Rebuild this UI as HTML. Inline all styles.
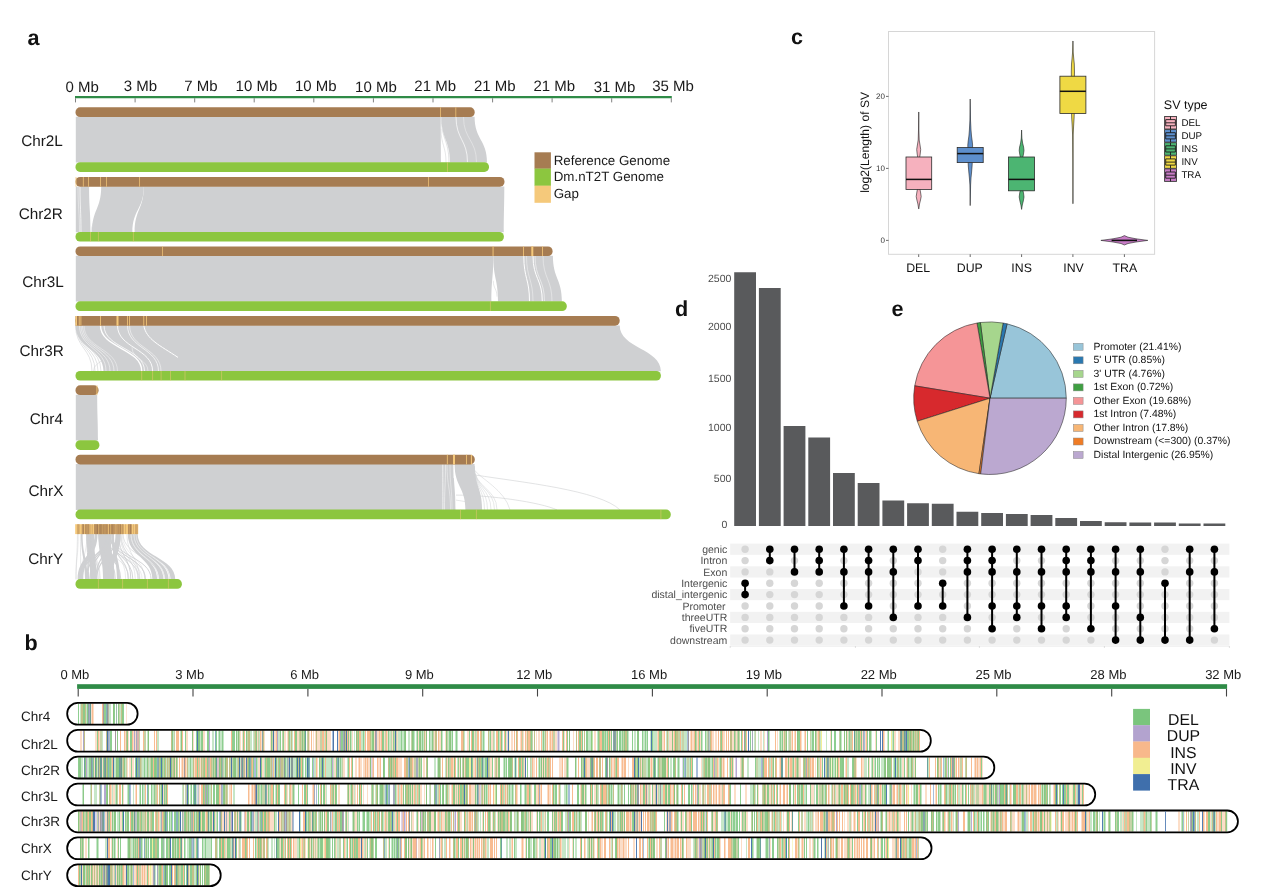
<!DOCTYPE html>
<html lang="en">
<head>
<meta charset="utf-8">
<title>Figure</title>
<style>
html,body{margin:0;padding:0;background:#fff;}
body{width:1267px;height:896px;overflow:hidden;}
svg{display:block;will-change:transform;}
text{font-family:"Liberation Sans",sans-serif;text-rendering:geometricPrecision;}
</style>
</head>
<body>
<svg width="1267" height="896" viewBox="0 0 1267 896">
<g id="panel-a">
<line x1="75" y1="97.2" x2="671.8" y2="97.2" stroke="#2f8b47" stroke-width="2.2"/>
<path d="M75.5 98.2v4.2M135.1 98.2v4.2M194.7 98.2v4.2M254.2 98.2v4.2M313.8 98.2v4.2M373.4 98.2v4.2M433 98.2v4.2M492.6 98.2v4.2M552.1 98.2v4.2M611.7 98.2v4.2M671.3 98.2v4.2" stroke="#808080" stroke-width="1" fill="none"/>
<text x="65.4" y="92.0" font-size="15" fill="#1a1a1a">0 Mb</text>
<text x="123.7" y="91.2" font-size="15" fill="#1a1a1a">3 Mb</text>
<text x="184.2" y="91.2" font-size="15" fill="#1a1a1a">7 Mb</text>
<text x="235.6" y="91.2" font-size="15" fill="#1a1a1a">10 Mb</text>
<text x="295" y="91.2" font-size="15" fill="#1a1a1a">10 Mb</text>
<text x="355.1" y="92.3" font-size="15" fill="#1a1a1a">10 Mb</text>
<text x="414.3" y="91.2" font-size="15" fill="#1a1a1a">21 Mb</text>
<text x="473.9" y="91.2" font-size="15" fill="#1a1a1a">21 Mb</text>
<text x="533.4" y="91.2" font-size="15" fill="#1a1a1a">21 Mb</text>
<text x="593.7" y="92.3" font-size="15" fill="#1a1a1a">31 Mb</text>
<text x="652.2" y="91.2" font-size="15" fill="#1a1a1a">35 Mb</text>
<path d="M75.8 116.7C75.8 139.6 75.8 139.6 75.8 162.5L441 162.5C441 139.6 440.7 139.6 440.7 116.7Z" fill="#cfd0d2"/>
<path d="M441.4 116.7C441.4 139.6 450 139.6 450 162.5L487 162.5C487 139.6 474.6 139.6 474.6 116.7Z" fill="#cfd0d2"/>
<path d="M456 116.7C456 139.6 467.5 139.6 467.5 162.5" fill="none" stroke="#fff" stroke-width="0.7"/>
<path d="M463.5 116.7C463.5 139.6 476.5 139.6 476.5 162.5" fill="none" stroke="#fff" stroke-width="0.5" stroke-opacity="0.7"/>
<path d="M441.2 116.7C441.2 139.6 449 139.6 449 162.5" fill="none" stroke="#cfd0d2" stroke-width="0.6"/>
<path d="M441 128.7C441 145.6 446 145.6 446 162.5" fill="none" stroke="#cfd0d2" stroke-width="0.5"/>
<rect x="75.5" y="107.3" width="399.2" height="9.7" rx="4.6" fill="#a67c52"/>
<rect x="440" y="107.3" width="0.7" height="9.7" fill="#f5c97b"/>
<rect x="455.5" y="107.3" width="0.7" height="9.7" fill="#f5c97b"/>
<rect x="75.5" y="162.2" width="413.5" height="9.7" rx="4.6" fill="#8cc63f"/>
<path d="M447.5 162.2v9.7" stroke="#f5c97b" stroke-width="0.6" stroke-opacity="0.8" fill="none"/>
<text x="62.9" y="146.0" font-size="15.3" text-anchor="end" fill="#1a1a1a">Chr2L</text>
<path d="M75.8 186.4C75.8 209.3 75.8 209.3 75.8 232.2L90.5 232.2C90.5 209.3 89.1 209.3 89.1 186.4Z" fill="#cfd0d2"/>
<path d="M101.2 186.4C101.2 209.3 92 209.3 92 232.2L132.4 232.2C132.4 209.3 143.8 209.3 143.8 186.4Z" fill="#cfd0d2"/>
<path d="M143.8 186.4C143.8 209.3 134.6 209.3 134.6 232.2L503.8 232.2C503.8 209.3 504.3 209.3 504.3 186.4Z" fill="#cfd0d2"/>
<path d="M80 186.4C80 209.3 81 209.3 81 232.2" fill="none" stroke="#fff" stroke-width="0.7"/>
<path d="M78 186.4C78 209.3 79.5 209.3 79.5 232.2" fill="none" stroke="#fff" stroke-width="0.4"/>
<path d="M99 206.4C99 219.3 91.5 219.3 91.5 232.2" fill="none" stroke="#cfd0d2" stroke-width="0.5"/>
<rect x="75.5" y="177.0" width="429" height="9.7" rx="4.6" fill="#a67c52"/>
<rect x="75.6" y="177.0" width="0.8" height="9.7" fill="#f5c97b"/>
<rect x="82.9" y="177.0" width="0.7" height="9.7" fill="#f5c97b"/>
<rect x="88.1" y="177.0" width="0.7" height="9.7" fill="#f5c97b"/>
<rect x="100.2" y="177.0" width="0.7" height="9.7" fill="#f5c97b"/>
<rect x="106.2" y="177.0" width="0.7" height="9.7" fill="#f5c97b"/>
<rect x="139.2" y="177.0" width="0.7" height="9.7" fill="#f5c97b"/>
<rect x="428" y="177.0" width="0.7" height="9.7" fill="#f5c97b"/>
<rect x="75.5" y="231.9" width="428.4" height="9.7" rx="4.6" fill="#8cc63f"/>
<path d="M90.5 231.9v9.7M98.4 231.9v9.7M133.4 231.9v9.7" stroke="#f5c97b" stroke-width="0.6" stroke-opacity="0.8" fill="none"/>
<text x="62.9" y="218.7" font-size="15.3" text-anchor="end" fill="#1a1a1a">Chr2R</text>
<path d="M75.8 255.8C75.8 278.7 75.8 278.7 75.8 301.6L491.4 301.6C491.4 278.7 493.3 278.7 493.3 255.8Z" fill="#cfd0d2"/>
<path d="M493.3 255.8C493.3 278.7 498 278.7 498 301.6L561.9 301.6C561.9 278.7 552.9 278.7 552.9 255.8Z" fill="#cfd0d2"/>
<path d="M523.8 255.8C523.8 278.7 529.5 278.7 529.5 301.6" fill="none" stroke="#fff" stroke-width="1.0"/>
<path d="M526.5 255.8C526.5 278.7 533 278.7 533 301.6" fill="none" stroke="#fff" stroke-width="0.4"/>
<path d="M533 255.8C533 278.7 542.3 278.7 542.3 301.6" fill="none" stroke="#fff" stroke-width="1.0"/>
<path d="M535 255.8C535 278.7 544.5 278.7 544.5 301.6" fill="none" stroke="#fff" stroke-width="0.5"/>
<path d="M543 255.8C543 278.7 552 278.7 552 301.6" fill="none" stroke="#fff" stroke-width="0.4"/>
<path d="M493.3 280.8C493.3 288.7 497 288.7 497 296.6" fill="none" stroke="#cfd0d2" stroke-width="0.5"/>
<rect x="75.5" y="246.4" width="477.1" height="9.7" rx="4.6" fill="#a67c52"/>
<rect x="162.2" y="246.4" width="0.7" height="9.7" fill="#f5c97b"/>
<rect x="492.6" y="246.4" width="0.9" height="9.7" fill="#f5c97b"/>
<rect x="523.1" y="246.4" width="0.8" height="9.7" fill="#f5c97b"/>
<rect x="531.3" y="246.4" width="2.0" height="9.7" fill="#f5c97b"/>
<rect x="542.2" y="246.4" width="0.8" height="9.7" fill="#f5c97b"/>
<rect x="75.5" y="301.3" width="491.3" height="9.7" rx="4.6" fill="#8cc63f"/>
<path d="M490.4 301.3v9.7" stroke="#f5c97b" stroke-width="0.6" stroke-opacity="0.8" fill="none"/>
<text x="63.9" y="287.0" font-size="15.3" text-anchor="end" fill="#1a1a1a">Chr3L</text>
<path d="M75.5 325.4C75.5 348.3 103.5 348.3 103.5 371.2L660.9 371.2C660.9 348.3 619.7 348.3 619.7 325.4Z" fill="#cfd0d2"/>
<path d="M75.6 325.4C75.6 348.3 92 348.3 92 371.2" fill="none" stroke="#cfd0d2" stroke-width="0.6"/>
<path d="M76.5 325.4C76.5 348.3 95 348.3 95 371.2" fill="none" stroke="#cfd0d2" stroke-width="0.6"/>
<path d="M77.2 325.4C77.2 348.3 98 348.3 98 371.2" fill="none" stroke="#cfd0d2" stroke-width="0.6"/>
<path d="M78 325.4C78 348.3 101 348.3 101 371.2" fill="none" stroke="#cfd0d2" stroke-width="0.6"/>
<path d="M112 349.4C112 360.3 93.5 360.3 93.5 371.2" fill="none" stroke="#cfd0d2" stroke-width="0.5"/>
<path d="M79.5 325.4C79.5 348.3 106 348.3 106 371.2" fill="none" stroke="#fff" stroke-width="0.5"/>
<path d="M81 325.4C81 348.3 110 348.3 110 371.2" fill="none" stroke="#fff" stroke-width="0.5"/>
<path d="M82.5 325.4C82.5 348.3 114 348.3 114 371.2" fill="none" stroke="#fff" stroke-width="0.5"/>
<path d="M84 325.4C84 348.3 117.5 348.3 117.5 371.2" fill="none" stroke="#fff" stroke-width="0.4"/>
<path d="M100.5 325.4C100.5 348.3 141.7 348.3 141.7 371.2" fill="none" stroke="#fff" stroke-width="1.4"/>
<path d="M104 325.4C104 348.3 144.5 348.3 144.5 371.2" fill="none" stroke="#fff" stroke-width="0.8"/>
<path d="M117.5 325.4C117.5 348.3 152.6 348.3 152.6 371.2" fill="none" stroke="#fff" stroke-width="0.9"/>
<path d="M127.5 325.4C127.5 348.3 158.5 348.3 158.5 371.2" fill="none" stroke="#fff" stroke-width="0.7"/>
<path d="M129.6 325.4C129.6 348.3 161 348.3 161 371.2" fill="none" stroke="#fff" stroke-width="0.5"/>
<path d="M132 347.4C132 359.3 148 359.3 148 371.2" fill="none" stroke="#fff" stroke-width="0.4"/>
<path d="M143.8 325.4C146 339.4 160 345.4 178 357.4" fill="none" stroke="#fff" stroke-width="1"/>
<rect x="75.5" y="316.0" width="544.2" height="9.7" rx="4.6" fill="#a67c52"/>
<rect x="75.5" y="316.0" width="6" height="9.7" fill="#a67c52"/>
<rect x="75.5" y="316.0" width="1.5" height="9.7" fill="#f5c97b"/>
<rect x="78.8" y="316.0" width="0.8" height="9.7" fill="#f5c97b"/>
<rect x="80.5" y="316.0" width="0.8" height="9.7" fill="#f5c97b"/>
<rect x="100.1" y="316.0" width="0.8" height="9.7" fill="#f5c97b"/>
<rect x="116.5" y="316.0" width="2.0" height="9.7" fill="#f5c97b"/>
<rect x="127.1" y="316.0" width="0.8" height="9.7" fill="#f5c97b"/>
<rect x="129.2" y="316.0" width="0.8" height="9.7" fill="#f5c97b"/>
<rect x="143.4" y="316.0" width="0.8" height="9.7" fill="#f5c97b"/>
<rect x="146" y="316.0" width="0.8" height="9.7" fill="#f5c97b"/>
<rect x="75.5" y="370.9" width="585.4" height="9.7" rx="4.6" fill="#8cc63f"/>
<path d="M141.7 370.9v9.7M152.6 370.9v9.7M161.1 370.9v9.7M170.5 370.9v9.7M185 370.9v9.7M221.6 370.9v9.7" stroke="#f5c97b" stroke-width="0.6" stroke-opacity="0.8" fill="none"/>
<text x="63.7" y="355.9" font-size="15.3" text-anchor="end" fill="#1a1a1a">Chr3R</text>
<path d="M75.8 394.7C75.8 417.6 75.8 417.6 75.8 440.5L98 440.5C98 417.6 97.2 417.6 97.2 394.7Z" fill="#cfd0d2"/>
<rect x="75.5" y="385.3" width="23.1" height="9.7" rx="4.6" fill="#a67c52"/>
<rect x="96.5" y="385.3" width="0.9" height="9.7" fill="#f5c97b"/>
<rect x="75.5" y="440.2" width="23.9" height="9.7" rx="4.6" fill="#8cc63f"/>
<text x="62.9" y="423.8" font-size="15.3" text-anchor="end" fill="#1a1a1a">Chr4</text>
<path d="M75.8 464.1C75.8 487 75.8 487 75.8 509.9L455.5 509.9C455.5 487 453.6 487 453.6 464.1Z" fill="#cfd0d2"/>
<path d="M454.6 464.1C454.6 487 465.4 487 465.4 509.9L482.1 509.9C482.1 487 474.6 487 474.6 464.1Z" fill="#cfd0d2"/>
<path d="M442.8 464.1C442.8 487 442.9 487 442.9 509.9" fill="none" stroke="#fff" stroke-width="0.7"/>
<path d="M445.5 464.1C445.5 487 444.5 487 444.5 509.9" fill="none" stroke="#fff" stroke-width="0.5"/>
<path d="M447 464.1C447 487 450.5 487 450.5 509.9" fill="none" stroke="#fff" stroke-width="0.4"/>
<path d="M450 464.1C450 487 452 487 452 509.9" fill="none" stroke="#fff" stroke-width="0.4"/>
<path d="M453.8 464.1C453.8 471.1 454 471.1 454 478.1" fill="none" stroke="#fff" stroke-width="0.8"/>
<path d="M474 466.1C474 488 484.5 488 484.5 509.9" fill="none" stroke="#cfd0d2" stroke-width="0.5"/>
<path d="M474 466.1C474 488 487.5 488 487.5 509.9" fill="none" stroke="#cfd0d2" stroke-width="0.5"/>
<path d="M474 466.1C474 488 491 488 491 509.9" fill="none" stroke="#cfd0d2" stroke-width="0.5"/>
<path d="M474 466.1C474 488 494.5 488 494.5 509.9" fill="none" stroke="#cfd0d2" stroke-width="0.5"/>
<path d="M474 466.1C474 488 497 488 497 509.9" fill="none" stroke="#cfd0d2" stroke-width="0.5"/>
<path d="M474.5 470.1C480 478.1 505 490.1 510 509.9" fill="none" stroke="#cfd0d2" stroke-width="0.5"/>
<path d="M476 475.1C520 482.1 600 490.1 620 509.9" fill="none" stroke="#cfd0d2" stroke-width="0.6"/>
<path d="M456 495.1C490 495.1 540 502.1 557 509.9" fill="none" stroke="#cfd0d2" stroke-width="0.6"/>
<path d="M456 500.1C470 502.1 480 505.1 482 505.1" fill="none" stroke="#cfd0d2" stroke-width="0.5"/>
<rect x="75.5" y="454.7" width="399.3" height="9.7" rx="4.6" fill="#a67c52"/>
<rect x="446.9" y="454.7" width="0.8" height="9.7" fill="#f5c97b"/>
<rect x="453" y="454.7" width="2.0" height="9.7" fill="#f5c97b"/>
<rect x="466.1" y="454.7" width="0.8" height="9.7" fill="#f5c97b"/>
<rect x="470.9" y="454.7" width="1.0" height="9.7" fill="#f5c97b"/>
<rect x="75.5" y="509.6" width="595.3" height="9.7" rx="4.6" fill="#8cc63f"/>
<path d="M460.5 509.6v9.7M476.4 509.6v9.7M660.9 509.6v9.7" stroke="#f5c97b" stroke-width="0.6" stroke-opacity="0.8" fill="none"/>
<text x="63.4" y="496.1" font-size="15.3" text-anchor="end" fill="#1a1a1a">ChrX</text>
<path d="M86.6 533.9C86.6 556.7 90.4 556.7 90.4 579.4L96.5 579.4C96.5 556.7 94.1 556.7 94.1 533.9Z" fill="#cfd0d2"/>
<path d="M98.4 533.9C98.4 556.7 103.1 556.7 103.1 579.4L114.5 579.4C114.5 556.7 110.7 556.7 110.7 533.9Z" fill="#cfd0d2"/>
<path d="M94.6 533.9C94.6 556.7 77.6 556.7 77.6 579.4L83.3 579.4C83.3 556.7 97.5 556.7 97.5 533.9Z" fill="#cfd0d2"/>
<path d="M115.5 533.9C115.5 556.7 108 556.7 108 579.4L112.5 579.4C112.5 556.7 120.5 556.7 120.5 533.9Z" fill="#cfd0d2"/>
<path d="M127.8 533.9C127.8 556.7 152.4 556.7 152.4 579.4L157.2 579.4C157.2 556.7 130.6 556.7 130.6 533.9Z" fill="#cfd0d2"/>
<path d="M131.4 533.9C131.4 556.7 159 556.7 159 579.4L163.5 579.4C163.5 556.7 133.6 556.7 133.6 533.9Z" fill="#cfd0d2"/>
<path d="M134.2 533.9C134.2 556.7 165 556.7 165 579.4L168.6 579.4C168.6 556.7 135.7 556.7 135.7 533.9Z" fill="#cfd0d2"/>
<path d="M136.2 533.9C136.2 556.7 170.6 556.7 170.6 579.4L175.3 579.4C175.3 556.7 137.7 556.7 137.7 533.9Z" fill="#cfd0d2"/>
<path d="M81 533.9C81 556.7 85 556.7 85 579.4L87.5 579.4C87.5 556.7 82.6 556.7 82.6 533.9Z" fill="#cfd0d2"/>
<path d="M111.5 533.9C111.5 556.7 117 556.7 117 579.4L120 579.4C120 556.7 114 556.7 114 533.9Z" fill="#cfd0d2"/>
<path d="M86.9 533.9C86.9 556.7 88.5 556.7 88.5 579.4" fill="none" stroke="#cfd0d2" stroke-width="1.0"/>
<path d="M86.8 533.9C86.8 556.7 96.8 556.7 96.8 579.4" fill="none" stroke="#cfd0d2" stroke-width="0.5"/>
<path d="M80.4 533.9C80.4 556.7 80.8 556.7 80.8 579.4" fill="none" stroke="#cfd0d2" stroke-width="0.5"/>
<path d="M78.3 533.9C78.3 556.7 76 556.7 76 579.4" fill="none" stroke="#cfd0d2" stroke-width="0.4"/>
<path d="M88.9 533.9C88.9 556.7 99.9 556.7 99.9 579.4" fill="none" stroke="#cfd0d2" stroke-width="0.4"/>
<path d="M90.3 533.9C90.3 556.7 87.4 556.7 87.4 579.4" fill="none" stroke="#cfd0d2" stroke-width="1.0"/>
<path d="M91.7 533.9C91.7 556.7 94.9 556.7 94.9 579.4" fill="none" stroke="#cfd0d2" stroke-width="0.5"/>
<path d="M91 533.9C91 556.7 100.2 556.7 100.2 579.4" fill="none" stroke="#cfd0d2" stroke-width="0.4"/>
<path d="M77.4 533.9C77.4 556.7 76 556.7 76 579.4" fill="none" stroke="#cfd0d2" stroke-width="0.5"/>
<path d="M90.4 533.9C90.4 556.7 98.2 556.7 98.2 579.4" fill="none" stroke="#cfd0d2" stroke-width="0.7"/>
<path d="M86.6 533.9C86.6 556.7 96.2 556.7 96.2 579.4" fill="none" stroke="#cfd0d2" stroke-width="0.5"/>
<path d="M91.4 533.9C91.4 556.7 91.4 556.7 91.4 579.4" fill="none" stroke="#cfd0d2" stroke-width="0.4"/>
<path d="M87 533.9C87 556.7 80.8 556.7 80.8 579.4" fill="none" stroke="#cfd0d2" stroke-width="0.4"/>
<path d="M93 533.9C93 556.7 87.8 556.7 87.8 579.4" fill="none" stroke="#cfd0d2" stroke-width="0.5"/>
<path d="M112.9 533.9C112.9 556.7 125.7 556.7 125.7 579.4" fill="none" stroke="#cfd0d2" stroke-width="0.4"/>
<path d="M109.6 533.9C109.6 556.7 145.3 556.7 145.3 579.4" fill="none" stroke="#cfd0d2" stroke-width="0.9"/>
<path d="M99.9 533.9C99.9 556.7 112.4 556.7 112.4 579.4" fill="none" stroke="#cfd0d2" stroke-width="0.4"/>
<path d="M104.2 533.9C104.2 556.7 142.1 556.7 142.1 579.4" fill="none" stroke="#cfd0d2" stroke-width="0.4"/>
<path d="M111.6 533.9C111.6 556.7 151.1 556.7 151.1 579.4" fill="none" stroke="#cfd0d2" stroke-width="0.9"/>
<path d="M110.2 533.9C110.2 556.7 138 556.7 138 579.4" fill="none" stroke="#cfd0d2" stroke-width="0.5"/>
<path d="M120.6 533.9C120.6 556.7 140.1 556.7 140.1 579.4" fill="none" stroke="#cfd0d2" stroke-width="0.4"/>
<path d="M107 533.9C107 556.7 119.4 556.7 119.4 579.4" fill="none" stroke="#cfd0d2" stroke-width="0.9"/>
<path d="M120 533.9C120 556.7 135.3 556.7 135.3 579.4" fill="none" stroke="#cfd0d2" stroke-width="0.5"/>
<path d="M118.5 533.9C118.5 556.7 130.8 556.7 130.8 579.4" fill="none" stroke="#cfd0d2" stroke-width="0.9"/>
<path d="M121.1 533.9C121.1 556.7 138.1 556.7 138.1 579.4" fill="none" stroke="#cfd0d2" stroke-width="0.5"/>
<path d="M111 533.9C111 556.7 128.3 556.7 128.3 579.4" fill="none" stroke="#cfd0d2" stroke-width="0.5"/>
<path d="M110.2 533.9C110.2 556.7 132.9 556.7 132.9 579.4" fill="none" stroke="#cfd0d2" stroke-width="0.9"/>
<path d="M110.2 533.9C110.2 556.7 128.2 556.7 128.2 579.4" fill="none" stroke="#cfd0d2" stroke-width="0.6"/>
<path d="M123.1 533.9C123.1 556.7 160 556.7 160 579.4" fill="none" stroke="#cfd0d2" stroke-width="0.6"/>
<path d="M126.9 533.9C126.9 556.7 139.5 556.7 139.5 579.4" fill="none" stroke="#cfd0d2" stroke-width="0.5"/>
<path d="M109.4 533.9C109.4 556.7 145.4 556.7 145.4 579.4" fill="none" stroke="#cfd0d2" stroke-width="0.4"/>
<path d="M99.2 533.9C99.2 556.7 115.3 556.7 115.3 579.4" fill="none" stroke="#cfd0d2" stroke-width="0.9"/>
<path d="M105.5 533.9C105.5 556.7 139.1 556.7 139.1 579.4" fill="none" stroke="#cfd0d2" stroke-width="0.6"/>
<path d="M122.1 533.9C122.1 556.7 144.9 556.7 144.9 579.4" fill="none" stroke="#cfd0d2" stroke-width="0.4"/>
<path d="M100.6 533.9C100.6 556.7 128.9 556.7 128.9 579.4" fill="none" stroke="#cfd0d2" stroke-width="0.5"/>
<path d="M98.4 533.9C98.4 556.7 120.8 556.7 120.8 579.4" fill="none" stroke="#cfd0d2" stroke-width="0.9"/>
<path d="M106.5 533.9C106.5 556.7 86 556.7 86 579.4" fill="none" stroke="#cfd0d2" stroke-width="1.2"/>
<path d="M106.7 533.9C106.7 556.7 89.8 556.7 89.8 579.4" fill="none" stroke="#cfd0d2" stroke-width="1.2"/>
<path d="M107.1 533.9C107.1 556.7 80.7 556.7 80.7 579.4" fill="none" stroke="#cfd0d2" stroke-width="1.2"/>
<path d="M109 533.9C109 556.7 95.6 556.7 95.6 579.4" fill="none" stroke="#cfd0d2" stroke-width="1.2"/>
<path d="M116.6 533.9C116.6 556.7 96.6 556.7 96.6 579.4" fill="none" stroke="#cfd0d2" stroke-width="1.2"/>
<path d="M131 533.9C131 556.7 158 556.7 158 579.4" fill="none" stroke="#cfd0d2" stroke-width="0.5"/>
<path d="M133.9 533.9C133.9 556.7 164.2 556.7 164.2 579.4" fill="none" stroke="#cfd0d2" stroke-width="0.5"/>
<path d="M136 533.9C136 556.7 169.6 556.7 169.6 579.4" fill="none" stroke="#cfd0d2" stroke-width="0.5"/>
<rect x="75.2" y="524.2" width="63" height="9.899999999999999" fill="#f5c97b"/>
<rect x="77.1" y="524.2" width="2.4" height="9.899999999999999" fill="#a67c52" fill-opacity="0.55"/>
<rect x="81.8" y="524.2" width="2.4" height="9.899999999999999" fill="#a67c52" fill-opacity="0.9"/>
<rect x="85.2" y="524.2" width="4.2" height="9.899999999999999" fill="#a67c52" fill-opacity="0.95"/>
<rect x="94.1" y="524.2" width="4.3" height="9.899999999999999" fill="#a67c52" fill-opacity="1"/>
<rect x="98.9" y="524.2" width="3.8" height="9.899999999999999" fill="#a67c52" fill-opacity="1"/>
<rect x="103.1" y="524.2" width="4.8" height="9.899999999999999" fill="#a67c52" fill-opacity="0.95"/>
<rect x="108.8" y="524.2" width="1.4" height="9.899999999999999" fill="#a67c52" fill-opacity="0.9"/>
<rect x="110.7" y="524.2" width="4.8" height="9.899999999999999" fill="#a67c52" fill-opacity="1"/>
<rect x="116.4" y="524.2" width="4.7" height="9.899999999999999" fill="#a67c52" fill-opacity="0.95"/>
<rect x="121.6" y="524.2" width="1.9" height="9.899999999999999" fill="#a67c52" fill-opacity="0.85"/>
<rect x="128.2" y="524.2" width="3.4" height="9.899999999999999" fill="#a67c52" fill-opacity="0.95"/>
<rect x="135.3" y="524.2" width="2.3" height="9.899999999999999" fill="#a67c52" fill-opacity="0.6"/>
<rect x="90.6" y="524.2" width="0.6" height="9.899999999999999" fill="#a67c52" fill-opacity="0.7"/>
<rect x="92.3" y="524.2" width="0.5" height="9.899999999999999" fill="#a67c52" fill-opacity="0.6"/>
<rect x="125.3" y="524.2" width="0.5" height="9.899999999999999" fill="#a67c52" fill-opacity="0.6"/>
<rect x="133" y="524.2" width="0.5" height="9.899999999999999" fill="#a67c52" fill-opacity="0.6"/>
<path d="M77.9 524.2v9.899999999999999M82.7 524.2v9.899999999999999M86.3 524.2v9.899999999999999M87.3 524.2v9.899999999999999M88.2 524.2v9.899999999999999M94.9 524.2v9.899999999999999M96.1 524.2v9.899999999999999M99.9 524.2v9.899999999999999M101.9 524.2v9.899999999999999M104.2 524.2v9.899999999999999M105.3 524.2v9.899999999999999M107 524.2v9.899999999999999M111.9 524.2v9.899999999999999M113.7 524.2v9.899999999999999M114.6 524.2v9.899999999999999M117.5 524.2v9.899999999999999M118.8 524.2v9.899999999999999M119.7 524.2v9.899999999999999M122.6 524.2v9.899999999999999M129.5 524.2v9.899999999999999M136.6 524.2v9.899999999999999" stroke="#f5c97b" stroke-width="0.45" stroke-opacity="0.75" fill="none"/>
<rect x="75.5" y="579.1" width="106.4" height="9.7" rx="4.6" fill="#8cc63f"/>
<path d="M98.4 579.1v9.7M122.6 579.1v9.7M147.4 579.1v9.7M168.4 579.1v9.7" stroke="#f5c97b" stroke-width="0.6" stroke-opacity="0.8" fill="none"/>
<text x="63.1" y="564.2" font-size="15.3" text-anchor="end" fill="#1a1a1a">ChrY</text>
<rect x="534.5" y="152.3" width="16.4" height="16.5" fill="#a67c52"/>
<rect x="534.5" y="168.6" width="16.4" height="17.3" fill="#8cc63f"/>
<rect x="534.5" y="185.7" width="16.4" height="17.1" fill="#f5c97b"/>
<text x="553.7" y="164.8" font-size="13.35" fill="#1a1a1a">Reference Genome</text>
<text x="553.7" y="180.9" font-size="13.35" fill="#1a1a1a">Dm.nT2T Genome</text>
<text x="553.7" y="197.9" font-size="13.35" fill="#1a1a1a">Gap</text>
</g>
<g id="panel-c">
<rect x="888.5" y="31.5" width="266.1" height="222.8" fill="#fff" stroke="#d6d6d6" stroke-width="1"/>
<path d="M918.7 112L918.5 130L918.2 140L917.4 145L916.7 149.5L917.2 154L917.8 158L918 170L917.7 188L916.9 192L916.2 196.5L916.9 200L917.9 204L918.7 208.9L918.8 208.9L919.5 204L920.5 200L921.2 196.5L920.5 192L919.7 188L919.4 170L919.6 158L920.2 154L920.7 149.5L920 145L919.2 140L918.9 130L918.8 112Z" fill="#f6b1be" stroke="#222" stroke-width="0.6" stroke-linejoin="round"/>
<rect x="906.0" y="157.0" width="25.7" height="32.4" fill="#f6b1be" stroke="#2b2b2b" stroke-width="0.8"/>
<line x1="906.0" y1="179.4" x2="931.7" y2="179.4" stroke="#111" stroke-width="1.5"/>
<path d="M970.2 99L969.9 120L969.4 130L968.9 136L968.2 141L967.8 145L967.9 150L968 160L968.3 166L968.8 172L969.4 178L969.9 185L970.2 205.6L970.2 205.6L970.6 185L971 178L971.6 172L972.1 166L972.4 160L972.5 150L972.6 145L972.2 141L971.5 136L971 130L970.5 120L970.2 99Z" fill="#5d8fcd" stroke="#222" stroke-width="0.6" stroke-linejoin="round"/>
<rect x="957.2" y="147.5" width="26" height="15.1" fill="#5d8fcd" stroke="#2b2b2b" stroke-width="0.8"/>
<line x1="957.2" y1="153.6" x2="983.2" y2="153.6" stroke="#111" stroke-width="1.5"/>
<path d="M1021.6 130L1021.3 138L1020.6 143L1019.6 147L1019.2 150.5L1019.7 154L1020.5 158L1020.9 170L1020.6 189L1019.7 193L1019.2 197L1019.9 201L1020.9 205L1021.6 209.4L1021.6 209.4L1022.3 205L1023.3 201L1024 197L1023.5 193L1022.6 189L1022.3 170L1022.7 158L1023.5 154L1024 150.5L1023.6 147L1022.6 143L1021.9 138L1021.6 130Z" fill="#4cb572" stroke="#222" stroke-width="0.6" stroke-linejoin="round"/>
<rect x="1008.5" y="157.0" width="26" height="33.8" fill="#4cb572" stroke="#2b2b2b" stroke-width="0.8"/>
<line x1="1008.5" y1="179.4" x2="1034.5" y2="179.4" stroke="#111" stroke-width="1.5"/>
<path d="M1072.9 41L1072.6 52L1072.1 58L1071.5 64L1071.3 72L1071.4 80L1071.5 112L1071.7 118L1072.2 126L1072.6 135L1072.8 160L1072.9 203.7L1073 203.7L1073.1 160L1073.2 135L1073.6 126L1074.1 118L1074.3 112L1074.4 80L1074.5 72L1074.3 64L1073.7 58L1073.2 52L1073 41Z" fill="#efd944" stroke="#222" stroke-width="0.6" stroke-linejoin="round"/>
<rect x="1059.9" y="76.2" width="26" height="37.3" fill="#efd944" stroke="#2b2b2b" stroke-width="0.8"/>
<line x1="1059.9" y1="91.3" x2="1085.9" y2="91.3" stroke="#111" stroke-width="1.5"/>
<path d="M1100.9 240.4L1113 238.8L1121 237.2L1124.4 235.6L1128 237.2L1136 238.8L1147.8 240.4L1136 242L1128 243.5L1124.4 245L1121 243.5L1113 242Z" fill="#c77cc6" stroke="#222" stroke-width="0.6" stroke-linejoin="round"/>
<line x1="1111.6" y1="240.4" x2="1137" y2="240.4" stroke="#111" stroke-width="1.6"/>
<line x1="886" y1="240.4" x2="888.5" y2="240.4" stroke="#444" stroke-width="0.8"/>
<text x="885" y="243.3" font-size="8" text-anchor="end" fill="#333">0</text>
<line x1="886" y1="168.4" x2="888.5" y2="168.4" stroke="#444" stroke-width="0.8"/>
<text x="885" y="171.3" font-size="8" text-anchor="end" fill="#333">10</text>
<line x1="886" y1="96.4" x2="888.5" y2="96.4" stroke="#444" stroke-width="0.8"/>
<text x="885" y="99.3" font-size="8" text-anchor="end" fill="#333">20</text>
<line x1="918.7" y1="254.3" x2="918.7" y2="257" stroke="#444" stroke-width="0.8"/>
<text x="918.2" y="271.8" font-size="12.3" text-anchor="middle" fill="#111">DEL</text>
<line x1="970.2" y1="254.3" x2="970.2" y2="257" stroke="#444" stroke-width="0.8"/>
<text x="969.8" y="271.8" font-size="12.3" text-anchor="middle" fill="#111">DUP</text>
<line x1="1021.6" y1="254.3" x2="1021.6" y2="257" stroke="#444" stroke-width="0.8"/>
<text x="1021.6" y="271.8" font-size="12.3" text-anchor="middle" fill="#111">INS</text>
<line x1="1072.9" y1="254.3" x2="1072.9" y2="257" stroke="#444" stroke-width="0.8"/>
<text x="1073.5" y="271.8" font-size="12.3" text-anchor="middle" fill="#111">INV</text>
<line x1="1124.4" y1="254.3" x2="1124.4" y2="257" stroke="#444" stroke-width="0.8"/>
<text x="1124.9" y="271.8" font-size="12.3" text-anchor="middle" fill="#111">TRA</text>
<text transform="translate(868.8 142.4) rotate(-90)" font-size="12.1" text-anchor="middle" fill="#111">log2(Length) of SV</text>
<text x="1163.8" y="108.8" font-size="12.5" fill="#111">SV type</text>
<rect x="1164.6" y="116.5" width="11.9" height="12.5" fill="#f6b1be" stroke="#3a3a3a" stroke-width="0.9"/>
<path d="M1165.7 119.6h9.7v6.2h-9.7zM1165.7 122.8h9.7M1170.5 116.5v3.1M1170.5 125.9v3.1" fill="none" stroke="#1c1c1c" stroke-width="0.9"/>
<text x="1181.4" y="125.9" font-size="9.8" fill="#111">DEL</text>
<rect x="1164.6" y="129.6" width="11.9" height="12.5" fill="#5d8fcd" stroke="#3a3a3a" stroke-width="0.9"/>
<path d="M1165.7 132.7h9.7v6.2h-9.7zM1165.7 135.8h9.7M1170.5 129.6v3.1M1170.5 139v3.1" fill="none" stroke="#1c1c1c" stroke-width="0.9"/>
<text x="1181.4" y="139" font-size="9.8" fill="#111">DUP</text>
<rect x="1164.6" y="142.7" width="11.9" height="12.5" fill="#4cb572" stroke="#3a3a3a" stroke-width="0.9"/>
<path d="M1165.7 145.8h9.7v6.2h-9.7zM1165.7 148.9h9.7M1170.5 142.7v3.1M1170.5 152.1v3.1" fill="none" stroke="#1c1c1c" stroke-width="0.9"/>
<text x="1181.4" y="152.1" font-size="9.8" fill="#111">INS</text>
<rect x="1164.6" y="155.8" width="11.9" height="12.5" fill="#efd944" stroke="#3a3a3a" stroke-width="0.9"/>
<path d="M1165.7 158.9h9.7v6.2h-9.7zM1165.7 162.1h9.7M1170.5 155.8v3.1M1170.5 165.2v3.1" fill="none" stroke="#1c1c1c" stroke-width="0.9"/>
<text x="1181.4" y="165.2" font-size="9.8" fill="#111">INV</text>
<rect x="1164.6" y="168.9" width="11.9" height="12.5" fill="#c77cc6" stroke="#3a3a3a" stroke-width="0.9"/>
<path d="M1165.7 172h9.7v6.2h-9.7zM1165.7 175.2h9.7M1170.5 168.9v3.1M1170.5 178.3v3.1" fill="none" stroke="#1c1c1c" stroke-width="0.9"/>
<text x="1181.4" y="178.3" font-size="9.8" fill="#111">TRA</text>
</g>
<g id="panel-d">
<path d="M734.2 272.2h21.8V526.1h-21.8zM758.9 288.1h21.8V526.1h-21.8zM783.6 426.1h21.8V526.1h-21.8zM808.3 437.6h21.8V526.1h-21.8zM833 472.9h21.8V526.1h-21.8zM857.7 482.9h21.8V526.1h-21.8zM882.4 500.6h21.8V526.1h-21.8zM907.1 503.2h21.8V526.1h-21.8zM931.8 503.7h21.8V526.1h-21.8zM956.5 511.7h21.8V526.1h-21.8zM981.2 513h21.8V526.1h-21.8zM1005.9 513.9h21.8V526.1h-21.8zM1030.6 515.1h21.8V526.1h-21.8zM1055.3 518.1h21.8V526.1h-21.8zM1080 521h21.8V526.1h-21.8zM1104.7 522.2h21.8V526.1h-21.8zM1129.4 522.4h21.8V526.1h-21.8zM1154.1 522.6h21.8V526.1h-21.8zM1178.8 523.6h21.8V526.1h-21.8zM1203.5 523.6h21.8V526.1h-21.8z" fill="#595a5c"/>
<text x="731.4" y="281.5" font-size="10.5" text-anchor="end" fill="#4d4d4d">2500</text>
<text x="731.4" y="330.2" font-size="10.5" text-anchor="end" fill="#4d4d4d">2000</text>
<text x="731.4" y="381.6" font-size="10.5" text-anchor="end" fill="#4d4d4d">1500</text>
<text x="731.4" y="431.3" font-size="10.5" text-anchor="end" fill="#4d4d4d">1000</text>
<text x="731.4" y="482.4" font-size="10.5" text-anchor="end" fill="#4d4d4d">500</text>
<text x="727.4" y="528.1" font-size="10.5" text-anchor="end" fill="#4d4d4d">0</text>
<rect x="730.2" y="543.6" width="499.2" height="11.2" fill="#f2f2f2"/>
<rect x="730.2" y="566.3" width="499.2" height="11.2" fill="#f2f2f2"/>
<rect x="730.2" y="589" width="499.2" height="11.2" fill="#f2f2f2"/>
<rect x="730.2" y="611.8" width="499.2" height="11.2" fill="#f2f2f2"/>
<rect x="730.2" y="634.5" width="499.2" height="11.2" fill="#f2f2f2"/>
<text x="727.3" y="552.8" font-size="10.5" text-anchor="end" fill="#4d4d4d">genic</text>
<text x="727.3" y="564.2" font-size="10.5" text-anchor="end" fill="#4d4d4d">Intron</text>
<text x="727.3" y="575.5" font-size="10.5" text-anchor="end" fill="#4d4d4d">Exon</text>
<text x="727.3" y="586.9" font-size="10.5" text-anchor="end" fill="#4d4d4d">Intergenic</text>
<text x="727.3" y="598.2" font-size="10.5" text-anchor="end" fill="#4d4d4d">distal_intergenic</text>
<text x="725.6" y="609.6" font-size="10.5" text-anchor="end" fill="#4d4d4d">Promoter</text>
<text x="727.3" y="621" font-size="10.5" text-anchor="end" fill="#4d4d4d">threeUTR</text>
<text x="727.3" y="632.3" font-size="10.5" text-anchor="end" fill="#4d4d4d">fiveUTR</text>
<text x="727.3" y="643.7" font-size="10.5" text-anchor="end" fill="#4d4d4d">downstream</text>
<g fill="#d6d6d6"><circle cx="745.1" cy="549.2" r="3.7"/><circle cx="745.1" cy="560.6" r="3.7"/><circle cx="745.1" cy="571.9" r="3.7"/><circle cx="745.1" cy="606" r="3.7"/><circle cx="745.1" cy="617.4" r="3.7"/><circle cx="745.1" cy="628.7" r="3.7"/><circle cx="745.1" cy="640.1" r="3.7"/><circle cx="769.8" cy="571.9" r="3.7"/><circle cx="769.8" cy="583.3" r="3.7"/><circle cx="769.8" cy="594.6" r="3.7"/><circle cx="769.8" cy="606" r="3.7"/><circle cx="769.8" cy="617.4" r="3.7"/><circle cx="769.8" cy="628.7" r="3.7"/><circle cx="769.8" cy="640.1" r="3.7"/><circle cx="794.5" cy="560.6" r="3.7"/><circle cx="794.5" cy="583.3" r="3.7"/><circle cx="794.5" cy="594.6" r="3.7"/><circle cx="794.5" cy="606" r="3.7"/><circle cx="794.5" cy="617.4" r="3.7"/><circle cx="794.5" cy="628.7" r="3.7"/><circle cx="794.5" cy="640.1" r="3.7"/><circle cx="819.2" cy="583.3" r="3.7"/><circle cx="819.2" cy="594.6" r="3.7"/><circle cx="819.2" cy="606" r="3.7"/><circle cx="819.2" cy="617.4" r="3.7"/><circle cx="819.2" cy="628.7" r="3.7"/><circle cx="819.2" cy="640.1" r="3.7"/><circle cx="843.9" cy="560.6" r="3.7"/><circle cx="843.9" cy="583.3" r="3.7"/><circle cx="843.9" cy="594.6" r="3.7"/><circle cx="843.9" cy="617.4" r="3.7"/><circle cx="843.9" cy="628.7" r="3.7"/><circle cx="843.9" cy="640.1" r="3.7"/><circle cx="868.6" cy="583.3" r="3.7"/><circle cx="868.6" cy="594.6" r="3.7"/><circle cx="868.6" cy="617.4" r="3.7"/><circle cx="868.6" cy="628.7" r="3.7"/><circle cx="868.6" cy="640.1" r="3.7"/><circle cx="893.3" cy="560.6" r="3.7"/><circle cx="893.3" cy="583.3" r="3.7"/><circle cx="893.3" cy="594.6" r="3.7"/><circle cx="893.3" cy="606" r="3.7"/><circle cx="893.3" cy="628.7" r="3.7"/><circle cx="893.3" cy="640.1" r="3.7"/><circle cx="918" cy="571.9" r="3.7"/><circle cx="918" cy="583.3" r="3.7"/><circle cx="918" cy="594.6" r="3.7"/><circle cx="918" cy="617.4" r="3.7"/><circle cx="918" cy="628.7" r="3.7"/><circle cx="918" cy="640.1" r="3.7"/><circle cx="942.7" cy="549.2" r="3.7"/><circle cx="942.7" cy="560.6" r="3.7"/><circle cx="942.7" cy="571.9" r="3.7"/><circle cx="942.7" cy="594.6" r="3.7"/><circle cx="942.7" cy="617.4" r="3.7"/><circle cx="942.7" cy="628.7" r="3.7"/><circle cx="942.7" cy="640.1" r="3.7"/><circle cx="967.4" cy="583.3" r="3.7"/><circle cx="967.4" cy="594.6" r="3.7"/><circle cx="967.4" cy="606" r="3.7"/><circle cx="967.4" cy="628.7" r="3.7"/><circle cx="967.4" cy="640.1" r="3.7"/><circle cx="992.1" cy="583.3" r="3.7"/><circle cx="992.1" cy="594.6" r="3.7"/><circle cx="992.1" cy="617.4" r="3.7"/><circle cx="992.1" cy="640.1" r="3.7"/><circle cx="1016.8" cy="560.6" r="3.7"/><circle cx="1016.8" cy="583.3" r="3.7"/><circle cx="1016.8" cy="594.6" r="3.7"/><circle cx="1016.8" cy="628.7" r="3.7"/><circle cx="1016.8" cy="640.1" r="3.7"/><circle cx="1041.5" cy="560.6" r="3.7"/><circle cx="1041.5" cy="583.3" r="3.7"/><circle cx="1041.5" cy="594.6" r="3.7"/><circle cx="1041.5" cy="617.4" r="3.7"/><circle cx="1041.5" cy="640.1" r="3.7"/><circle cx="1066.2" cy="583.3" r="3.7"/><circle cx="1066.2" cy="594.6" r="3.7"/><circle cx="1066.2" cy="628.7" r="3.7"/><circle cx="1066.2" cy="640.1" r="3.7"/><circle cx="1090.9" cy="583.3" r="3.7"/><circle cx="1090.9" cy="594.6" r="3.7"/><circle cx="1090.9" cy="606" r="3.7"/><circle cx="1090.9" cy="617.4" r="3.7"/><circle cx="1090.9" cy="640.1" r="3.7"/><circle cx="1115.6" cy="560.6" r="3.7"/><circle cx="1115.6" cy="583.3" r="3.7"/><circle cx="1115.6" cy="594.6" r="3.7"/><circle cx="1115.6" cy="617.4" r="3.7"/><circle cx="1115.6" cy="628.7" r="3.7"/><circle cx="1140.3" cy="560.6" r="3.7"/><circle cx="1140.3" cy="583.3" r="3.7"/><circle cx="1140.3" cy="594.6" r="3.7"/><circle cx="1140.3" cy="606" r="3.7"/><circle cx="1140.3" cy="628.7" r="3.7"/><circle cx="1165" cy="549.2" r="3.7"/><circle cx="1165" cy="560.6" r="3.7"/><circle cx="1165" cy="571.9" r="3.7"/><circle cx="1165" cy="594.6" r="3.7"/><circle cx="1165" cy="606" r="3.7"/><circle cx="1165" cy="617.4" r="3.7"/><circle cx="1165" cy="628.7" r="3.7"/><circle cx="1189.7" cy="560.6" r="3.7"/><circle cx="1189.7" cy="583.3" r="3.7"/><circle cx="1189.7" cy="594.6" r="3.7"/><circle cx="1189.7" cy="606" r="3.7"/><circle cx="1189.7" cy="617.4" r="3.7"/><circle cx="1189.7" cy="628.7" r="3.7"/><circle cx="1214.4" cy="560.6" r="3.7"/><circle cx="1214.4" cy="583.3" r="3.7"/><circle cx="1214.4" cy="594.6" r="3.7"/><circle cx="1214.4" cy="606" r="3.7"/><circle cx="1214.4" cy="617.4" r="3.7"/><circle cx="1214.4" cy="640.1" r="3.7"/></g>
<path d="M745.1 583.3V594.6M769.8 549.2V560.6M794.5 549.2V571.9M819.2 549.2V571.9M843.9 549.2V606M868.6 549.2V606M893.3 549.2V617.4M918 549.2V606M942.7 583.3V606M967.4 549.2V617.4M992.1 549.2V628.7M1016.8 549.2V617.4M1041.5 549.2V628.7M1066.2 549.2V617.4M1090.9 549.2V628.7M1115.6 549.2V640.1M1140.3 549.2V640.1M1165 583.3V640.1M1189.7 549.2V640.1M1214.4 549.2V628.7" stroke="#000" stroke-width="2" fill="none"/>
<g fill="#000"><circle cx="745.1" cy="583.3" r="3.8"/><circle cx="745.1" cy="594.6" r="3.8"/><circle cx="769.8" cy="549.2" r="3.8"/><circle cx="769.8" cy="560.6" r="3.8"/><circle cx="794.5" cy="549.2" r="3.8"/><circle cx="794.5" cy="571.9" r="3.8"/><circle cx="819.2" cy="549.2" r="3.8"/><circle cx="819.2" cy="560.6" r="3.8"/><circle cx="819.2" cy="571.9" r="3.8"/><circle cx="843.9" cy="549.2" r="3.8"/><circle cx="843.9" cy="571.9" r="3.8"/><circle cx="843.9" cy="606" r="3.8"/><circle cx="868.6" cy="549.2" r="3.8"/><circle cx="868.6" cy="560.6" r="3.8"/><circle cx="868.6" cy="571.9" r="3.8"/><circle cx="868.6" cy="606" r="3.8"/><circle cx="893.3" cy="549.2" r="3.8"/><circle cx="893.3" cy="571.9" r="3.8"/><circle cx="893.3" cy="617.4" r="3.8"/><circle cx="918" cy="549.2" r="3.8"/><circle cx="918" cy="560.6" r="3.8"/><circle cx="918" cy="606" r="3.8"/><circle cx="942.7" cy="583.3" r="3.8"/><circle cx="942.7" cy="606" r="3.8"/><circle cx="967.4" cy="549.2" r="3.8"/><circle cx="967.4" cy="560.6" r="3.8"/><circle cx="967.4" cy="571.9" r="3.8"/><circle cx="967.4" cy="617.4" r="3.8"/><circle cx="992.1" cy="549.2" r="3.8"/><circle cx="992.1" cy="560.6" r="3.8"/><circle cx="992.1" cy="571.9" r="3.8"/><circle cx="992.1" cy="606" r="3.8"/><circle cx="992.1" cy="628.7" r="3.8"/><circle cx="1016.8" cy="549.2" r="3.8"/><circle cx="1016.8" cy="571.9" r="3.8"/><circle cx="1016.8" cy="606" r="3.8"/><circle cx="1016.8" cy="617.4" r="3.8"/><circle cx="1041.5" cy="549.2" r="3.8"/><circle cx="1041.5" cy="571.9" r="3.8"/><circle cx="1041.5" cy="606" r="3.8"/><circle cx="1041.5" cy="628.7" r="3.8"/><circle cx="1066.2" cy="549.2" r="3.8"/><circle cx="1066.2" cy="560.6" r="3.8"/><circle cx="1066.2" cy="571.9" r="3.8"/><circle cx="1066.2" cy="606" r="3.8"/><circle cx="1066.2" cy="617.4" r="3.8"/><circle cx="1090.9" cy="549.2" r="3.8"/><circle cx="1090.9" cy="560.6" r="3.8"/><circle cx="1090.9" cy="571.9" r="3.8"/><circle cx="1090.9" cy="628.7" r="3.8"/><circle cx="1115.6" cy="549.2" r="3.8"/><circle cx="1115.6" cy="571.9" r="3.8"/><circle cx="1115.6" cy="606" r="3.8"/><circle cx="1115.6" cy="640.1" r="3.8"/><circle cx="1140.3" cy="549.2" r="3.8"/><circle cx="1140.3" cy="571.9" r="3.8"/><circle cx="1140.3" cy="617.4" r="3.8"/><circle cx="1140.3" cy="640.1" r="3.8"/><circle cx="1165" cy="583.3" r="3.8"/><circle cx="1165" cy="640.1" r="3.8"/><circle cx="1189.7" cy="549.2" r="3.8"/><circle cx="1189.7" cy="571.9" r="3.8"/><circle cx="1189.7" cy="640.1" r="3.8"/><circle cx="1214.4" cy="549.2" r="3.8"/><circle cx="1214.4" cy="571.9" r="3.8"/><circle cx="1214.4" cy="628.7" r="3.8"/></g>
<path d="M730.2 646.4H1229.4" stroke="#e6e6e6" stroke-width="0.6" fill="none"/>
<path d="M730.2 646.2v1.6M855.4 646.2v1.6M979.4 646.2v1.6M1104.4 646.2v1.6M1229.4 646.2v1.6" stroke="#cfcfcf" stroke-width="0.8" fill="none"/>
</g>
<g id="panel-e">
<path d="M990.0 398.2L1066.30 398.20A76.3 76.3 0 0 0 1007.09 323.84Z" fill="#98c5d9" stroke="#222" stroke-width="0.55" stroke-linejoin="round"/>
<path d="M990.0 398.2L1007.09 323.84A76.3 76.3 0 0 0 1003.09 323.03Z" fill="#2a78b0" stroke="#222" stroke-width="0.55" stroke-linejoin="round"/>
<path d="M990.0 398.2L1003.09 323.03A76.3 76.3 0 0 0 980.37 322.51Z" fill="#a6d68d" stroke="#222" stroke-width="0.55" stroke-linejoin="round"/>
<path d="M990.0 398.2L980.37 322.51A76.3 76.3 0 0 0 976.96 323.02Z" fill="#3f9f42" stroke="#222" stroke-width="0.55" stroke-linejoin="round"/>
<path d="M990.0 398.2L976.96 323.02A76.3 76.3 0 0 0 914.71 385.84Z" fill="#f59597" stroke="#222" stroke-width="0.55" stroke-linejoin="round"/>
<path d="M990.0 398.2L914.71 385.84A76.3 76.3 0 0 0 917.27 421.27Z" fill="#d7292d" stroke="#222" stroke-width="0.55" stroke-linejoin="round"/>
<path d="M990.0 398.2L917.27 421.27A76.3 76.3 0 0 0 978.94 473.69Z" fill="#f7b675" stroke="#222" stroke-width="0.55" stroke-linejoin="round"/>
<path d="M990.0 398.2L978.94 473.69A76.3 76.3 0 0 0 980.70 473.93Z" fill="#f07c25" stroke="#222" stroke-width="0.55" stroke-linejoin="round"/>
<path d="M990.0 398.2L980.70 473.93A76.3 76.3 0 0 0 1066.30 398.20Z" fill="#bba8d0" stroke="#222" stroke-width="0.55" stroke-linejoin="round"/>
<rect x="1073.3" y="343.3" width="9.8" height="7" fill="#98c5d9" stroke="#8a8a8a" stroke-width="0.5"/>
<text x="1093.6" y="349.7" font-size="10.4" fill="#111">Promoter (21.41%)</text>
<rect x="1073.3" y="356.8" width="9.8" height="7" fill="#2a78b0" stroke="#8a8a8a" stroke-width="0.5"/>
<text x="1093.6" y="363.2" font-size="10.4" fill="#111">5' UTR (0.85%)</text>
<rect x="1073.3" y="370.4" width="9.8" height="7" fill="#a6d68d" stroke="#8a8a8a" stroke-width="0.5"/>
<text x="1093.6" y="376.8" font-size="10.4" fill="#111">3' UTR (4.76%)</text>
<rect x="1073.3" y="383.9" width="9.8" height="7" fill="#3f9f42" stroke="#8a8a8a" stroke-width="0.5"/>
<text x="1093.6" y="390.3" font-size="10.4" fill="#111">1st Exon (0.72%)</text>
<rect x="1073.3" y="397.4" width="9.8" height="7" fill="#f59597" stroke="#8a8a8a" stroke-width="0.5"/>
<text x="1093.6" y="403.8" font-size="10.4" fill="#111">Other Exon (19.68%)</text>
<rect x="1073.3" y="410.9" width="9.8" height="7" fill="#d7292d" stroke="#8a8a8a" stroke-width="0.5"/>
<text x="1093.6" y="417.3" font-size="10.4" fill="#111">1st Intron (7.48%)</text>
<rect x="1073.3" y="424.5" width="9.8" height="7" fill="#f7b675" stroke="#8a8a8a" stroke-width="0.5"/>
<text x="1093.6" y="430.9" font-size="10.4" fill="#111">Other Intron (17.8%)</text>
<rect x="1073.3" y="438" width="9.8" height="7" fill="#f07c25" stroke="#8a8a8a" stroke-width="0.5"/>
<text x="1093.6" y="444.4" font-size="10.4" fill="#111">Downstream (&lt;=300) (0.37%)</text>
<rect x="1073.3" y="451.5" width="9.8" height="7" fill="#bba8d0" stroke="#8a8a8a" stroke-width="0.5"/>
<text x="1093.6" y="457.9" font-size="10.4" fill="#111">Distal Intergenic (26.95%)</text>
</g>
<g id="panel-b">
<rect x="77.1" y="684.2" width="1150" height="4.7" fill="#2f8b47"/>
<path d="M78.2 688.9v7.7M193 688.9v7.7M307.9 688.9v7.7M422.7 688.9v7.7M537.5 688.9v7.7M652.4 688.9v7.7M767.2 688.9v7.7M882 688.9v7.7M996.8 688.9v7.7M1111.7 688.9v7.7M1226.5 688.9v7.7" stroke="#444" stroke-width="1.1" fill="none"/>
<text x="74.9" y="679.4" font-size="13" text-anchor="middle" fill="#1a1a1a">0 Mb</text>
<text x="189.7" y="679.4" font-size="13" text-anchor="middle" fill="#1a1a1a">3 Mb</text>
<text x="304.6" y="679.4" font-size="13" text-anchor="middle" fill="#1a1a1a">6 Mb</text>
<text x="419.4" y="679.4" font-size="13" text-anchor="middle" fill="#1a1a1a">9 Mb</text>
<text x="534.2" y="679.4" font-size="13" text-anchor="middle" fill="#1a1a1a">12 Mb</text>
<text x="649.1" y="679.4" font-size="13" text-anchor="middle" fill="#1a1a1a">16 Mb</text>
<text x="763.9" y="679.4" font-size="13" text-anchor="middle" fill="#1a1a1a">19 Mb</text>
<text x="878.7" y="679.4" font-size="13" text-anchor="middle" fill="#1a1a1a">22 Mb</text>
<text x="993.5" y="679.4" font-size="13" text-anchor="middle" fill="#1a1a1a">25 Mb</text>
<text x="1108.4" y="679.4" font-size="13" text-anchor="middle" fill="#1a1a1a">28 Mb</text>
<text x="1223.2" y="679.4" font-size="13" text-anchor="middle" fill="#1a1a1a">32 Mb</text>
<path d="M81 703.6h2v20.4h-2zM83.5 703.6h1v20.4h-1zM85 703.6h1v20.4h-1zM87.5 703.6h1v20.4h-1zM89.5 703.6h2v20.4h-2zM92 703.6h1v20.4h-1zM93.5 703.6h0.5v20.4h-0.5zM102 703.6h2v20.4h-2zM107 703.6h2v20.4h-2zM113 703.6h1v20.4h-1zM118.5 703.6h1v20.4h-1zM121 703.6h1.5v20.4h-1.5zM126.5 703.6h0.4v20.4h-0.4z" fill="#f8b88b" fill-opacity="0.95"/>
<path d="M78 703.6h1v20.4h-1zM80.5 703.6h1v20.4h-1zM82.5 703.6h2v20.4h-2zM84.5 703.6h1v20.4h-1zM86.5 703.6h2v20.4h-2zM90 703.6h1v20.4h-1zM104 703.6h1v20.4h-1zM105 703.6h1v20.4h-1zM106.5 703.6h0.5v20.4h-0.5zM107.5 703.6h1v20.4h-1zM109.5 703.6h1v20.4h-1zM113 703.6h1v20.4h-1zM114 703.6h1v20.4h-1zM116 703.6h1v20.4h-1zM118 703.6h1.5v20.4h-1.5zM120.5 703.6h1v20.4h-1zM122 703.6h2v20.4h-2z" fill="#7ac57d" fill-opacity="0.85"/>
<path d="M108 703.6h0.5v20.4h-0.5zM116 703.6h0.5v20.4h-0.5z" fill="#b3a3cf" fill-opacity="0.9"/>
<path d="M88.5 703.6h1v20.4h-1zM90 703.6h0.5v20.4h-0.5zM103.5 703.6h0.5v20.4h-0.5zM106.5 703.6h1v20.4h-1z" fill="#3f6fac" fill-opacity="0.9"/>
<rect x="67.2" y="702.9" width="70.4" height="21.8" rx="10.6" fill="none" stroke="#000" stroke-width="1.8"/>
<text x="21.0" y="720.6" font-size="13.5" fill="#1a1a1a">Chr4</text>
<path d="M371.5 730.5h1v20.4h-1zM508.5 730.5h1v20.4h-1zM591 730.5h1.5v20.4h-1.5zM821 730.5h1v20.4h-1zM891 730.5h1v20.4h-1z" fill="#f1ee92" fill-opacity="0.95"/>
<path d="M557.5 730.5h2v20.4h-2zM767 730.5h2v20.4h-2z" fill="#b3a3cf" fill-opacity="0.95"/>
<path d="M80.5 730.5h1v20.4h-1zM84 730.5h1v20.4h-1zM95.5 730.5h1v20.4h-1zM98 730.5h1.5v20.4h-1.5zM100.5 730.5h1v20.4h-1zM106 730.5h1v20.4h-1zM107.5 730.5h1v20.4h-1zM115 730.5h1v20.4h-1zM117.5 730.5h0.5v20.4h-0.5zM120 730.5h1v20.4h-1zM124 730.5h1v20.4h-1zM125.5 730.5h2v20.4h-2zM128.5 730.5h0.5v20.4h-0.5zM132 730.5h1v20.4h-1zM133.5 730.5h2v20.4h-2zM136.5 730.5h0.5v20.4h-0.5zM137 730.5h2v20.4h-2zM139.5 730.5h0.5v20.4h-0.5zM143 730.5h1v20.4h-1zM144.5 730.5h1v20.4h-1zM148 730.5h1v20.4h-1zM154 730.5h1v20.4h-1zM156 730.5h1v20.4h-1zM171 730.5h1.5v20.4h-1.5zM174 730.5h0.5v20.4h-0.5zM176 730.5h2v20.4h-2zM178 730.5h1v20.4h-1zM181 730.5h2v20.4h-2zM186.5 730.5h1v20.4h-1zM192 730.5h1.5v20.4h-1.5zM197.5 730.5h2v20.4h-2zM202 730.5h0.5v20.4h-0.5zM203.5 730.5h1v20.4h-1zM231 730.5h1v20.4h-1zM236.5 730.5h0.5v20.4h-0.5zM238 730.5h1v20.4h-1zM239.5 730.5h1v20.4h-1zM242 730.5h0.5v20.4h-0.5zM244 730.5h1v20.4h-1zM246.5 730.5h1v20.4h-1zM248 730.5h2v20.4h-2zM254.5 730.5h1.5v20.4h-1.5zM256.5 730.5h1v20.4h-1zM258 730.5h0.5v20.4h-0.5zM260 730.5h1.5v20.4h-1.5zM262.5 730.5h2v20.4h-2zM270.5 730.5h2v20.4h-2zM274.5 730.5h1v20.4h-1zM276 730.5h1v20.4h-1zM282.5 730.5h0.5v20.4h-0.5zM284.5 730.5h1v20.4h-1zM287.5 730.5h1.5v20.4h-1.5zM291 730.5h1v20.4h-1zM294 730.5h1.5v20.4h-1.5zM296 730.5h0.5v20.4h-0.5zM297.5 730.5h1v20.4h-1zM299.5 730.5h1.5v20.4h-1.5zM301.5 730.5h1v20.4h-1zM302.5 730.5h1v20.4h-1zM304.5 730.5h1v20.4h-1zM307.5 730.5h1v20.4h-1zM308.5 730.5h1v20.4h-1zM311 730.5h1v20.4h-1zM313 730.5h0.5v20.4h-0.5zM315.5 730.5h2v20.4h-2zM318.5 730.5h1v20.4h-1zM320.5 730.5h1v20.4h-1zM322 730.5h2v20.4h-2zM325 730.5h2v20.4h-2zM327.5 730.5h1v20.4h-1zM329.5 730.5h1v20.4h-1zM333 730.5h1v20.4h-1zM338.5 730.5h2v20.4h-2zM343.5 730.5h1v20.4h-1zM344.5 730.5h2v20.4h-2zM347 730.5h1.5v20.4h-1.5zM349.5 730.5h1v20.4h-1zM352.5 730.5h0.5v20.4h-0.5zM356 730.5h2v20.4h-2zM359 730.5h2v20.4h-2zM365 730.5h1v20.4h-1zM367 730.5h2v20.4h-2zM369 730.5h1v20.4h-1zM370 730.5h1v20.4h-1zM373 730.5h1v20.4h-1zM374.5 730.5h2v20.4h-2zM377 730.5h0.5v20.4h-0.5zM378.5 730.5h2v20.4h-2zM381 730.5h1.5v20.4h-1.5zM384.5 730.5h1v20.4h-1zM386 730.5h1.5v20.4h-1.5zM391.5 730.5h1v20.4h-1zM394.5 730.5h1v20.4h-1zM396.5 730.5h1v20.4h-1zM405 730.5h1v20.4h-1zM411.5 730.5h1.5v20.4h-1.5zM417.5 730.5h1v20.4h-1zM420 730.5h1v20.4h-1zM424 730.5h1.5v20.4h-1.5zM426 730.5h1v20.4h-1zM432.5 730.5h0.5v20.4h-0.5zM433.5 730.5h1v20.4h-1zM435 730.5h2v20.4h-2zM438 730.5h1.5v20.4h-1.5zM440.5 730.5h1v20.4h-1zM445.5 730.5h2v20.4h-2zM450 730.5h1v20.4h-1zM461 730.5h2v20.4h-2zM463 730.5h1v20.4h-1zM467.5 730.5h1v20.4h-1zM471 730.5h2v20.4h-2zM474 730.5h0.5v20.4h-0.5zM475.5 730.5h0.5v20.4h-0.5zM477 730.5h2v20.4h-2zM480 730.5h2v20.4h-2zM488 730.5h1v20.4h-1zM491.5 730.5h1v20.4h-1zM493.5 730.5h0.5v20.4h-0.5zM496 730.5h2v20.4h-2zM500 730.5h2v20.4h-2zM504 730.5h1.5v20.4h-1.5zM506.5 730.5h0.5v20.4h-0.5zM511.5 730.5h0.5v20.4h-0.5zM512.5 730.5h0.5v20.4h-0.5zM514 730.5h1v20.4h-1zM516 730.5h1v20.4h-1zM517 730.5h1v20.4h-1zM520.5 730.5h2v20.4h-2zM523.5 730.5h0.5v20.4h-0.5zM525 730.5h1v20.4h-1zM526.5 730.5h1v20.4h-1zM527.5 730.5h1.5v20.4h-1.5zM529 730.5h2v20.4h-2zM532.5 730.5h0.5v20.4h-0.5zM534 730.5h1v20.4h-1zM536.5 730.5h0.5v20.4h-0.5zM538.5 730.5h0.5v20.4h-0.5zM539.5 730.5h0.5v20.4h-0.5zM541 730.5h1v20.4h-1zM543 730.5h0.5v20.4h-0.5zM545 730.5h1v20.4h-1zM546.5 730.5h1.5v20.4h-1.5zM549.5 730.5h1.5v20.4h-1.5zM551.5 730.5h2v20.4h-2zM554.5 730.5h0.5v20.4h-0.5zM555.5 730.5h1v20.4h-1zM562 730.5h1v20.4h-1zM563.5 730.5h1v20.4h-1zM566 730.5h1v20.4h-1zM569 730.5h1v20.4h-1zM573.5 730.5h0.5v20.4h-0.5zM576 730.5h1v20.4h-1zM578 730.5h1v20.4h-1zM580.5 730.5h1.5v20.4h-1.5zM584 730.5h1v20.4h-1zM594.5 730.5h1v20.4h-1zM599 730.5h1v20.4h-1zM600 730.5h2v20.4h-2zM604.5 730.5h0.5v20.4h-0.5zM608 730.5h2v20.4h-2zM610.5 730.5h1v20.4h-1zM613.5 730.5h1.5v20.4h-1.5zM615.5 730.5h1v20.4h-1zM617.5 730.5h0.5v20.4h-0.5zM623.5 730.5h1v20.4h-1zM625 730.5h2v20.4h-2zM637.5 730.5h1v20.4h-1zM657.5 730.5h1v20.4h-1zM658.5 730.5h1v20.4h-1zM661 730.5h1.5v20.4h-1.5zM663.5 730.5h1.5v20.4h-1.5zM667 730.5h1v20.4h-1zM669.5 730.5h1v20.4h-1zM671.5 730.5h1v20.4h-1zM672.5 730.5h1v20.4h-1zM674 730.5h1v20.4h-1zM675 730.5h2v20.4h-2zM677 730.5h1.5v20.4h-1.5zM679 730.5h0.5v20.4h-0.5zM680 730.5h1v20.4h-1zM682.5 730.5h1v20.4h-1zM688 730.5h1v20.4h-1zM690.5 730.5h2v20.4h-2zM693.5 730.5h1.5v20.4h-1.5zM695 730.5h1v20.4h-1zM696.5 730.5h1v20.4h-1zM698 730.5h1v20.4h-1zM700.5 730.5h0.5v20.4h-0.5zM707.5 730.5h1.5v20.4h-1.5zM710 730.5h2v20.4h-2zM712.5 730.5h1v20.4h-1zM715.5 730.5h1v20.4h-1zM718 730.5h1v20.4h-1zM720 730.5h1v20.4h-1zM722 730.5h1v20.4h-1zM723.5 730.5h1v20.4h-1zM726 730.5h1v20.4h-1zM728 730.5h1v20.4h-1zM730 730.5h2v20.4h-2zM732.5 730.5h1v20.4h-1zM734.5 730.5h1v20.4h-1zM736.5 730.5h1v20.4h-1zM738.5 730.5h1v20.4h-1zM742 730.5h1v20.4h-1zM744 730.5h1v20.4h-1zM746 730.5h1v20.4h-1zM752 730.5h0.5v20.4h-0.5zM755.5 730.5h0.5v20.4h-0.5zM760.5 730.5h1v20.4h-1zM764.5 730.5h0.5v20.4h-0.5zM775 730.5h1v20.4h-1zM777.5 730.5h0.5v20.4h-0.5zM783.5 730.5h1.5v20.4h-1.5zM785.5 730.5h1.5v20.4h-1.5zM789.5 730.5h1v20.4h-1zM791.5 730.5h1.5v20.4h-1.5zM794.5 730.5h0.5v20.4h-0.5zM795 730.5h1v20.4h-1zM797 730.5h1v20.4h-1zM800 730.5h1.5v20.4h-1.5zM804.5 730.5h1v20.4h-1zM805.5 730.5h0.5v20.4h-0.5zM810.5 730.5h0.5v20.4h-0.5zM815 730.5h1v20.4h-1zM816.5 730.5h1v20.4h-1zM818 730.5h2v20.4h-2zM830.5 730.5h1v20.4h-1zM839.5 730.5h1v20.4h-1zM844 730.5h1v20.4h-1zM846 730.5h1.5v20.4h-1.5zM850.5 730.5h1v20.4h-1zM852 730.5h1v20.4h-1zM854 730.5h1.5v20.4h-1.5zM857.5 730.5h1v20.4h-1zM860 730.5h2v20.4h-2zM862.5 730.5h1v20.4h-1zM865.5 730.5h1.5v20.4h-1.5zM869.5 730.5h1v20.4h-1zM875.5 730.5h0.5v20.4h-0.5zM882.5 730.5h2v20.4h-2zM894.5 730.5h1v20.4h-1zM898.5 730.5h1v20.4h-1zM900 730.5h1.5v20.4h-1.5zM902 730.5h2v20.4h-2zM904.5 730.5h1v20.4h-1zM906.5 730.5h0.5v20.4h-0.5zM907.5 730.5h1v20.4h-1zM909 730.5h0.5v20.4h-0.5zM909.5 730.5h1v20.4h-1zM910.5 730.5h1.5v20.4h-1.5zM912.5 730.5h2v20.4h-2zM915 730.5h1v20.4h-1zM916.5 730.5h1.5v20.4h-1.5zM918.5 730.5h1.5v20.4h-1.5z" fill="#f8b88b" fill-opacity="0.95"/>
<path d="M83 730.5h1v20.4h-1zM84.5 730.5h0.5v20.4h-0.5zM97 730.5h1v20.4h-1zM100.5 730.5h1v20.4h-1zM102 730.5h0.5v20.4h-0.5zM106.5 730.5h1.5v20.4h-1.5zM110 730.5h2v20.4h-2zM117 730.5h1v20.4h-1zM126.5 730.5h1.5v20.4h-1.5zM130 730.5h2v20.4h-2zM134 730.5h0.5v20.4h-0.5zM139 730.5h0.5v20.4h-0.5zM144.5 730.5h1v20.4h-1zM147.5 730.5h1.5v20.4h-1.5zM157.5 730.5h1v20.4h-1zM171.5 730.5h2v20.4h-2zM174.5 730.5h0.5v20.4h-0.5zM180 730.5h0.5v20.4h-0.5zM181 730.5h1v20.4h-1zM185 730.5h1v20.4h-1zM192 730.5h1v20.4h-1zM196 730.5h1.5v20.4h-1.5zM198 730.5h2v20.4h-2zM200.5 730.5h1.5v20.4h-1.5zM202 730.5h1v20.4h-1zM207 730.5h2v20.4h-2zM212.5 730.5h1v20.4h-1zM215 730.5h0.5v20.4h-0.5zM216 730.5h1v20.4h-1zM218.5 730.5h2v20.4h-2zM221.5 730.5h2v20.4h-2zM232 730.5h1v20.4h-1zM233 730.5h2v20.4h-2zM236 730.5h1v20.4h-1zM237.5 730.5h2v20.4h-2zM243 730.5h1v20.4h-1zM246 730.5h1v20.4h-1zM247.5 730.5h1v20.4h-1zM249.5 730.5h1v20.4h-1zM251.5 730.5h0.5v20.4h-0.5zM253.5 730.5h1v20.4h-1zM255.5 730.5h1.5v20.4h-1.5zM258.5 730.5h1v20.4h-1zM262.5 730.5h1v20.4h-1zM271 730.5h1v20.4h-1zM272.5 730.5h1.5v20.4h-1.5zM277 730.5h1.5v20.4h-1.5zM279.5 730.5h0.5v20.4h-0.5zM280 730.5h1v20.4h-1zM282.5 730.5h1.5v20.4h-1.5zM288.5 730.5h2v20.4h-2zM291.5 730.5h1v20.4h-1zM295 730.5h2v20.4h-2zM299.5 730.5h0.5v20.4h-0.5zM300.5 730.5h0.5v20.4h-0.5zM301.5 730.5h2v20.4h-2zM304 730.5h2v20.4h-2zM307.5 730.5h1v20.4h-1zM316.5 730.5h0.5v20.4h-0.5zM320.5 730.5h1v20.4h-1zM324.5 730.5h0.5v20.4h-0.5zM326 730.5h1v20.4h-1zM341 730.5h2v20.4h-2zM344.5 730.5h1v20.4h-1zM346 730.5h0.5v20.4h-0.5zM348 730.5h1v20.4h-1zM350 730.5h1.5v20.4h-1.5zM354.5 730.5h0.5v20.4h-0.5zM356 730.5h1.5v20.4h-1.5zM358 730.5h1v20.4h-1zM361 730.5h0.5v20.4h-0.5zM362.5 730.5h2v20.4h-2zM370.5 730.5h1v20.4h-1zM372 730.5h2v20.4h-2zM382 730.5h2v20.4h-2zM385 730.5h0.5v20.4h-0.5zM388 730.5h1.5v20.4h-1.5zM390.5 730.5h1v20.4h-1zM393 730.5h1.5v20.4h-1.5zM395.5 730.5h1v20.4h-1zM398.5 730.5h1v20.4h-1zM400 730.5h0.5v20.4h-0.5zM401 730.5h1v20.4h-1zM402.5 730.5h1v20.4h-1zM404 730.5h2v20.4h-2zM408.5 730.5h1v20.4h-1zM411.5 730.5h2v20.4h-2zM413.5 730.5h1v20.4h-1zM416.5 730.5h1.5v20.4h-1.5zM419 730.5h1.5v20.4h-1.5zM420.5 730.5h1v20.4h-1zM422 730.5h1v20.4h-1zM423.5 730.5h1v20.4h-1zM426 730.5h1v20.4h-1zM429 730.5h1.5v20.4h-1.5zM431.5 730.5h1v20.4h-1zM432.5 730.5h1v20.4h-1zM435.5 730.5h1v20.4h-1zM441 730.5h1v20.4h-1zM442 730.5h0.5v20.4h-0.5zM446 730.5h1v20.4h-1zM447.5 730.5h1v20.4h-1zM449 730.5h2v20.4h-2zM451.5 730.5h1.5v20.4h-1.5zM455.5 730.5h2v20.4h-2zM463.5 730.5h1v20.4h-1zM469 730.5h1v20.4h-1zM472 730.5h2v20.4h-2zM475.5 730.5h1v20.4h-1zM481.5 730.5h1v20.4h-1zM483 730.5h1.5v20.4h-1.5zM488 730.5h0.5v20.4h-0.5zM489.5 730.5h1.5v20.4h-1.5zM493.5 730.5h1v20.4h-1zM498 730.5h1.5v20.4h-1.5zM501 730.5h1.5v20.4h-1.5zM505 730.5h1v20.4h-1zM516.5 730.5h0.5v20.4h-0.5zM522.5 730.5h0.5v20.4h-0.5zM527 730.5h0.5v20.4h-0.5zM530.5 730.5h2v20.4h-2zM534 730.5h0.5v20.4h-0.5zM542.5 730.5h1v20.4h-1zM543.5 730.5h1v20.4h-1zM545.5 730.5h0.5v20.4h-0.5zM553.5 730.5h1v20.4h-1zM563 730.5h1v20.4h-1zM567 730.5h1v20.4h-1zM569 730.5h1v20.4h-1zM576.5 730.5h0.5v20.4h-0.5zM579 730.5h2v20.4h-2zM582 730.5h1v20.4h-1zM584 730.5h0.5v20.4h-0.5zM586 730.5h2v20.4h-2zM588.5 730.5h1v20.4h-1zM590.5 730.5h2v20.4h-2zM597.5 730.5h2v20.4h-2zM602 730.5h2v20.4h-2zM604.5 730.5h2v20.4h-2zM607 730.5h1v20.4h-1zM609 730.5h1v20.4h-1zM611 730.5h1v20.4h-1zM613.5 730.5h1v20.4h-1zM615 730.5h0.5v20.4h-0.5zM616.5 730.5h1.5v20.4h-1.5zM619 730.5h2v20.4h-2zM621.5 730.5h2v20.4h-2zM624 730.5h1.5v20.4h-1.5zM626.5 730.5h1v20.4h-1zM627.5 730.5h1v20.4h-1zM632 730.5h1v20.4h-1zM634.5 730.5h1v20.4h-1zM637 730.5h2v20.4h-2zM642 730.5h1.5v20.4h-1.5zM644.5 730.5h2v20.4h-2zM647 730.5h1v20.4h-1zM650.5 730.5h1v20.4h-1zM652 730.5h1v20.4h-1zM653.5 730.5h1v20.4h-1zM655.5 730.5h1v20.4h-1zM659 730.5h2v20.4h-2zM661 730.5h1v20.4h-1zM666.5 730.5h0.5v20.4h-0.5zM667.5 730.5h1v20.4h-1zM672 730.5h1v20.4h-1zM675 730.5h1.5v20.4h-1.5zM677.5 730.5h0.5v20.4h-0.5zM678.5 730.5h1v20.4h-1zM681.5 730.5h1v20.4h-1zM683.5 730.5h1v20.4h-1zM685.5 730.5h1v20.4h-1zM695 730.5h1.5v20.4h-1.5zM699 730.5h1v20.4h-1zM701 730.5h1.5v20.4h-1.5zM705 730.5h1.5v20.4h-1.5zM707.5 730.5h1.5v20.4h-1.5zM709.5 730.5h1v20.4h-1zM720 730.5h0.5v20.4h-0.5zM721 730.5h1v20.4h-1zM730.5 730.5h1v20.4h-1zM734 730.5h1.5v20.4h-1.5zM737.5 730.5h2v20.4h-2zM741 730.5h1v20.4h-1zM745 730.5h1v20.4h-1zM750 730.5h1v20.4h-1zM754.5 730.5h1v20.4h-1zM758 730.5h0.5v20.4h-0.5zM763 730.5h0.5v20.4h-0.5zM768 730.5h1.5v20.4h-1.5zM779.5 730.5h0.5v20.4h-0.5zM780 730.5h1v20.4h-1zM781.5 730.5h1.5v20.4h-1.5zM784.5 730.5h1v20.4h-1zM786 730.5h1v20.4h-1zM788.5 730.5h0.5v20.4h-0.5zM789.5 730.5h1v20.4h-1zM797 730.5h1v20.4h-1zM798 730.5h2v20.4h-2zM807 730.5h1v20.4h-1zM810.5 730.5h1v20.4h-1zM812 730.5h2v20.4h-2zM815 730.5h1v20.4h-1zM816.5 730.5h0.5v20.4h-0.5zM819.5 730.5h1v20.4h-1zM826.5 730.5h0.5v20.4h-0.5zM831 730.5h1v20.4h-1zM834 730.5h2v20.4h-2zM839.5 730.5h2v20.4h-2zM844 730.5h1v20.4h-1zM846 730.5h1v20.4h-1zM848.5 730.5h1.5v20.4h-1.5zM850.5 730.5h1v20.4h-1zM854 730.5h1v20.4h-1zM855.5 730.5h1.5v20.4h-1.5zM857.5 730.5h1v20.4h-1zM858.5 730.5h1.5v20.4h-1.5zM861 730.5h1v20.4h-1zM867 730.5h1v20.4h-1zM869 730.5h2v20.4h-2zM871 730.5h0.5v20.4h-0.5zM876 730.5h1v20.4h-1zM887.5 730.5h1.5v20.4h-1.5zM892.5 730.5h1.5v20.4h-1.5zM900.5 730.5h1.5v20.4h-1.5zM902.5 730.5h1v20.4h-1zM904 730.5h1.5v20.4h-1.5zM907 730.5h2v20.4h-2zM909.5 730.5h2v20.4h-2zM912 730.5h0.5v20.4h-0.5zM913 730.5h1v20.4h-1zM914.5 730.5h1v20.4h-1zM916.5 730.5h1v20.4h-1zM918 730.5h1v20.4h-1z" fill="#7ac57d" fill-opacity="0.85"/>
<path d="M83 730.5h1v20.4h-1zM134 730.5h1v20.4h-1zM137.5 730.5h1v20.4h-1zM209 730.5h1v20.4h-1zM277 730.5h1v20.4h-1zM507 730.5h0.5v20.4h-0.5zM708.5 730.5h1v20.4h-1z" fill="#b3a3cf" fill-opacity="0.9"/>
<path d="M107 730.5h1v20.4h-1zM108.5 730.5h1v20.4h-1zM115.5 730.5h0.5v20.4h-0.5zM136 730.5h0.5v20.4h-0.5zM197 730.5h1v20.4h-1zM215.5 730.5h0.5v20.4h-0.5zM262.5 730.5h0.5v20.4h-0.5zM273 730.5h1v20.4h-1zM305.5 730.5h0.5v20.4h-0.5zM332 730.5h0.5v20.4h-0.5zM333 730.5h1v20.4h-1zM337 730.5h1v20.4h-1zM340 730.5h0.5v20.4h-0.5zM343.5 730.5h1v20.4h-1zM346 730.5h1v20.4h-1zM375.5 730.5h1v20.4h-1zM395 730.5h1v20.4h-1zM508 730.5h1v20.4h-1zM613.5 730.5h1v20.4h-1zM615 730.5h0.5v20.4h-0.5zM651 730.5h1v20.4h-1zM687.5 730.5h1v20.4h-1zM744.5 730.5h0.5v20.4h-0.5zM748 730.5h1v20.4h-1zM752 730.5h0.5v20.4h-0.5zM854 730.5h0.5v20.4h-0.5zM863.5 730.5h1v20.4h-1zM880 730.5h1v20.4h-1zM882 730.5h1v20.4h-1zM900.5 730.5h1v20.4h-1zM904.5 730.5h1v20.4h-1zM906 730.5h1v20.4h-1z" fill="#3f6fac" fill-opacity="0.9"/>
<rect x="67.2" y="729.8" width="863.6" height="21.8" rx="10.6" fill="none" stroke="#000" stroke-width="1.8"/>
<text x="21.0" y="749.3" font-size="13.5" fill="#1a1a1a">Chr2L</text>
<path d="M469 757.4h2v20.4h-2zM637 757.4h2v20.4h-2zM649 757.4h1v20.4h-1zM831.5 757.4h1v20.4h-1zM835.5 757.4h1v20.4h-1zM840 757.4h0.5v20.4h-0.5z" fill="#f1ee92" fill-opacity="0.95"/>
<path d="M221 757.4h2v20.4h-2zM371.5 757.4h1v20.4h-1zM482.5 757.4h1v20.4h-1zM487.5 757.4h0.5v20.4h-0.5zM735.5 757.4h1.5v20.4h-1.5zM947.5 757.4h0.5v20.4h-0.5z" fill="#b3a3cf" fill-opacity="0.95"/>
<path d="M79.5 757.4h1v20.4h-1zM85 757.4h1.5v20.4h-1.5zM91 757.4h1v20.4h-1zM93.5 757.4h1v20.4h-1zM95 757.4h2v20.4h-2zM98 757.4h1v20.4h-1zM99 757.4h2v20.4h-2zM101.5 757.4h1v20.4h-1zM104 757.4h1.5v20.4h-1.5zM106 757.4h2v20.4h-2zM110.5 757.4h1v20.4h-1zM112 757.4h1.5v20.4h-1.5zM116 757.4h1v20.4h-1zM117.5 757.4h1v20.4h-1zM120 757.4h1v20.4h-1zM121 757.4h1v20.4h-1zM122.5 757.4h2v20.4h-2zM126.5 757.4h1v20.4h-1zM129.5 757.4h1v20.4h-1zM132.5 757.4h1v20.4h-1zM137 757.4h1v20.4h-1zM139.5 757.4h2v20.4h-2zM147.5 757.4h1v20.4h-1zM150.5 757.4h1.5v20.4h-1.5zM153 757.4h1.5v20.4h-1.5zM155 757.4h1v20.4h-1zM158.5 757.4h2v20.4h-2zM162.5 757.4h1v20.4h-1zM165 757.4h1v20.4h-1zM167 757.4h1v20.4h-1zM168.5 757.4h1.5v20.4h-1.5zM170 757.4h2v20.4h-2zM172.5 757.4h1v20.4h-1zM173.5 757.4h1v20.4h-1zM174.5 757.4h1v20.4h-1zM176.5 757.4h1v20.4h-1zM179 757.4h1v20.4h-1zM181 757.4h0.5v20.4h-0.5zM182 757.4h1.5v20.4h-1.5zM184 757.4h2v20.4h-2zM186.5 757.4h1.5v20.4h-1.5zM193 757.4h1v20.4h-1zM194.5 757.4h0.5v20.4h-0.5zM195 757.4h2v20.4h-2zM198 757.4h0.5v20.4h-0.5zM198.5 757.4h1v20.4h-1zM200.5 757.4h2v20.4h-2zM203 757.4h1v20.4h-1zM205 757.4h1v20.4h-1zM206 757.4h1v20.4h-1zM208 757.4h0.5v20.4h-0.5zM208.5 757.4h1v20.4h-1zM210 757.4h2v20.4h-2zM212.5 757.4h1v20.4h-1zM214 757.4h0.5v20.4h-0.5zM215 757.4h1v20.4h-1zM216.5 757.4h1v20.4h-1zM218.5 757.4h1v20.4h-1zM219.5 757.4h1.5v20.4h-1.5zM223.5 757.4h0.5v20.4h-0.5zM225 757.4h1.5v20.4h-1.5zM226.5 757.4h1.5v20.4h-1.5zM229 757.4h1v20.4h-1zM230.5 757.4h2v20.4h-2zM234 757.4h2v20.4h-2zM237 757.4h0.5v20.4h-0.5zM238 757.4h1v20.4h-1zM239 757.4h1v20.4h-1zM241 757.4h1.5v20.4h-1.5zM243 757.4h2v20.4h-2zM245.5 757.4h1v20.4h-1zM247 757.4h1v20.4h-1zM248 757.4h1v20.4h-1zM251 757.4h2v20.4h-2zM258.5 757.4h1v20.4h-1zM261.5 757.4h1v20.4h-1zM263 757.4h0.5v20.4h-0.5zM266 757.4h1v20.4h-1zM267.5 757.4h1v20.4h-1zM269.5 757.4h1v20.4h-1zM271 757.4h1v20.4h-1zM273 757.4h1v20.4h-1zM275 757.4h2v20.4h-2zM278 757.4h1v20.4h-1zM280 757.4h2v20.4h-2zM282 757.4h1.5v20.4h-1.5zM284 757.4h1v20.4h-1zM288.5 757.4h1v20.4h-1zM291 757.4h2v20.4h-2zM296 757.4h1v20.4h-1zM297.5 757.4h2v20.4h-2zM301 757.4h2v20.4h-2zM316 757.4h1.5v20.4h-1.5zM319.5 757.4h1v20.4h-1zM322.5 757.4h1.5v20.4h-1.5zM325 757.4h1v20.4h-1zM334 757.4h0.5v20.4h-0.5zM335.5 757.4h1.5v20.4h-1.5zM338 757.4h0.5v20.4h-0.5zM342 757.4h0.5v20.4h-0.5zM343.5 757.4h1v20.4h-1zM349 757.4h1v20.4h-1zM351 757.4h1.5v20.4h-1.5zM355.5 757.4h1v20.4h-1zM358.5 757.4h2v20.4h-2zM361 757.4h0.5v20.4h-0.5zM363.5 757.4h1v20.4h-1zM365 757.4h1.5v20.4h-1.5zM367 757.4h1v20.4h-1zM368 757.4h0.5v20.4h-0.5zM369.5 757.4h0.5v20.4h-0.5zM370 757.4h1v20.4h-1zM372.5 757.4h1.5v20.4h-1.5zM377 757.4h1.5v20.4h-1.5zM379.5 757.4h1.5v20.4h-1.5zM383 757.4h1v20.4h-1zM388 757.4h1v20.4h-1zM390 757.4h1v20.4h-1zM391 757.4h1.5v20.4h-1.5zM393 757.4h2v20.4h-2zM396 757.4h1v20.4h-1zM397 757.4h1v20.4h-1zM398.5 757.4h1v20.4h-1zM400 757.4h0.5v20.4h-0.5zM401 757.4h0.5v20.4h-0.5zM404 757.4h2v20.4h-2zM406 757.4h1v20.4h-1zM407 757.4h0.5v20.4h-0.5zM407.5 757.4h0.5v20.4h-0.5zM409 757.4h0.5v20.4h-0.5zM410 757.4h1.5v20.4h-1.5zM411.5 757.4h2v20.4h-2zM414.5 757.4h1v20.4h-1zM416.5 757.4h1v20.4h-1zM418.5 757.4h1v20.4h-1zM419.5 757.4h1v20.4h-1zM423.5 757.4h1v20.4h-1zM426 757.4h2v20.4h-2zM438 757.4h2v20.4h-2zM440.5 757.4h0.5v20.4h-0.5zM442 757.4h1v20.4h-1zM446 757.4h1.5v20.4h-1.5zM448.5 757.4h1v20.4h-1zM450.5 757.4h1v20.4h-1zM451.5 757.4h2v20.4h-2zM454 757.4h2v20.4h-2zM459 757.4h0.5v20.4h-0.5zM460 757.4h1v20.4h-1zM462.5 757.4h1.5v20.4h-1.5zM464.5 757.4h2v20.4h-2zM473.5 757.4h1v20.4h-1zM475 757.4h1v20.4h-1zM477 757.4h2v20.4h-2zM479.5 757.4h1.5v20.4h-1.5zM488 757.4h1.5v20.4h-1.5zM490.5 757.4h1v20.4h-1zM494 757.4h0.5v20.4h-0.5zM495.5 757.4h2v20.4h-2zM498.5 757.4h1.5v20.4h-1.5zM509.5 757.4h2v20.4h-2zM512 757.4h1v20.4h-1zM518 757.4h2v20.4h-2zM521 757.4h1v20.4h-1zM523.5 757.4h1v20.4h-1zM525 757.4h0.5v20.4h-0.5zM530.5 757.4h0.5v20.4h-0.5zM532 757.4h1.5v20.4h-1.5zM534.5 757.4h0.5v20.4h-0.5zM536 757.4h1v20.4h-1zM539 757.4h0.5v20.4h-0.5zM541 757.4h1v20.4h-1zM542.5 757.4h2v20.4h-2zM546.5 757.4h1v20.4h-1zM547.5 757.4h2v20.4h-2zM550 757.4h1v20.4h-1zM552 757.4h1v20.4h-1zM559 757.4h0.5v20.4h-0.5zM560.5 757.4h0.5v20.4h-0.5zM561.5 757.4h0.5v20.4h-0.5zM562 757.4h1v20.4h-1zM564.5 757.4h1v20.4h-1zM566.5 757.4h1v20.4h-1zM575 757.4h1v20.4h-1zM578 757.4h1v20.4h-1zM581 757.4h1v20.4h-1zM582.5 757.4h0.5v20.4h-0.5zM585 757.4h2v20.4h-2zM587 757.4h0.5v20.4h-0.5zM588.5 757.4h1v20.4h-1zM590.5 757.4h2v20.4h-2zM593 757.4h2v20.4h-2zM596 757.4h2v20.4h-2zM599 757.4h2v20.4h-2zM602 757.4h1v20.4h-1zM607 757.4h1v20.4h-1zM609 757.4h1v20.4h-1zM611 757.4h1.5v20.4h-1.5zM613 757.4h0.5v20.4h-0.5zM614 757.4h1v20.4h-1zM615.5 757.4h1v20.4h-1zM617 757.4h1v20.4h-1zM618 757.4h1v20.4h-1zM621.5 757.4h2v20.4h-2zM624 757.4h2v20.4h-2zM628.5 757.4h0.5v20.4h-0.5zM632 757.4h1v20.4h-1zM633 757.4h1v20.4h-1zM635 757.4h1.5v20.4h-1.5zM640 757.4h1v20.4h-1zM641.5 757.4h1v20.4h-1zM643.5 757.4h1v20.4h-1zM645 757.4h0.5v20.4h-0.5zM648 757.4h1v20.4h-1zM650.5 757.4h2v20.4h-2zM654.5 757.4h0.5v20.4h-0.5zM658.5 757.4h2v20.4h-2zM661.5 757.4h2v20.4h-2zM664 757.4h1v20.4h-1zM665 757.4h1v20.4h-1zM666.5 757.4h1.5v20.4h-1.5zM674.5 757.4h1.5v20.4h-1.5zM687.5 757.4h1v20.4h-1zM691 757.4h1v20.4h-1zM701.5 757.4h0.5v20.4h-0.5zM703.5 757.4h1.5v20.4h-1.5zM706.5 757.4h1v20.4h-1zM708 757.4h2v20.4h-2zM713 757.4h2v20.4h-2zM715.5 757.4h1v20.4h-1zM717 757.4h1v20.4h-1zM718.5 757.4h0.5v20.4h-0.5zM721 757.4h1v20.4h-1zM722.5 757.4h2v20.4h-2zM727 757.4h1v20.4h-1zM730 757.4h2v20.4h-2zM732.5 757.4h1v20.4h-1zM740.5 757.4h1v20.4h-1zM742 757.4h2v20.4h-2zM756.5 757.4h1v20.4h-1zM762.5 757.4h1v20.4h-1zM764 757.4h2v20.4h-2zM766 757.4h1v20.4h-1zM768 757.4h0.5v20.4h-0.5zM768.5 757.4h1v20.4h-1zM771 757.4h1v20.4h-1zM772.5 757.4h1v20.4h-1zM775 757.4h2v20.4h-2zM779.5 757.4h2v20.4h-2zM785 757.4h1v20.4h-1zM786 757.4h1.5v20.4h-1.5zM788 757.4h1v20.4h-1zM789.5 757.4h1.5v20.4h-1.5zM791 757.4h1.5v20.4h-1.5zM794.5 757.4h2v20.4h-2zM797 757.4h1.5v20.4h-1.5zM799.5 757.4h1v20.4h-1zM803 757.4h1v20.4h-1zM805 757.4h1.5v20.4h-1.5zM807 757.4h1v20.4h-1zM808 757.4h1.5v20.4h-1.5zM810 757.4h1.5v20.4h-1.5zM812 757.4h1v20.4h-1zM813 757.4h1v20.4h-1zM815 757.4h0.5v20.4h-0.5zM817 757.4h1v20.4h-1zM818 757.4h0.5v20.4h-0.5zM820 757.4h1.5v20.4h-1.5zM826 757.4h1v20.4h-1zM828.5 757.4h0.5v20.4h-0.5zM829.5 757.4h1v20.4h-1zM832.5 757.4h0.5v20.4h-0.5zM837 757.4h1v20.4h-1zM838 757.4h1.5v20.4h-1.5zM842.5 757.4h1v20.4h-1zM845.5 757.4h1.5v20.4h-1.5zM853.5 757.4h1v20.4h-1zM854.5 757.4h2v20.4h-2zM861 757.4h1v20.4h-1zM862.5 757.4h1v20.4h-1zM868.5 757.4h1v20.4h-1zM872.5 757.4h1v20.4h-1zM884.5 757.4h1.5v20.4h-1.5zM887 757.4h1v20.4h-1zM888.5 757.4h1v20.4h-1zM891 757.4h1v20.4h-1zM897.5 757.4h1.5v20.4h-1.5zM902.5 757.4h1v20.4h-1zM906 757.4h0.5v20.4h-0.5zM907 757.4h1.5v20.4h-1.5zM911 757.4h2v20.4h-2zM914.5 757.4h1.5v20.4h-1.5zM929 757.4h1v20.4h-1zM935 757.4h1v20.4h-1zM937 757.4h1v20.4h-1zM938 757.4h1v20.4h-1zM939.5 757.4h1v20.4h-1zM941 757.4h1v20.4h-1zM946 757.4h1v20.4h-1zM950.5 757.4h2v20.4h-2zM953 757.4h1.5v20.4h-1.5zM955.5 757.4h1.5v20.4h-1.5zM958 757.4h1v20.4h-1zM959.5 757.4h1v20.4h-1zM961.5 757.4h1.5v20.4h-1.5zM965.5 757.4h1.5v20.4h-1.5zM971 757.4h1v20.4h-1zM974 757.4h0.5v20.4h-0.5zM975 757.4h1v20.4h-1zM976.5 757.4h0.5v20.4h-0.5zM977 757.4h1v20.4h-1zM978.5 757.4h1v20.4h-1zM980 757.4h1v20.4h-1zM982 757.4h0.5v20.4h-0.5z" fill="#f8b88b" fill-opacity="0.95"/>
<path d="M78 757.4h2v20.4h-2zM80 757.4h1v20.4h-1zM81.5 757.4h1v20.4h-1zM84 757.4h1v20.4h-1zM85 757.4h1v20.4h-1zM87 757.4h0.5v20.4h-0.5zM88 757.4h0.5v20.4h-0.5zM89 757.4h1v20.4h-1zM90 757.4h1v20.4h-1zM91.5 757.4h1v20.4h-1zM93 757.4h1v20.4h-1zM95 757.4h1v20.4h-1zM96 757.4h1v20.4h-1zM97.5 757.4h1v20.4h-1zM99 757.4h0.5v20.4h-0.5zM100 757.4h2v20.4h-2zM103 757.4h1v20.4h-1zM104.5 757.4h1.5v20.4h-1.5zM106.5 757.4h2v20.4h-2zM109 757.4h2v20.4h-2zM111.5 757.4h0.5v20.4h-0.5zM113 757.4h1.5v20.4h-1.5zM115.5 757.4h1.5v20.4h-1.5zM117 757.4h2v20.4h-2zM119 757.4h0.5v20.4h-0.5zM119.5 757.4h1v20.4h-1zM121 757.4h1v20.4h-1zM122.5 757.4h1v20.4h-1zM124 757.4h1v20.4h-1zM125.5 757.4h1v20.4h-1zM131 757.4h1v20.4h-1zM135 757.4h1v20.4h-1zM137 757.4h1.5v20.4h-1.5zM139.5 757.4h1v20.4h-1zM141.5 757.4h1v20.4h-1zM143.5 757.4h1.5v20.4h-1.5zM145.5 757.4h1v20.4h-1zM147 757.4h1.5v20.4h-1.5zM149.5 757.4h1v20.4h-1zM151 757.4h1v20.4h-1zM152 757.4h1v20.4h-1zM154 757.4h1v20.4h-1zM155 757.4h2v20.4h-2zM157.5 757.4h1v20.4h-1zM159.5 757.4h2v20.4h-2zM162 757.4h1v20.4h-1zM163.5 757.4h2v20.4h-2zM166.5 757.4h1v20.4h-1zM168 757.4h0.5v20.4h-0.5zM169.5 757.4h1v20.4h-1zM171 757.4h1v20.4h-1zM172.5 757.4h1v20.4h-1zM174 757.4h1v20.4h-1zM176 757.4h1v20.4h-1zM177.5 757.4h0.5v20.4h-0.5zM187.5 757.4h1v20.4h-1zM189.5 757.4h2v20.4h-2zM192.5 757.4h1v20.4h-1zM197 757.4h1v20.4h-1zM199 757.4h0.5v20.4h-0.5zM201.5 757.4h1v20.4h-1zM203.5 757.4h1.5v20.4h-1.5zM207 757.4h1v20.4h-1zM208.5 757.4h1v20.4h-1zM211.5 757.4h0.5v20.4h-0.5zM212.5 757.4h1v20.4h-1zM213.5 757.4h1v20.4h-1zM215 757.4h2v20.4h-2zM219 757.4h1.5v20.4h-1.5zM221 757.4h1.5v20.4h-1.5zM223.5 757.4h1v20.4h-1zM225 757.4h1v20.4h-1zM226.5 757.4h1v20.4h-1zM229.5 757.4h0.5v20.4h-0.5zM230.5 757.4h1v20.4h-1zM232.5 757.4h1v20.4h-1zM233.5 757.4h1.5v20.4h-1.5zM235 757.4h1v20.4h-1zM236 757.4h0.5v20.4h-0.5zM237.5 757.4h1v20.4h-1zM239 757.4h1v20.4h-1zM240 757.4h0.5v20.4h-0.5zM242 757.4h1v20.4h-1zM243.5 757.4h1v20.4h-1zM247.5 757.4h1.5v20.4h-1.5zM249 757.4h1v20.4h-1zM250.5 757.4h1v20.4h-1zM253 757.4h1v20.4h-1zM256 757.4h1.5v20.4h-1.5zM260 757.4h2v20.4h-2zM264.5 757.4h2v20.4h-2zM267 757.4h2v20.4h-2zM269 757.4h1.5v20.4h-1.5zM271.5 757.4h1v20.4h-1zM274.5 757.4h0.5v20.4h-0.5zM276 757.4h1v20.4h-1zM277.5 757.4h1v20.4h-1zM279 757.4h1v20.4h-1zM280.5 757.4h1v20.4h-1zM282 757.4h0.5v20.4h-0.5zM283.5 757.4h0.5v20.4h-0.5zM284.5 757.4h1.5v20.4h-1.5zM286.5 757.4h2v20.4h-2zM289 757.4h1v20.4h-1zM290.5 757.4h0.5v20.4h-0.5zM291.5 757.4h1v20.4h-1zM293.5 757.4h1v20.4h-1zM295.5 757.4h1.5v20.4h-1.5zM297 757.4h1.5v20.4h-1.5zM299 757.4h1v20.4h-1zM300 757.4h1v20.4h-1zM302 757.4h1v20.4h-1zM303 757.4h0.5v20.4h-0.5zM305 757.4h1v20.4h-1zM306.5 757.4h1v20.4h-1zM307.5 757.4h2v20.4h-2zM312 757.4h1v20.4h-1zM314.5 757.4h1v20.4h-1zM319 757.4h1v20.4h-1zM320.5 757.4h1.5v20.4h-1.5zM323 757.4h0.5v20.4h-0.5zM323.5 757.4h1v20.4h-1zM326.5 757.4h1v20.4h-1zM328.5 757.4h1v20.4h-1zM330.5 757.4h2v20.4h-2zM333.5 757.4h0.5v20.4h-0.5zM336 757.4h1v20.4h-1zM337.5 757.4h1.5v20.4h-1.5zM339.5 757.4h1.5v20.4h-1.5zM341.5 757.4h1v20.4h-1zM347.5 757.4h1.5v20.4h-1.5zM352 757.4h1v20.4h-1zM370 757.4h1v20.4h-1zM383 757.4h2v20.4h-2zM388.5 757.4h2v20.4h-2zM391 757.4h1v20.4h-1zM392.5 757.4h1v20.4h-1zM395 757.4h1v20.4h-1zM406.5 757.4h1v20.4h-1zM409 757.4h1v20.4h-1zM410.5 757.4h1v20.4h-1zM414.5 757.4h1v20.4h-1zM418.5 757.4h2v20.4h-2zM421 757.4h1v20.4h-1zM426.5 757.4h1.5v20.4h-1.5zM434.5 757.4h1v20.4h-1zM437.5 757.4h2v20.4h-2zM439.5 757.4h1v20.4h-1zM445.5 757.4h1v20.4h-1zM448 757.4h1v20.4h-1zM449.5 757.4h1v20.4h-1zM454 757.4h1v20.4h-1zM457.5 757.4h1.5v20.4h-1.5zM460 757.4h1v20.4h-1zM462.5 757.4h1.5v20.4h-1.5zM465.5 757.4h0.5v20.4h-0.5zM466 757.4h2v20.4h-2zM468 757.4h1v20.4h-1zM471 757.4h2v20.4h-2zM476.5 757.4h1v20.4h-1zM478.5 757.4h2v20.4h-2zM481 757.4h2v20.4h-2zM483.5 757.4h1v20.4h-1zM485 757.4h2v20.4h-2zM487 757.4h0.5v20.4h-0.5zM488.5 757.4h1v20.4h-1zM492 757.4h1v20.4h-1zM495.5 757.4h1v20.4h-1zM498 757.4h2v20.4h-2zM503.5 757.4h1.5v20.4h-1.5zM505.5 757.4h1.5v20.4h-1.5zM508 757.4h1.5v20.4h-1.5zM509.5 757.4h1v20.4h-1zM510.5 757.4h2v20.4h-2zM514 757.4h0.5v20.4h-0.5zM515 757.4h1.5v20.4h-1.5zM519 757.4h2v20.4h-2zM522 757.4h1v20.4h-1zM523.5 757.4h0.5v20.4h-0.5zM527 757.4h1v20.4h-1zM530.5 757.4h1v20.4h-1zM538.5 757.4h1v20.4h-1zM539.5 757.4h1v20.4h-1zM541 757.4h1v20.4h-1zM543 757.4h1v20.4h-1zM545 757.4h1.5v20.4h-1.5zM548.5 757.4h1v20.4h-1zM566.5 757.4h2v20.4h-2zM575 757.4h1.5v20.4h-1.5zM581 757.4h1.5v20.4h-1.5zM583 757.4h1.5v20.4h-1.5zM585 757.4h0.5v20.4h-0.5zM590 757.4h1v20.4h-1zM591.5 757.4h2v20.4h-2zM599.5 757.4h1v20.4h-1zM605 757.4h2v20.4h-2zM609 757.4h1v20.4h-1zM610.5 757.4h0.5v20.4h-0.5zM615.5 757.4h1.5v20.4h-1.5zM634.5 757.4h2v20.4h-2zM637 757.4h1.5v20.4h-1.5zM639.5 757.4h1v20.4h-1zM642 757.4h1v20.4h-1zM643.5 757.4h1v20.4h-1zM645 757.4h0.5v20.4h-0.5zM646.5 757.4h1v20.4h-1zM648 757.4h2v20.4h-2zM653 757.4h1v20.4h-1zM654 757.4h2v20.4h-2zM657.5 757.4h2v20.4h-2zM660.5 757.4h1v20.4h-1zM662 757.4h2v20.4h-2zM664 757.4h1v20.4h-1zM665 757.4h1v20.4h-1zM668 757.4h1v20.4h-1zM670.5 757.4h1v20.4h-1zM673 757.4h2v20.4h-2zM675 757.4h0.5v20.4h-0.5zM677.5 757.4h2v20.4h-2zM683 757.4h1v20.4h-1zM685.5 757.4h1v20.4h-1zM687 757.4h0.5v20.4h-0.5zM688.5 757.4h1v20.4h-1zM690 757.4h1v20.4h-1zM692 757.4h1v20.4h-1zM702.5 757.4h1v20.4h-1zM704.5 757.4h2v20.4h-2zM706.5 757.4h1v20.4h-1zM708 757.4h2v20.4h-2zM710.5 757.4h1v20.4h-1zM712 757.4h1v20.4h-1zM715.5 757.4h1v20.4h-1zM719.5 757.4h2v20.4h-2zM729.5 757.4h1.5v20.4h-1.5zM732 757.4h1v20.4h-1zM741.5 757.4h2v20.4h-2zM747.5 757.4h1v20.4h-1zM755 757.4h1.5v20.4h-1.5zM757 757.4h0.5v20.4h-0.5zM758.5 757.4h1v20.4h-1zM760.5 757.4h0.5v20.4h-0.5zM763 757.4h1v20.4h-1zM769.5 757.4h1v20.4h-1zM772.5 757.4h1.5v20.4h-1.5zM775 757.4h0.5v20.4h-0.5zM781 757.4h2v20.4h-2zM788 757.4h1v20.4h-1zM792.5 757.4h1.5v20.4h-1.5zM796.5 757.4h2v20.4h-2zM803.5 757.4h2v20.4h-2zM808.5 757.4h1v20.4h-1zM817 757.4h1.5v20.4h-1.5zM819.5 757.4h0.5v20.4h-0.5zM822 757.4h1v20.4h-1zM825.5 757.4h0.5v20.4h-0.5zM826.5 757.4h2v20.4h-2zM829.5 757.4h1.5v20.4h-1.5zM832 757.4h1v20.4h-1zM833.5 757.4h1v20.4h-1zM835 757.4h1v20.4h-1zM837 757.4h1v20.4h-1zM840 757.4h2v20.4h-2zM842 757.4h2v20.4h-2zM847.5 757.4h1v20.4h-1zM852 757.4h2v20.4h-2zM854.5 757.4h1v20.4h-1zM864.5 757.4h1v20.4h-1zM866.5 757.4h0.5v20.4h-0.5zM868 757.4h1v20.4h-1zM871.5 757.4h1.5v20.4h-1.5zM874.5 757.4h1.5v20.4h-1.5zM877 757.4h1v20.4h-1zM878.5 757.4h1.5v20.4h-1.5zM881.5 757.4h1v20.4h-1zM883 757.4h0.5v20.4h-0.5zM884 757.4h2v20.4h-2zM887 757.4h1v20.4h-1zM888 757.4h2v20.4h-2zM890 757.4h1.5v20.4h-1.5zM893.5 757.4h2v20.4h-2zM896.5 757.4h2v20.4h-2zM899.5 757.4h2v20.4h-2zM904 757.4h1v20.4h-1zM907.5 757.4h2v20.4h-2zM910.5 757.4h1.5v20.4h-1.5zM912.5 757.4h1v20.4h-1zM915 757.4h1v20.4h-1zM927 757.4h1.5v20.4h-1.5zM937 757.4h1.5v20.4h-1.5zM940.5 757.4h0.5v20.4h-0.5zM944.5 757.4h2v20.4h-2zM948 757.4h1v20.4h-1zM950 757.4h1v20.4h-1zM952 757.4h0.5v20.4h-0.5zM954 757.4h1v20.4h-1zM960.5 757.4h1v20.4h-1zM965.5 757.4h1v20.4h-1zM981 757.4h1v20.4h-1z" fill="#7ac57d" fill-opacity="0.85"/>
<path d="M86 757.4h1v20.4h-1zM208.5 757.4h1v20.4h-1zM217.5 757.4h1v20.4h-1zM243 757.4h0.5v20.4h-0.5zM272.5 757.4h0.5v20.4h-0.5zM280 757.4h0.5v20.4h-0.5zM287.5 757.4h1v20.4h-1zM332 757.4h1v20.4h-1zM682 757.4h0.5v20.4h-0.5zM714 757.4h1v20.4h-1z" fill="#b3a3cf" fill-opacity="0.9"/>
<path d="M84 757.4h0.5v20.4h-0.5zM91.5 757.4h1v20.4h-1zM95.5 757.4h0.5v20.4h-0.5zM98.5 757.4h0.5v20.4h-0.5zM100.5 757.4h1v20.4h-1zM104.5 757.4h1v20.4h-1zM108 757.4h0.5v20.4h-0.5zM113 757.4h1v20.4h-1zM119.5 757.4h1v20.4h-1zM121.5 757.4h0.5v20.4h-0.5zM136 757.4h1v20.4h-1zM138.5 757.4h1v20.4h-1zM157.5 757.4h1v20.4h-1zM161 757.4h1v20.4h-1zM170 757.4h1v20.4h-1zM184 757.4h0.5v20.4h-0.5zM216.5 757.4h0.5v20.4h-0.5zM231 757.4h1v20.4h-1zM239 757.4h1v20.4h-1zM241.5 757.4h1v20.4h-1zM246 757.4h1v20.4h-1zM249.5 757.4h1v20.4h-1zM254.5 757.4h1v20.4h-1zM260 757.4h0.5v20.4h-0.5zM260.5 757.4h0.5v20.4h-0.5zM275 757.4h1v20.4h-1zM284.5 757.4h0.5v20.4h-0.5zM289 757.4h1v20.4h-1zM291.5 757.4h1v20.4h-1zM297 757.4h1v20.4h-1zM299 757.4h1v20.4h-1zM307 757.4h1v20.4h-1zM308.5 757.4h1v20.4h-1zM313 757.4h0.5v20.4h-0.5zM322 757.4h1v20.4h-1zM337.5 757.4h1v20.4h-1zM408.5 757.4h1v20.4h-1zM416.5 757.4h1v20.4h-1zM471.5 757.4h0.5v20.4h-0.5zM477 757.4h0.5v20.4h-0.5zM482.5 757.4h0.5v20.4h-0.5zM487 757.4h1v20.4h-1zM515.5 757.4h0.5v20.4h-0.5zM525 757.4h1v20.4h-1zM584 757.4h1v20.4h-1zM591.5 757.4h1v20.4h-1zM606.5 757.4h1v20.4h-1zM634 757.4h1v20.4h-1zM638 757.4h1v20.4h-1zM654.5 757.4h0.5v20.4h-0.5zM684.5 757.4h1v20.4h-1zM696.5 757.4h1v20.4h-1zM761.5 757.4h1v20.4h-1zM781.5 757.4h1v20.4h-1zM806 757.4h0.5v20.4h-0.5zM824 757.4h1v20.4h-1zM827.5 757.4h1v20.4h-1zM895 757.4h1v20.4h-1zM927 757.4h0.5v20.4h-0.5zM943.5 757.4h0.5v20.4h-0.5zM952.5 757.4h1v20.4h-1z" fill="#3f6fac" fill-opacity="0.9"/>
<rect x="67.2" y="756.7" width="927.1" height="21.8" rx="10.6" fill="none" stroke="#000" stroke-width="1.8"/>
<text x="21.0" y="774.9" font-size="13.5" fill="#1a1a1a">Chr2R</text>
<path d="M494.5 784.3h1v20.4h-1zM908 784.3h1v20.4h-1zM1070.5 784.3h1v20.4h-1z" fill="#f1ee92" fill-opacity="0.95"/>
<path d="M104 784.3h2v20.4h-2zM479.5 784.3h1v20.4h-1zM891 784.3h1v20.4h-1zM1077.5 784.3h1v20.4h-1z" fill="#b3a3cf" fill-opacity="0.95"/>
<path d="M83 784.3h0.5v20.4h-0.5zM91 784.3h1v20.4h-1zM99.5 784.3h1v20.4h-1zM107 784.3h1v20.4h-1zM109 784.3h2v20.4h-2zM111 784.3h0.5v20.4h-0.5zM113.5 784.3h1v20.4h-1zM116.5 784.3h1v20.4h-1zM119 784.3h2v20.4h-2zM122.5 784.3h1v20.4h-1zM135.5 784.3h1v20.4h-1zM136.5 784.3h0.5v20.4h-0.5zM145 784.3h1v20.4h-1zM155.5 784.3h1v20.4h-1zM157 784.3h1v20.4h-1zM159 784.3h1v20.4h-1zM161 784.3h2v20.4h-2zM163.5 784.3h0.5v20.4h-0.5zM165.5 784.3h1v20.4h-1zM167 784.3h1v20.4h-1zM183.5 784.3h0.5v20.4h-0.5zM185.5 784.3h1v20.4h-1zM187.5 784.3h1v20.4h-1zM199 784.3h0.5v20.4h-0.5zM201 784.3h2v20.4h-2zM203.5 784.3h2v20.4h-2zM206.5 784.3h1v20.4h-1zM211 784.3h1v20.4h-1zM216.5 784.3h1v20.4h-1zM218.5 784.3h2v20.4h-2zM221 784.3h0.5v20.4h-0.5zM223.5 784.3h2v20.4h-2zM226 784.3h1.5v20.4h-1.5zM229.5 784.3h1v20.4h-1zM231 784.3h1v20.4h-1zM248 784.3h1.5v20.4h-1.5zM251.5 784.3h2v20.4h-2zM254 784.3h1.5v20.4h-1.5zM255.5 784.3h2v20.4h-2zM259.5 784.3h0.5v20.4h-0.5zM262.5 784.3h1v20.4h-1zM264 784.3h0.5v20.4h-0.5zM266.5 784.3h1v20.4h-1zM270.5 784.3h0.5v20.4h-0.5zM271 784.3h2v20.4h-2zM276.5 784.3h1.5v20.4h-1.5zM278 784.3h1v20.4h-1zM284 784.3h1v20.4h-1zM286.5 784.3h1v20.4h-1zM289.5 784.3h1.5v20.4h-1.5zM291.5 784.3h1v20.4h-1zM293.5 784.3h0.5v20.4h-0.5zM302 784.3h1v20.4h-1zM305.5 784.3h1.5v20.4h-1.5zM312.5 784.3h2v20.4h-2zM320 784.3h2v20.4h-2zM324.5 784.3h1v20.4h-1zM330 784.3h1.5v20.4h-1.5zM332 784.3h1v20.4h-1zM334.5 784.3h1.5v20.4h-1.5zM338.5 784.3h1v20.4h-1zM347.5 784.3h2v20.4h-2zM351.5 784.3h2v20.4h-2zM355.5 784.3h0.5v20.4h-0.5zM357 784.3h1v20.4h-1zM359 784.3h2v20.4h-2zM363.5 784.3h0.5v20.4h-0.5zM367 784.3h0.5v20.4h-0.5zM371.5 784.3h0.5v20.4h-0.5zM373.5 784.3h0.5v20.4h-0.5zM376 784.3h2v20.4h-2zM380.5 784.3h1v20.4h-1zM382 784.3h1.5v20.4h-1.5zM393.5 784.3h1v20.4h-1zM397.5 784.3h1.5v20.4h-1.5zM400 784.3h0.5v20.4h-0.5zM401 784.3h0.5v20.4h-0.5zM401.5 784.3h0.5v20.4h-0.5zM402.5 784.3h1v20.4h-1zM406 784.3h0.5v20.4h-0.5zM406.5 784.3h2v20.4h-2zM409.5 784.3h0.5v20.4h-0.5zM410.5 784.3h0.5v20.4h-0.5zM411.5 784.3h1v20.4h-1zM413.5 784.3h2v20.4h-2zM417 784.3h1.5v20.4h-1.5zM420.5 784.3h1v20.4h-1zM424.5 784.3h0.5v20.4h-0.5zM426 784.3h1v20.4h-1zM430.5 784.3h0.5v20.4h-0.5zM434 784.3h1.5v20.4h-1.5zM438 784.3h0.5v20.4h-0.5zM439 784.3h1v20.4h-1zM443 784.3h1v20.4h-1zM446.5 784.3h1.5v20.4h-1.5zM449 784.3h0.5v20.4h-0.5zM451.5 784.3h2v20.4h-2zM454 784.3h1.5v20.4h-1.5zM456.5 784.3h1v20.4h-1zM459 784.3h1v20.4h-1zM462 784.3h1v20.4h-1zM463.5 784.3h2v20.4h-2zM466 784.3h2v20.4h-2zM469 784.3h2v20.4h-2zM471.5 784.3h1v20.4h-1zM473.5 784.3h1v20.4h-1zM475 784.3h1v20.4h-1zM478.5 784.3h1v20.4h-1zM481.5 784.3h2v20.4h-2zM484 784.3h1v20.4h-1zM488 784.3h1v20.4h-1zM489.5 784.3h1.5v20.4h-1.5zM493 784.3h1v20.4h-1zM496 784.3h1v20.4h-1zM500 784.3h1.5v20.4h-1.5zM502 784.3h0.5v20.4h-0.5zM502.5 784.3h1v20.4h-1zM505 784.3h1v20.4h-1zM506.5 784.3h1.5v20.4h-1.5zM515 784.3h1.5v20.4h-1.5zM516.5 784.3h1v20.4h-1zM526.5 784.3h1v20.4h-1zM527.5 784.3h2v20.4h-2zM530.5 784.3h1v20.4h-1zM535.5 784.3h1v20.4h-1zM537.5 784.3h2v20.4h-2zM540.5 784.3h1.5v20.4h-1.5zM547 784.3h0.5v20.4h-0.5zM548 784.3h1v20.4h-1zM549.5 784.3h1v20.4h-1zM552 784.3h2v20.4h-2zM558.5 784.3h1.5v20.4h-1.5zM572 784.3h1v20.4h-1zM580.5 784.3h1.5v20.4h-1.5zM582.5 784.3h1.5v20.4h-1.5zM584.5 784.3h1v20.4h-1zM590 784.3h2v20.4h-2zM594.5 784.3h1v20.4h-1zM596.5 784.3h1v20.4h-1zM600 784.3h2v20.4h-2zM602.5 784.3h2v20.4h-2zM604.5 784.3h2v20.4h-2zM606.5 784.3h0.5v20.4h-0.5zM608 784.3h1.5v20.4h-1.5zM613 784.3h1v20.4h-1zM618.5 784.3h0.5v20.4h-0.5zM621 784.3h1v20.4h-1zM622.5 784.3h0.5v20.4h-0.5zM630.5 784.3h1.5v20.4h-1.5zM632.5 784.3h2v20.4h-2zM635 784.3h1v20.4h-1zM636.5 784.3h1v20.4h-1zM638 784.3h1v20.4h-1zM640 784.3h1.5v20.4h-1.5zM642.5 784.3h1.5v20.4h-1.5zM645 784.3h1v20.4h-1zM646 784.3h0.5v20.4h-0.5zM646.5 784.3h1v20.4h-1zM649.5 784.3h1v20.4h-1zM652.5 784.3h0.5v20.4h-0.5zM653.5 784.3h1v20.4h-1zM655.5 784.3h2v20.4h-2zM658 784.3h0.5v20.4h-0.5zM660 784.3h1v20.4h-1zM663 784.3h2v20.4h-2zM666 784.3h0.5v20.4h-0.5zM666.5 784.3h1v20.4h-1zM669.5 784.3h2v20.4h-2zM672.5 784.3h1v20.4h-1zM673.5 784.3h1.5v20.4h-1.5zM676 784.3h0.5v20.4h-0.5zM677 784.3h1v20.4h-1zM681 784.3h1v20.4h-1zM684 784.3h1v20.4h-1zM689.5 784.3h0.5v20.4h-0.5zM693 784.3h1v20.4h-1zM695 784.3h1v20.4h-1zM696.5 784.3h1v20.4h-1zM699.5 784.3h1v20.4h-1zM702.5 784.3h2v20.4h-2zM707 784.3h1v20.4h-1zM708 784.3h1.5v20.4h-1.5zM710 784.3h0.5v20.4h-0.5zM711 784.3h1v20.4h-1zM713 784.3h1.5v20.4h-1.5zM715.5 784.3h1.5v20.4h-1.5zM718.5 784.3h2v20.4h-2zM721.5 784.3h1v20.4h-1zM723 784.3h2v20.4h-2zM728 784.3h2v20.4h-2zM734.5 784.3h1v20.4h-1zM745.5 784.3h1v20.4h-1zM753.5 784.3h0.5v20.4h-0.5zM754 784.3h1v20.4h-1zM757.5 784.3h1v20.4h-1zM762.5 784.3h2v20.4h-2zM764.5 784.3h1.5v20.4h-1.5zM766.5 784.3h1v20.4h-1zM769.5 784.3h1v20.4h-1zM771 784.3h1v20.4h-1zM773 784.3h1v20.4h-1zM776 784.3h1v20.4h-1zM779.5 784.3h0.5v20.4h-0.5zM780 784.3h1v20.4h-1zM783 784.3h2v20.4h-2zM786.5 784.3h1.5v20.4h-1.5zM789 784.3h2v20.4h-2zM794 784.3h0.5v20.4h-0.5zM795 784.3h1v20.4h-1zM798 784.3h1.5v20.4h-1.5zM801.5 784.3h1v20.4h-1zM803 784.3h1v20.4h-1zM810.5 784.3h1v20.4h-1zM812.5 784.3h1v20.4h-1zM818 784.3h0.5v20.4h-0.5zM819.5 784.3h1v20.4h-1zM821.5 784.3h2v20.4h-2zM826 784.3h1v20.4h-1zM828 784.3h1v20.4h-1zM829 784.3h0.5v20.4h-0.5zM832 784.3h1v20.4h-1zM833.5 784.3h1.5v20.4h-1.5zM836.5 784.3h0.5v20.4h-0.5zM837.5 784.3h0.5v20.4h-0.5zM838.5 784.3h1.5v20.4h-1.5zM841 784.3h1v20.4h-1zM842 784.3h1v20.4h-1zM844 784.3h1.5v20.4h-1.5zM845.5 784.3h1v20.4h-1zM846.5 784.3h1v20.4h-1zM848 784.3h1v20.4h-1zM850 784.3h2v20.4h-2zM853 784.3h1v20.4h-1zM854.5 784.3h2v20.4h-2zM858 784.3h1.5v20.4h-1.5zM861.5 784.3h1v20.4h-1zM863.5 784.3h1v20.4h-1zM865 784.3h1v20.4h-1zM871 784.3h1.5v20.4h-1.5zM874 784.3h1.5v20.4h-1.5zM876 784.3h1v20.4h-1zM877.5 784.3h1.5v20.4h-1.5zM879.5 784.3h2v20.4h-2zM885.5 784.3h1v20.4h-1zM890 784.3h0.5v20.4h-0.5zM892.5 784.3h1v20.4h-1zM893.5 784.3h1.5v20.4h-1.5zM896.5 784.3h1.5v20.4h-1.5zM899 784.3h0.5v20.4h-0.5zM899.5 784.3h2v20.4h-2zM903 784.3h0.5v20.4h-0.5zM904 784.3h1v20.4h-1zM906 784.3h1.5v20.4h-1.5zM911 784.3h0.5v20.4h-0.5zM916 784.3h1v20.4h-1zM917.5 784.3h1v20.4h-1zM919 784.3h1v20.4h-1zM925.5 784.3h1v20.4h-1zM930 784.3h1v20.4h-1zM935.5 784.3h1.5v20.4h-1.5zM944 784.3h2v20.4h-2zM949 784.3h1v20.4h-1zM950.5 784.3h2v20.4h-2zM953 784.3h1v20.4h-1zM955 784.3h0.5v20.4h-0.5zM957 784.3h1v20.4h-1zM960.5 784.3h1v20.4h-1zM962.5 784.3h0.5v20.4h-0.5zM966 784.3h1v20.4h-1zM970 784.3h1.5v20.4h-1.5zM972 784.3h1.5v20.4h-1.5zM975.5 784.3h1v20.4h-1zM977.5 784.3h1v20.4h-1zM979.5 784.3h1v20.4h-1zM981.5 784.3h2v20.4h-2zM986 784.3h0.5v20.4h-0.5zM987.5 784.3h1v20.4h-1zM990 784.3h2v20.4h-2zM994.5 784.3h2v20.4h-2zM996.5 784.3h1v20.4h-1zM999.5 784.3h1.5v20.4h-1.5zM1003.5 784.3h2v20.4h-2zM1006 784.3h2v20.4h-2zM1010 784.3h1.5v20.4h-1.5zM1013 784.3h0.5v20.4h-0.5zM1014.5 784.3h1v20.4h-1zM1016 784.3h2v20.4h-2zM1019 784.3h2v20.4h-2zM1022.5 784.3h0.5v20.4h-0.5zM1023.5 784.3h0.5v20.4h-0.5zM1024.5 784.3h1v20.4h-1zM1026 784.3h1.5v20.4h-1.5zM1028.5 784.3h0.5v20.4h-0.5zM1029 784.3h1v20.4h-1zM1031 784.3h1.5v20.4h-1.5zM1032.5 784.3h1v20.4h-1zM1034 784.3h0.5v20.4h-0.5zM1034.5 784.3h1v20.4h-1zM1035.5 784.3h1v20.4h-1zM1038 784.3h1.5v20.4h-1.5zM1040 784.3h1v20.4h-1zM1042 784.3h1v20.4h-1zM1044 784.3h1v20.4h-1zM1046 784.3h1v20.4h-1zM1049.5 784.3h0.5v20.4h-0.5zM1053.5 784.3h1v20.4h-1zM1054.5 784.3h1v20.4h-1zM1055.5 784.3h1v20.4h-1zM1059 784.3h1v20.4h-1zM1066 784.3h1v20.4h-1zM1069 784.3h0.5v20.4h-0.5zM1072.5 784.3h1v20.4h-1zM1074 784.3h2v20.4h-2zM1079 784.3h1v20.4h-1zM1080.5 784.3h0.5v20.4h-0.5zM1081.5 784.3h0.5v20.4h-0.5zM1083 784.3h1v20.4h-1z" fill="#f8b88b" fill-opacity="0.95"/>
<path d="M82.5 784.3h1.5v20.4h-1.5zM90.5 784.3h1v20.4h-1zM94.5 784.3h1v20.4h-1zM96 784.3h0.5v20.4h-0.5zM99.5 784.3h1v20.4h-1zM106 784.3h2v20.4h-2zM109.5 784.3h0.5v20.4h-0.5zM112 784.3h0.5v20.4h-0.5zM115.5 784.3h2v20.4h-2zM122 784.3h1v20.4h-1zM127.5 784.3h2v20.4h-2zM133.5 784.3h0.5v20.4h-0.5zM139.5 784.3h1.5v20.4h-1.5zM142 784.3h1v20.4h-1zM143.5 784.3h1v20.4h-1zM147.5 784.3h1.5v20.4h-1.5zM151 784.3h1v20.4h-1zM152.5 784.3h1v20.4h-1zM154 784.3h1.5v20.4h-1.5zM156 784.3h0.5v20.4h-0.5zM159.5 784.3h1v20.4h-1zM161 784.3h2v20.4h-2zM164 784.3h1v20.4h-1zM165.5 784.3h1.5v20.4h-1.5zM182.5 784.3h1v20.4h-1zM185.5 784.3h1v20.4h-1zM187 784.3h0.5v20.4h-0.5zM188 784.3h1v20.4h-1zM190.5 784.3h1.5v20.4h-1.5zM193 784.3h1.5v20.4h-1.5zM194.5 784.3h2v20.4h-2zM198 784.3h0.5v20.4h-0.5zM203 784.3h1.5v20.4h-1.5zM206 784.3h1v20.4h-1zM208 784.3h1v20.4h-1zM209.5 784.3h1v20.4h-1zM211.5 784.3h0.5v20.4h-0.5zM213 784.3h2v20.4h-2zM216 784.3h1v20.4h-1zM217 784.3h2v20.4h-2zM223 784.3h1v20.4h-1zM224 784.3h1.5v20.4h-1.5zM226.5 784.3h1v20.4h-1zM233.5 784.3h1v20.4h-1zM257 784.3h0.5v20.4h-0.5zM258 784.3h1.5v20.4h-1.5zM260.5 784.3h1v20.4h-1zM261.5 784.3h1v20.4h-1zM263.5 784.3h1v20.4h-1zM265 784.3h1v20.4h-1zM266.5 784.3h0.5v20.4h-0.5zM268 784.3h1v20.4h-1zM269.5 784.3h1v20.4h-1zM273 784.3h1v20.4h-1zM275.5 784.3h1.5v20.4h-1.5zM278 784.3h2v20.4h-2zM285 784.3h1.5v20.4h-1.5zM289 784.3h0.5v20.4h-0.5zM292.5 784.3h2v20.4h-2zM298 784.3h1v20.4h-1zM304 784.3h2v20.4h-2zM307 784.3h1v20.4h-1zM318 784.3h1v20.4h-1zM321 784.3h1v20.4h-1zM323 784.3h2v20.4h-2zM326 784.3h0.5v20.4h-0.5zM331.5 784.3h1v20.4h-1zM333 784.3h1v20.4h-1zM335 784.3h2v20.4h-2zM347.5 784.3h1.5v20.4h-1.5zM350.5 784.3h2v20.4h-2zM354.5 784.3h0.5v20.4h-0.5zM359 784.3h1v20.4h-1zM361 784.3h1v20.4h-1zM371.5 784.3h2v20.4h-2zM375.5 784.3h1v20.4h-1zM377 784.3h1v20.4h-1zM379.5 784.3h1.5v20.4h-1.5zM381 784.3h2v20.4h-2zM383.5 784.3h1v20.4h-1zM386 784.3h2v20.4h-2zM389 784.3h0.5v20.4h-0.5zM395 784.3h1v20.4h-1zM396.5 784.3h0.5v20.4h-0.5zM399.5 784.3h0.5v20.4h-0.5zM403 784.3h1v20.4h-1zM405 784.3h1v20.4h-1zM406.5 784.3h1v20.4h-1zM408 784.3h1.5v20.4h-1.5zM410 784.3h1v20.4h-1zM412 784.3h1v20.4h-1zM415.5 784.3h1v20.4h-1zM418.5 784.3h1.5v20.4h-1.5zM426 784.3h1v20.4h-1zM429.5 784.3h1v20.4h-1zM434 784.3h1v20.4h-1zM435.5 784.3h1v20.4h-1zM437.5 784.3h1v20.4h-1zM440 784.3h1v20.4h-1zM442 784.3h2v20.4h-2zM445.5 784.3h1v20.4h-1zM446.5 784.3h1v20.4h-1zM448 784.3h0.5v20.4h-0.5zM453 784.3h1v20.4h-1zM454 784.3h1v20.4h-1zM456 784.3h0.5v20.4h-0.5zM458 784.3h1v20.4h-1zM460 784.3h2v20.4h-2zM462.5 784.3h2v20.4h-2zM465.5 784.3h2v20.4h-2zM475 784.3h1.5v20.4h-1.5zM477 784.3h1v20.4h-1zM481.5 784.3h1v20.4h-1zM484 784.3h1.5v20.4h-1.5zM486 784.3h1.5v20.4h-1.5zM495 784.3h0.5v20.4h-0.5zM496 784.3h1v20.4h-1zM501 784.3h1v20.4h-1zM503.5 784.3h1v20.4h-1zM507.5 784.3h1v20.4h-1zM509 784.3h0.5v20.4h-0.5zM509.5 784.3h1v20.4h-1zM511.5 784.3h2v20.4h-2zM515 784.3h0.5v20.4h-0.5zM520 784.3h1.5v20.4h-1.5zM524.5 784.3h2v20.4h-2zM529 784.3h1.5v20.4h-1.5zM534 784.3h2v20.4h-2zM553 784.3h1.5v20.4h-1.5zM555 784.3h2v20.4h-2zM559.5 784.3h1v20.4h-1zM564.5 784.3h0.5v20.4h-0.5zM565.5 784.3h2v20.4h-2zM577 784.3h2v20.4h-2zM581.5 784.3h0.5v20.4h-0.5zM582 784.3h2v20.4h-2zM585 784.3h1.5v20.4h-1.5zM590 784.3h1v20.4h-1zM592 784.3h1v20.4h-1zM596 784.3h1v20.4h-1zM597.5 784.3h1v20.4h-1zM601.5 784.3h1.5v20.4h-1.5zM606.5 784.3h0.5v20.4h-0.5zM607.5 784.3h1v20.4h-1zM609 784.3h1v20.4h-1zM610.5 784.3h1v20.4h-1zM611.5 784.3h1v20.4h-1zM613 784.3h0.5v20.4h-0.5zM617.5 784.3h1.5v20.4h-1.5zM619.5 784.3h1v20.4h-1zM621.5 784.3h1v20.4h-1zM624 784.3h1v20.4h-1zM628 784.3h1v20.4h-1zM630 784.3h1.5v20.4h-1.5zM632.5 784.3h1v20.4h-1zM635 784.3h1v20.4h-1zM636 784.3h0.5v20.4h-0.5zM637 784.3h0.5v20.4h-0.5zM643 784.3h2v20.4h-2zM648.5 784.3h1v20.4h-1zM652 784.3h1v20.4h-1zM655.5 784.3h1v20.4h-1zM658.5 784.3h0.5v20.4h-0.5zM659 784.3h0.5v20.4h-0.5zM661.5 784.3h1v20.4h-1zM665 784.3h2v20.4h-2zM668 784.3h2v20.4h-2zM674 784.3h1v20.4h-1zM676.5 784.3h1v20.4h-1zM677.5 784.3h1v20.4h-1zM682 784.3h1v20.4h-1zM688 784.3h2v20.4h-2zM691 784.3h1.5v20.4h-1.5zM698 784.3h1v20.4h-1zM702.5 784.3h1v20.4h-1zM705.5 784.3h0.5v20.4h-0.5zM709.5 784.3h1v20.4h-1zM722 784.3h0.5v20.4h-0.5zM729.5 784.3h1.5v20.4h-1.5zM740 784.3h1v20.4h-1zM750.5 784.3h1v20.4h-1zM752 784.3h0.5v20.4h-0.5zM753 784.3h1v20.4h-1zM754.5 784.3h1v20.4h-1zM757 784.3h1v20.4h-1zM762.5 784.3h1v20.4h-1zM764 784.3h1.5v20.4h-1.5zM767 784.3h2v20.4h-2zM771.5 784.3h1v20.4h-1zM774 784.3h1v20.4h-1zM777 784.3h1v20.4h-1zM789 784.3h2v20.4h-2zM793 784.3h1v20.4h-1zM797 784.3h1.5v20.4h-1.5zM799 784.3h1.5v20.4h-1.5zM801 784.3h1v20.4h-1zM802 784.3h1v20.4h-1zM804.5 784.3h1v20.4h-1zM806 784.3h1v20.4h-1zM810 784.3h1v20.4h-1zM814 784.3h0.5v20.4h-0.5zM816 784.3h2v20.4h-2zM819.5 784.3h1v20.4h-1zM821.5 784.3h2v20.4h-2zM824 784.3h0.5v20.4h-0.5zM825 784.3h1.5v20.4h-1.5zM831.5 784.3h1v20.4h-1zM834.5 784.3h1v20.4h-1zM838.5 784.3h2v20.4h-2zM843.5 784.3h2v20.4h-2zM846.5 784.3h1.5v20.4h-1.5zM851 784.3h2v20.4h-2zM853.5 784.3h1v20.4h-1zM857 784.3h1v20.4h-1zM861 784.3h1.5v20.4h-1.5zM865 784.3h1.5v20.4h-1.5zM868.5 784.3h1v20.4h-1zM870 784.3h1v20.4h-1zM875 784.3h0.5v20.4h-0.5zM876.5 784.3h1v20.4h-1zM878 784.3h1v20.4h-1zM882 784.3h1.5v20.4h-1.5zM884 784.3h2v20.4h-2zM889.5 784.3h2v20.4h-2zM898.5 784.3h1v20.4h-1zM902.5 784.3h1v20.4h-1zM904 784.3h1v20.4h-1zM913.5 784.3h2v20.4h-2zM916 784.3h2v20.4h-2zM920 784.3h1.5v20.4h-1.5zM938 784.3h0.5v20.4h-0.5zM938.5 784.3h1v20.4h-1zM940 784.3h1.5v20.4h-1.5zM945.5 784.3h2v20.4h-2zM948 784.3h0.5v20.4h-0.5zM949.5 784.3h1.5v20.4h-1.5zM952.5 784.3h1.5v20.4h-1.5zM954.5 784.3h1.5v20.4h-1.5zM958.5 784.3h1v20.4h-1zM962 784.3h1.5v20.4h-1.5zM965 784.3h1v20.4h-1zM968 784.3h1v20.4h-1zM971.5 784.3h1v20.4h-1zM973.5 784.3h1v20.4h-1zM976 784.3h0.5v20.4h-0.5zM977.5 784.3h1v20.4h-1zM983.5 784.3h1.5v20.4h-1.5zM985 784.3h1.5v20.4h-1.5zM989 784.3h1v20.4h-1zM990.5 784.3h2v20.4h-2zM993 784.3h1v20.4h-1zM995 784.3h2v20.4h-2zM997.5 784.3h1v20.4h-1zM1000 784.3h0.5v20.4h-0.5zM1000.5 784.3h1.5v20.4h-1.5zM1002 784.3h2v20.4h-2zM1005 784.3h2v20.4h-2zM1007.5 784.3h0.5v20.4h-0.5zM1009 784.3h0.5v20.4h-0.5zM1013 784.3h2v20.4h-2zM1015 784.3h1v20.4h-1zM1018.5 784.3h1v20.4h-1zM1021.5 784.3h2v20.4h-2zM1026.5 784.3h0.5v20.4h-0.5zM1041.5 784.3h0.5v20.4h-0.5zM1042 784.3h1.5v20.4h-1.5zM1044 784.3h2v20.4h-2zM1046.5 784.3h1.5v20.4h-1.5zM1049.5 784.3h1v20.4h-1zM1055 784.3h1v20.4h-1zM1057 784.3h1v20.4h-1zM1059.5 784.3h1.5v20.4h-1.5zM1062 784.3h1v20.4h-1zM1064 784.3h2v20.4h-2zM1067 784.3h2v20.4h-2zM1073 784.3h2v20.4h-2zM1076.5 784.3h1v20.4h-1zM1082 784.3h1v20.4h-1z" fill="#7ac57d" fill-opacity="0.85"/>
<path d="M186 784.3h0.5v20.4h-0.5zM197.5 784.3h1v20.4h-1zM997 784.3h0.5v20.4h-0.5zM999 784.3h1v20.4h-1z" fill="#b3a3cf" fill-opacity="0.9"/>
<path d="M100.5 784.3h1v20.4h-1zM129.5 784.3h1v20.4h-1zM147.5 784.3h0.5v20.4h-0.5zM162 784.3h1v20.4h-1zM187 784.3h1v20.4h-1zM194.5 784.3h1v20.4h-1zM205 784.3h0.5v20.4h-0.5zM207 784.3h0.5v20.4h-0.5zM221.5 784.3h1v20.4h-1zM255.5 784.3h1v20.4h-1zM256.5 784.3h0.5v20.4h-0.5zM265.5 784.3h1v20.4h-1zM314 784.3h0.5v20.4h-0.5zM316 784.3h0.5v20.4h-0.5zM385.5 784.3h1v20.4h-1zM388.5 784.3h1v20.4h-1zM393.5 784.3h1v20.4h-1zM435.5 784.3h1v20.4h-1zM464 784.3h1v20.4h-1zM477.5 784.3h1v20.4h-1zM539 784.3h0.5v20.4h-0.5zM568.5 784.3h1v20.4h-1zM637.5 784.3h1v20.4h-1zM646 784.3h0.5v20.4h-0.5zM656 784.3h1v20.4h-1zM660.5 784.3h0.5v20.4h-0.5zM697 784.3h0.5v20.4h-0.5zM859.5 784.3h1v20.4h-1zM870.5 784.3h0.5v20.4h-0.5zM877 784.3h0.5v20.4h-0.5zM886 784.3h1v20.4h-1zM933 784.3h0.5v20.4h-0.5zM991.5 784.3h0.5v20.4h-0.5zM1006.5 784.3h0.5v20.4h-0.5zM1056 784.3h1v20.4h-1zM1063 784.3h1v20.4h-1zM1078 784.3h1v20.4h-1zM1079 784.3h1v20.4h-1z" fill="#3f6fac" fill-opacity="0.9"/>
<rect x="67.2" y="783.6" width="1028" height="21.8" rx="10.6" fill="none" stroke="#000" stroke-width="1.8"/>
<text x="21.0" y="800.6" font-size="13.5" fill="#1a1a1a">Chr3L</text>
<path d="M200.5 811.2h1v20.4h-1zM745 811.2h1v20.4h-1zM898.5 811.2h0.5v20.4h-0.5zM1050 811.2h1.5v20.4h-1.5zM1184 811.2h0.5v20.4h-0.5zM1208.5 811.2h0.5v20.4h-0.5z" fill="#f1ee92" fill-opacity="0.95"/>
<path d="M95.5 811.2h1v20.4h-1zM330 811.2h1.5v20.4h-1.5zM404 811.2h1.5v20.4h-1.5zM454.5 811.2h1.5v20.4h-1.5zM705.5 811.2h1v20.4h-1zM1213.5 811.2h1.5v20.4h-1.5z" fill="#b3a3cf" fill-opacity="0.95"/>
<path d="M78 811.2h1v20.4h-1zM79.5 811.2h0.5v20.4h-0.5zM80.5 811.2h1v20.4h-1zM81.5 811.2h1.5v20.4h-1.5zM83.5 811.2h1v20.4h-1zM85.5 811.2h1v20.4h-1zM87 811.2h1.5v20.4h-1.5zM88.5 811.2h0.5v20.4h-0.5zM89.5 811.2h1v20.4h-1zM91 811.2h1.5v20.4h-1.5zM92.5 811.2h2v20.4h-2zM97.5 811.2h1v20.4h-1zM99.5 811.2h1.5v20.4h-1.5zM101 811.2h0.5v20.4h-0.5zM102 811.2h1v20.4h-1zM105.5 811.2h1v20.4h-1zM107 811.2h2v20.4h-2zM110 811.2h1.5v20.4h-1.5zM112 811.2h0.5v20.4h-0.5zM114 811.2h1.5v20.4h-1.5zM120.5 811.2h1v20.4h-1zM126.5 811.2h1v20.4h-1zM128.5 811.2h0.5v20.4h-0.5zM130 811.2h1v20.4h-1zM132 811.2h1.5v20.4h-1.5zM134 811.2h1.5v20.4h-1.5zM137 811.2h1v20.4h-1zM138.5 811.2h1v20.4h-1zM140 811.2h1v20.4h-1zM142.5 811.2h1v20.4h-1zM144.5 811.2h1v20.4h-1zM145.5 811.2h1v20.4h-1zM147.5 811.2h1v20.4h-1zM149.5 811.2h1v20.4h-1zM151 811.2h1v20.4h-1zM155 811.2h2v20.4h-2zM157.5 811.2h2v20.4h-2zM161 811.2h0.5v20.4h-0.5zM162 811.2h2v20.4h-2zM164 811.2h0.5v20.4h-0.5zM165 811.2h1v20.4h-1zM179.5 811.2h0.5v20.4h-0.5zM182 811.2h0.5v20.4h-0.5zM183.5 811.2h0.5v20.4h-0.5zM185.5 811.2h1.5v20.4h-1.5zM187.5 811.2h1v20.4h-1zM188.5 811.2h0.5v20.4h-0.5zM191 811.2h1v20.4h-1zM192 811.2h1v20.4h-1zM193 811.2h1.5v20.4h-1.5zM197 811.2h2v20.4h-2zM199 811.2h1v20.4h-1zM201.5 811.2h2v20.4h-2zM205.5 811.2h2v20.4h-2zM207.5 811.2h1v20.4h-1zM210.5 811.2h2v20.4h-2zM214.5 811.2h1v20.4h-1zM220.5 811.2h2v20.4h-2zM223.5 811.2h1v20.4h-1zM225.5 811.2h1v20.4h-1zM227 811.2h0.5v20.4h-0.5zM228 811.2h0.5v20.4h-0.5zM229 811.2h0.5v20.4h-0.5zM230.5 811.2h1v20.4h-1zM232 811.2h1v20.4h-1zM234 811.2h1v20.4h-1zM235 811.2h1v20.4h-1zM236.5 811.2h2v20.4h-2zM244.5 811.2h1.5v20.4h-1.5zM246.5 811.2h0.5v20.4h-0.5zM247.5 811.2h2v20.4h-2zM253.5 811.2h1v20.4h-1zM257 811.2h0.5v20.4h-0.5zM258 811.2h1v20.4h-1zM262 811.2h2v20.4h-2zM265 811.2h1.5v20.4h-1.5zM266.5 811.2h1v20.4h-1zM268 811.2h2v20.4h-2zM270.5 811.2h0.5v20.4h-0.5zM271.5 811.2h1v20.4h-1zM273.5 811.2h1v20.4h-1zM278 811.2h0.5v20.4h-0.5zM279 811.2h1.5v20.4h-1.5zM281 811.2h1.5v20.4h-1.5zM283.5 811.2h1.5v20.4h-1.5zM286 811.2h1.5v20.4h-1.5zM288.5 811.2h1.5v20.4h-1.5zM290.5 811.2h1v20.4h-1zM292 811.2h0.5v20.4h-0.5zM303 811.2h2v20.4h-2zM309 811.2h1v20.4h-1zM310.5 811.2h1v20.4h-1zM312.5 811.2h2v20.4h-2zM316 811.2h1v20.4h-1zM319.5 811.2h1v20.4h-1zM322 811.2h1v20.4h-1zM324 811.2h1v20.4h-1zM325.5 811.2h1.5v20.4h-1.5zM327 811.2h0.5v20.4h-0.5zM332 811.2h1v20.4h-1zM335 811.2h0.5v20.4h-0.5zM337 811.2h1v20.4h-1zM338.5 811.2h2v20.4h-2zM342 811.2h1.5v20.4h-1.5zM345.5 811.2h1v20.4h-1zM347.5 811.2h0.5v20.4h-0.5zM353 811.2h1v20.4h-1zM354.5 811.2h0.5v20.4h-0.5zM355.5 811.2h1v20.4h-1zM371 811.2h1v20.4h-1zM374 811.2h1v20.4h-1zM377 811.2h2v20.4h-2zM381 811.2h1v20.4h-1zM384.5 811.2h1.5v20.4h-1.5zM386.5 811.2h1v20.4h-1zM389 811.2h2v20.4h-2zM393.5 811.2h0.5v20.4h-0.5zM395.5 811.2h1.5v20.4h-1.5zM398 811.2h2v20.4h-2zM402 811.2h0.5v20.4h-0.5zM403 811.2h1v20.4h-1zM406 811.2h1v20.4h-1zM408 811.2h1.5v20.4h-1.5zM409.5 811.2h0.5v20.4h-0.5zM411.5 811.2h0.5v20.4h-0.5zM412.5 811.2h1v20.4h-1zM417.5 811.2h1v20.4h-1zM421.5 811.2h2v20.4h-2zM423.5 811.2h1v20.4h-1zM427 811.2h2v20.4h-2zM429.5 811.2h1.5v20.4h-1.5zM431.5 811.2h1v20.4h-1zM433.5 811.2h1.5v20.4h-1.5zM435 811.2h1v20.4h-1zM437 811.2h0.5v20.4h-0.5zM438 811.2h1v20.4h-1zM439.5 811.2h0.5v20.4h-0.5zM441 811.2h1v20.4h-1zM442 811.2h0.5v20.4h-0.5zM443 811.2h0.5v20.4h-0.5zM444.5 811.2h0.5v20.4h-0.5zM446 811.2h1v20.4h-1zM447.5 811.2h1v20.4h-1zM449 811.2h1v20.4h-1zM451 811.2h1v20.4h-1zM453 811.2h1v20.4h-1zM457 811.2h1v20.4h-1zM458.5 811.2h2v20.4h-2zM461.5 811.2h0.5v20.4h-0.5zM464 811.2h2v20.4h-2zM467.5 811.2h1v20.4h-1zM469 811.2h2v20.4h-2zM471.5 811.2h1.5v20.4h-1.5zM474 811.2h1v20.4h-1zM475.5 811.2h2v20.4h-2zM482.5 811.2h1v20.4h-1zM485 811.2h1v20.4h-1zM487 811.2h1v20.4h-1zM489 811.2h1.5v20.4h-1.5zM492 811.2h0.5v20.4h-0.5zM494 811.2h1v20.4h-1zM497.5 811.2h1v20.4h-1zM499.5 811.2h1.5v20.4h-1.5zM501 811.2h1.5v20.4h-1.5zM502.5 811.2h1v20.4h-1zM505.5 811.2h1v20.4h-1zM508 811.2h1v20.4h-1zM509.5 811.2h2v20.4h-2zM514.5 811.2h0.5v20.4h-0.5zM517 811.2h1.5v20.4h-1.5zM521 811.2h2v20.4h-2zM524.5 811.2h1.5v20.4h-1.5zM528.5 811.2h1v20.4h-1zM530 811.2h1.5v20.4h-1.5zM532 811.2h0.5v20.4h-0.5zM536.5 811.2h1v20.4h-1zM540.5 811.2h1.5v20.4h-1.5zM544.5 811.2h1v20.4h-1zM552.5 811.2h1v20.4h-1zM555 811.2h1v20.4h-1zM557.5 811.2h2v20.4h-2zM560 811.2h2v20.4h-2zM567 811.2h2v20.4h-2zM572 811.2h2v20.4h-2zM576 811.2h1v20.4h-1zM579 811.2h1.5v20.4h-1.5zM585 811.2h1.5v20.4h-1.5zM588.5 811.2h0.5v20.4h-0.5zM591.5 811.2h1.5v20.4h-1.5zM594 811.2h1v20.4h-1zM595.5 811.2h1v20.4h-1zM597 811.2h1v20.4h-1zM598 811.2h1v20.4h-1zM599.5 811.2h0.5v20.4h-0.5zM600.5 811.2h1.5v20.4h-1.5zM605 811.2h2v20.4h-2zM611 811.2h1.5v20.4h-1.5zM617.5 811.2h1v20.4h-1zM620.5 811.2h2v20.4h-2zM623.5 811.2h0.5v20.4h-0.5zM624 811.2h1v20.4h-1zM626 811.2h1v20.4h-1zM627 811.2h1.5v20.4h-1.5zM628.5 811.2h0.5v20.4h-0.5zM629 811.2h0.5v20.4h-0.5zM630 811.2h0.5v20.4h-0.5zM630.5 811.2h1v20.4h-1zM633.5 811.2h0.5v20.4h-0.5zM634 811.2h1.5v20.4h-1.5zM636 811.2h2v20.4h-2zM638.5 811.2h1.5v20.4h-1.5zM640.5 811.2h1.5v20.4h-1.5zM643 811.2h1v20.4h-1zM645 811.2h1v20.4h-1zM647 811.2h2v20.4h-2zM649.5 811.2h1v20.4h-1zM650.5 811.2h1v20.4h-1zM652 811.2h2v20.4h-2zM655 811.2h2v20.4h-2zM666.5 811.2h1v20.4h-1zM668.5 811.2h1v20.4h-1zM670.5 811.2h2v20.4h-2zM674 811.2h1.5v20.4h-1.5zM675.5 811.2h1.5v20.4h-1.5zM680.5 811.2h0.5v20.4h-0.5zM681.5 811.2h1v20.4h-1zM683.5 811.2h0.5v20.4h-0.5zM686 811.2h1v20.4h-1zM687.5 811.2h1v20.4h-1zM689 811.2h1v20.4h-1zM690 811.2h1.5v20.4h-1.5zM693 811.2h2v20.4h-2zM695 811.2h2v20.4h-2zM698 811.2h1v20.4h-1zM699 811.2h0.5v20.4h-0.5zM700 811.2h1v20.4h-1zM701.5 811.2h1.5v20.4h-1.5zM703 811.2h1v20.4h-1zM704.5 811.2h0.5v20.4h-0.5zM707 811.2h1v20.4h-1zM711.5 811.2h1v20.4h-1zM712.5 811.2h1v20.4h-1zM714.5 811.2h1.5v20.4h-1.5zM717 811.2h1v20.4h-1zM730.5 811.2h1v20.4h-1zM741.5 811.2h0.5v20.4h-0.5zM743.5 811.2h1v20.4h-1zM746.5 811.2h1v20.4h-1zM751.5 811.2h1.5v20.4h-1.5zM754 811.2h0.5v20.4h-0.5zM756.5 811.2h1.5v20.4h-1.5zM760 811.2h2v20.4h-2zM762 811.2h1.5v20.4h-1.5zM764 811.2h0.5v20.4h-0.5zM767 811.2h2v20.4h-2zM769 811.2h0.5v20.4h-0.5zM771 811.2h0.5v20.4h-0.5zM772 811.2h1v20.4h-1zM775 811.2h1v20.4h-1zM776.5 811.2h1v20.4h-1zM779.5 811.2h1.5v20.4h-1.5zM783.5 811.2h0.5v20.4h-0.5zM786.5 811.2h2v20.4h-2zM789 811.2h1v20.4h-1zM791.5 811.2h1v20.4h-1zM799 811.2h1v20.4h-1zM801.5 811.2h1v20.4h-1zM804.5 811.2h1v20.4h-1zM810 811.2h0.5v20.4h-0.5zM812.5 811.2h1v20.4h-1zM815.5 811.2h0.5v20.4h-0.5zM816.5 811.2h1v20.4h-1zM818 811.2h1v20.4h-1zM820 811.2h1.5v20.4h-1.5zM821.5 811.2h1.5v20.4h-1.5zM823.5 811.2h1v20.4h-1zM824.5 811.2h1v20.4h-1zM826.5 811.2h1v20.4h-1zM828 811.2h1v20.4h-1zM829 811.2h1.5v20.4h-1.5zM831 811.2h2v20.4h-2zM833 811.2h2v20.4h-2zM836 811.2h1v20.4h-1zM837 811.2h1v20.4h-1zM839 811.2h1v20.4h-1zM842 811.2h1v20.4h-1zM844.5 811.2h0.5v20.4h-0.5zM847.5 811.2h1v20.4h-1zM850.5 811.2h1v20.4h-1zM853.5 811.2h2v20.4h-2zM858 811.2h2v20.4h-2zM863 811.2h0.5v20.4h-0.5zM864 811.2h2v20.4h-2zM867 811.2h1.5v20.4h-1.5zM869.5 811.2h0.5v20.4h-0.5zM870 811.2h1v20.4h-1zM871.5 811.2h1v20.4h-1zM872.5 811.2h1v20.4h-1zM874.5 811.2h1v20.4h-1zM876 811.2h1v20.4h-1zM877.5 811.2h1.5v20.4h-1.5zM881 811.2h2v20.4h-2zM886.5 811.2h1v20.4h-1zM888.5 811.2h2v20.4h-2zM891.5 811.2h1v20.4h-1zM893 811.2h1.5v20.4h-1.5zM895.5 811.2h1v20.4h-1zM896.5 811.2h1v20.4h-1zM899.5 811.2h1v20.4h-1zM904 811.2h1v20.4h-1zM906 811.2h1v20.4h-1zM910 811.2h0.5v20.4h-0.5zM911.5 811.2h1v20.4h-1zM914.5 811.2h1.5v20.4h-1.5zM918.5 811.2h2v20.4h-2zM921 811.2h1.5v20.4h-1.5zM923.5 811.2h1v20.4h-1zM926.5 811.2h1v20.4h-1zM931 811.2h2v20.4h-2zM936.5 811.2h0.5v20.4h-0.5zM939 811.2h0.5v20.4h-0.5zM942.5 811.2h1v20.4h-1zM944 811.2h1.5v20.4h-1.5zM947.5 811.2h1.5v20.4h-1.5zM951 811.2h1.5v20.4h-1.5zM956 811.2h2v20.4h-2zM963 811.2h2v20.4h-2zM968.5 811.2h1v20.4h-1zM973 811.2h1v20.4h-1zM977 811.2h2v20.4h-2zM986.5 811.2h1.5v20.4h-1.5zM990 811.2h0.5v20.4h-0.5zM991 811.2h1v20.4h-1zM992.5 811.2h1v20.4h-1zM994.5 811.2h1v20.4h-1zM995.5 811.2h2v20.4h-2zM998.5 811.2h1v20.4h-1zM1000 811.2h1.5v20.4h-1.5zM1002 811.2h1v20.4h-1zM1003.5 811.2h1v20.4h-1zM1005 811.2h2v20.4h-2zM1010 811.2h1v20.4h-1zM1011.5 811.2h0.5v20.4h-0.5zM1012.5 811.2h1v20.4h-1zM1014 811.2h0.5v20.4h-0.5zM1017.5 811.2h1.5v20.4h-1.5zM1019.5 811.2h1v20.4h-1zM1022 811.2h1.5v20.4h-1.5zM1028 811.2h0.5v20.4h-0.5zM1030 811.2h2v20.4h-2zM1034 811.2h1.5v20.4h-1.5zM1035.5 811.2h2v20.4h-2zM1038 811.2h1v20.4h-1zM1039.5 811.2h1v20.4h-1zM1041 811.2h2v20.4h-2zM1043.5 811.2h1v20.4h-1zM1045.5 811.2h1v20.4h-1zM1047 811.2h1v20.4h-1zM1048.5 811.2h1v20.4h-1zM1055 811.2h1v20.4h-1zM1057.5 811.2h1v20.4h-1zM1060.5 811.2h1v20.4h-1zM1062 811.2h2v20.4h-2zM1065.5 811.2h0.5v20.4h-0.5zM1066.5 811.2h1v20.4h-1zM1068 811.2h2v20.4h-2zM1070.5 811.2h1v20.4h-1zM1072 811.2h1.5v20.4h-1.5zM1074 811.2h1v20.4h-1zM1075 811.2h1v20.4h-1zM1076.5 811.2h0.5v20.4h-0.5zM1077 811.2h1v20.4h-1zM1081.5 811.2h2v20.4h-2zM1083.5 811.2h1.5v20.4h-1.5zM1086.5 811.2h1v20.4h-1zM1088.5 811.2h0.5v20.4h-0.5zM1089 811.2h1v20.4h-1zM1096 811.2h2v20.4h-2zM1108.5 811.2h1v20.4h-1zM1115.5 811.2h1v20.4h-1zM1122.5 811.2h0.5v20.4h-0.5zM1124 811.2h1v20.4h-1zM1125.5 811.2h0.5v20.4h-0.5zM1126.5 811.2h2v20.4h-2zM1128.5 811.2h2v20.4h-2zM1131.5 811.2h1v20.4h-1zM1143.5 811.2h2v20.4h-2zM1151 811.2h0.5v20.4h-0.5zM1178.5 811.2h1v20.4h-1zM1186 811.2h1v20.4h-1zM1188.5 811.2h0.5v20.4h-0.5zM1190.5 811.2h2v20.4h-2zM1195 811.2h1v20.4h-1zM1199 811.2h1v20.4h-1zM1203 811.2h1.5v20.4h-1.5zM1206 811.2h2v20.4h-2zM1209.5 811.2h1v20.4h-1zM1212 811.2h1.5v20.4h-1.5zM1216 811.2h1v20.4h-1zM1217.5 811.2h1v20.4h-1zM1219 811.2h2v20.4h-2zM1221.5 811.2h1v20.4h-1zM1223.5 811.2h0.5v20.4h-0.5zM1224.5 811.2h2v20.4h-2z" fill="#f8b88b" fill-opacity="0.95"/>
<path d="M78 811.2h1v20.4h-1zM79.5 811.2h1v20.4h-1zM83 811.2h1v20.4h-1zM84.5 811.2h1v20.4h-1zM86 811.2h1.5v20.4h-1.5zM89 811.2h1v20.4h-1zM90 811.2h1v20.4h-1zM92 811.2h0.5v20.4h-0.5zM97.5 811.2h0.5v20.4h-0.5zM102.5 811.2h1.5v20.4h-1.5zM107.5 811.2h1v20.4h-1zM109 811.2h1v20.4h-1zM112 811.2h0.5v20.4h-0.5zM112.5 811.2h1v20.4h-1zM114 811.2h2v20.4h-2zM117.5 811.2h1v20.4h-1zM119 811.2h1v20.4h-1zM122 811.2h2v20.4h-2zM125 811.2h0.5v20.4h-0.5zM125.5 811.2h1v20.4h-1zM127 811.2h2v20.4h-2zM131 811.2h2v20.4h-2zM133.5 811.2h1.5v20.4h-1.5zM135.5 811.2h1v20.4h-1zM137 811.2h2v20.4h-2zM139.5 811.2h1v20.4h-1zM141 811.2h1.5v20.4h-1.5zM143.5 811.2h1v20.4h-1zM145 811.2h0.5v20.4h-0.5zM147 811.2h1v20.4h-1zM148 811.2h1v20.4h-1zM150 811.2h0.5v20.4h-0.5zM151 811.2h0.5v20.4h-0.5zM152 811.2h2v20.4h-2zM156 811.2h0.5v20.4h-0.5zM157 811.2h0.5v20.4h-0.5zM160.5 811.2h0.5v20.4h-0.5zM163.5 811.2h1v20.4h-1zM164.5 811.2h1.5v20.4h-1.5zM166.5 811.2h1.5v20.4h-1.5zM169 811.2h1.5v20.4h-1.5zM171 811.2h1v20.4h-1zM174 811.2h1.5v20.4h-1.5zM175.5 811.2h1v20.4h-1zM177.5 811.2h1.5v20.4h-1.5zM179.5 811.2h1.5v20.4h-1.5zM182 811.2h1v20.4h-1zM184 811.2h2v20.4h-2zM186.5 811.2h1v20.4h-1zM188 811.2h1v20.4h-1zM189.5 811.2h1v20.4h-1zM190.5 811.2h1v20.4h-1zM192 811.2h1v20.4h-1zM194 811.2h1v20.4h-1zM195.5 811.2h1v20.4h-1zM196.5 811.2h1v20.4h-1zM198 811.2h1v20.4h-1zM199.5 811.2h1.5v20.4h-1.5zM202 811.2h2v20.4h-2zM204 811.2h1v20.4h-1zM207.5 811.2h2v20.4h-2zM210 811.2h2v20.4h-2zM213 811.2h2v20.4h-2zM216.5 811.2h1.5v20.4h-1.5zM220.5 811.2h1v20.4h-1zM229 811.2h1.5v20.4h-1.5zM234.5 811.2h1v20.4h-1zM237 811.2h1v20.4h-1zM239.5 811.2h2v20.4h-2zM247 811.2h2v20.4h-2zM250 811.2h2v20.4h-2zM255.5 811.2h1v20.4h-1zM257 811.2h1v20.4h-1zM259.5 811.2h1.5v20.4h-1.5zM261.5 811.2h1.5v20.4h-1.5zM264 811.2h2v20.4h-2zM267.5 811.2h1v20.4h-1zM274 811.2h1v20.4h-1zM275.5 811.2h1v20.4h-1zM281.5 811.2h1v20.4h-1zM283.5 811.2h0.5v20.4h-0.5zM287.5 811.2h1v20.4h-1zM289.5 811.2h1v20.4h-1zM299.5 811.2h1v20.4h-1zM305 811.2h1v20.4h-1zM306 811.2h1.5v20.4h-1.5zM308 811.2h1v20.4h-1zM309.5 811.2h1v20.4h-1zM312 811.2h0.5v20.4h-0.5zM312.5 811.2h1.5v20.4h-1.5zM314.5 811.2h1v20.4h-1zM315.5 811.2h1v20.4h-1zM318 811.2h0.5v20.4h-0.5zM319.5 811.2h2v20.4h-2zM322 811.2h1v20.4h-1zM324 811.2h1v20.4h-1zM327 811.2h2v20.4h-2zM330 811.2h0.5v20.4h-0.5zM333.5 811.2h1v20.4h-1zM335 811.2h2v20.4h-2zM338.5 811.2h0.5v20.4h-0.5zM340 811.2h2v20.4h-2zM345.5 811.2h1.5v20.4h-1.5zM348 811.2h0.5v20.4h-0.5zM352.5 811.2h2v20.4h-2zM357 811.2h1v20.4h-1zM358 811.2h0.5v20.4h-0.5zM359 811.2h1v20.4h-1zM362.5 811.2h0.5v20.4h-0.5zM363 811.2h1v20.4h-1zM364 811.2h1v20.4h-1zM366 811.2h0.5v20.4h-0.5zM367 811.2h2v20.4h-2zM369.5 811.2h1v20.4h-1zM373 811.2h1v20.4h-1zM375 811.2h1v20.4h-1zM376.5 811.2h1v20.4h-1zM379 811.2h1v20.4h-1zM381.5 811.2h2v20.4h-2zM386.5 811.2h0.5v20.4h-0.5zM388 811.2h1v20.4h-1zM389 811.2h1v20.4h-1zM390.5 811.2h1.5v20.4h-1.5zM393.5 811.2h1v20.4h-1zM397 811.2h1v20.4h-1zM409 811.2h0.5v20.4h-0.5zM411.5 811.2h0.5v20.4h-0.5zM416.5 811.2h1.5v20.4h-1.5zM420 811.2h1v20.4h-1zM422.5 811.2h2v20.4h-2zM425 811.2h1v20.4h-1zM427.5 811.2h1v20.4h-1zM429 811.2h1v20.4h-1zM430 811.2h1v20.4h-1zM434 811.2h2v20.4h-2zM439.5 811.2h1v20.4h-1zM445 811.2h1v20.4h-1zM446.5 811.2h1v20.4h-1zM448 811.2h2v20.4h-2zM450 811.2h0.5v20.4h-0.5zM453.5 811.2h0.5v20.4h-0.5zM458 811.2h1.5v20.4h-1.5zM464 811.2h1v20.4h-1zM466.5 811.2h1v20.4h-1zM474.5 811.2h2v20.4h-2zM477.5 811.2h1v20.4h-1zM480.5 811.2h0.5v20.4h-0.5zM483 811.2h1v20.4h-1zM488 811.2h1.5v20.4h-1.5zM489.5 811.2h1v20.4h-1zM493 811.2h1v20.4h-1zM494.5 811.2h1v20.4h-1zM498 811.2h1v20.4h-1zM499.5 811.2h0.5v20.4h-0.5zM500 811.2h1.5v20.4h-1.5zM502.5 811.2h1v20.4h-1zM503.5 811.2h2v20.4h-2zM506.5 811.2h1.5v20.4h-1.5zM510 811.2h2v20.4h-2zM514.5 811.2h1v20.4h-1zM516.5 811.2h2v20.4h-2zM521 811.2h2v20.4h-2zM523 811.2h1.5v20.4h-1.5zM525.5 811.2h1.5v20.4h-1.5zM527.5 811.2h1v20.4h-1zM530 811.2h1v20.4h-1zM537 811.2h1v20.4h-1zM539 811.2h1.5v20.4h-1.5zM542.5 811.2h1v20.4h-1zM545.5 811.2h0.5v20.4h-0.5zM547 811.2h1v20.4h-1zM548 811.2h1v20.4h-1zM552 811.2h1v20.4h-1zM554 811.2h1.5v20.4h-1.5zM556 811.2h1v20.4h-1zM559.5 811.2h0.5v20.4h-0.5zM561 811.2h1v20.4h-1zM562 811.2h1v20.4h-1zM565.5 811.2h1v20.4h-1zM567.5 811.2h1v20.4h-1zM569 811.2h2v20.4h-2zM574 811.2h1.5v20.4h-1.5zM576.5 811.2h1v20.4h-1zM578.5 811.2h1.5v20.4h-1.5zM580.5 811.2h1v20.4h-1zM585 811.2h1v20.4h-1zM586 811.2h1v20.4h-1zM594.5 811.2h1.5v20.4h-1.5zM598 811.2h1v20.4h-1zM600 811.2h1v20.4h-1zM601.5 811.2h2v20.4h-2zM606.5 811.2h1v20.4h-1zM609 811.2h1v20.4h-1zM613 811.2h1v20.4h-1zM614 811.2h0.5v20.4h-0.5zM615.5 811.2h0.5v20.4h-0.5zM617.5 811.2h1v20.4h-1zM619.5 811.2h2v20.4h-2zM622 811.2h1v20.4h-1zM624 811.2h1v20.4h-1zM632 811.2h2v20.4h-2zM635.5 811.2h0.5v20.4h-0.5zM637 811.2h1v20.4h-1zM650.5 811.2h1v20.4h-1zM652.5 811.2h1v20.4h-1zM654 811.2h1.5v20.4h-1.5zM664 811.2h1v20.4h-1zM675.5 811.2h1v20.4h-1zM677 811.2h1.5v20.4h-1.5zM681 811.2h0.5v20.4h-0.5zM681.5 811.2h0.5v20.4h-0.5zM685 811.2h1v20.4h-1zM686.5 811.2h0.5v20.4h-0.5zM691 811.2h1v20.4h-1zM701 811.2h1v20.4h-1zM703 811.2h1.5v20.4h-1.5zM706 811.2h1v20.4h-1zM711.5 811.2h1.5v20.4h-1.5zM716 811.2h1.5v20.4h-1.5zM721.5 811.2h1v20.4h-1zM723.5 811.2h1v20.4h-1zM725 811.2h1v20.4h-1zM726.5 811.2h1v20.4h-1zM728 811.2h2v20.4h-2zM731 811.2h1v20.4h-1zM732.5 811.2h1v20.4h-1zM733.5 811.2h2v20.4h-2zM736 811.2h1v20.4h-1zM737 811.2h1v20.4h-1zM739 811.2h0.5v20.4h-0.5zM739.5 811.2h0.5v20.4h-0.5zM742 811.2h1v20.4h-1zM743.5 811.2h1v20.4h-1zM745 811.2h1v20.4h-1zM751.5 811.2h1.5v20.4h-1.5zM754 811.2h1v20.4h-1zM756 811.2h1v20.4h-1zM758.5 811.2h1v20.4h-1zM760 811.2h0.5v20.4h-0.5zM762 811.2h1v20.4h-1zM763.5 811.2h1v20.4h-1zM765 811.2h1.5v20.4h-1.5zM766.5 811.2h1.5v20.4h-1.5zM768.5 811.2h1v20.4h-1zM772.5 811.2h1v20.4h-1zM774 811.2h1v20.4h-1zM776.5 811.2h1v20.4h-1zM778 811.2h0.5v20.4h-0.5zM779 811.2h0.5v20.4h-0.5zM781 811.2h0.5v20.4h-0.5zM787 811.2h2v20.4h-2zM792 811.2h1v20.4h-1zM798 811.2h1v20.4h-1zM801.5 811.2h1v20.4h-1zM806.5 811.2h1v20.4h-1zM808 811.2h1v20.4h-1zM809.5 811.2h1v20.4h-1zM811.5 811.2h1v20.4h-1zM823.5 811.2h2v20.4h-2zM826.5 811.2h1v20.4h-1zM832.5 811.2h1v20.4h-1zM849.5 811.2h1v20.4h-1zM857 811.2h1v20.4h-1zM862 811.2h1v20.4h-1zM865 811.2h1v20.4h-1zM868.5 811.2h1v20.4h-1zM872.5 811.2h0.5v20.4h-0.5zM880.5 811.2h2v20.4h-2zM885.5 811.2h1.5v20.4h-1.5zM892.5 811.2h0.5v20.4h-0.5zM894 811.2h0.5v20.4h-0.5zM897 811.2h1.5v20.4h-1.5zM908 811.2h1v20.4h-1zM911.5 811.2h2v20.4h-2zM915 811.2h0.5v20.4h-0.5zM916.5 811.2h1v20.4h-1zM918.5 811.2h0.5v20.4h-0.5zM919.5 811.2h1v20.4h-1zM921 811.2h2v20.4h-2zM923.5 811.2h0.5v20.4h-0.5zM924.5 811.2h2v20.4h-2zM927 811.2h1v20.4h-1zM931 811.2h1.5v20.4h-1.5zM933 811.2h1v20.4h-1zM936 811.2h1v20.4h-1zM937.5 811.2h1v20.4h-1zM938.5 811.2h2v20.4h-2zM942.5 811.2h1.5v20.4h-1.5zM948.5 811.2h2v20.4h-2zM953 811.2h0.5v20.4h-0.5zM955.5 811.2h2v20.4h-2zM967.5 811.2h2v20.4h-2zM969.5 811.2h1v20.4h-1zM974 811.2h1.5v20.4h-1.5zM976.5 811.2h0.5v20.4h-0.5zM978 811.2h1v20.4h-1zM979.5 811.2h1v20.4h-1zM981 811.2h1v20.4h-1zM983 811.2h1.5v20.4h-1.5zM986 811.2h1.5v20.4h-1.5zM988 811.2h1v20.4h-1zM991 811.2h0.5v20.4h-0.5zM992.5 811.2h2v20.4h-2zM996 811.2h2v20.4h-2zM998.5 811.2h0.5v20.4h-0.5zM1000.5 811.2h1v20.4h-1zM1010.5 811.2h1v20.4h-1zM1021.5 811.2h2v20.4h-2zM1023.5 811.2h1v20.4h-1zM1026.5 811.2h1v20.4h-1zM1032.5 811.2h1.5v20.4h-1.5zM1035.5 811.2h1v20.4h-1zM1040 811.2h2v20.4h-2zM1044 811.2h1v20.4h-1zM1047 811.2h0.5v20.4h-0.5zM1049.5 811.2h1v20.4h-1zM1056.5 811.2h1v20.4h-1zM1061 811.2h1v20.4h-1zM1069.5 811.2h0.5v20.4h-0.5zM1075 811.2h1.5v20.4h-1.5zM1085.5 811.2h1v20.4h-1zM1090.5 811.2h1v20.4h-1zM1093 811.2h1v20.4h-1zM1094 811.2h1v20.4h-1zM1095.5 811.2h1v20.4h-1zM1097 811.2h1v20.4h-1zM1099 811.2h0.5v20.4h-0.5zM1103.5 811.2h1v20.4h-1zM1104.5 811.2h1v20.4h-1zM1108.5 811.2h2v20.4h-2zM1115 811.2h1.5v20.4h-1.5zM1117 811.2h1v20.4h-1zM1118 811.2h1v20.4h-1zM1120.5 811.2h1v20.4h-1zM1123 811.2h0.5v20.4h-0.5zM1125.5 811.2h1v20.4h-1zM1129.5 811.2h1v20.4h-1zM1131.5 811.2h2v20.4h-2zM1136 811.2h0.5v20.4h-0.5zM1140.5 811.2h1v20.4h-1zM1142.5 811.2h1v20.4h-1zM1145.5 811.2h2v20.4h-2zM1148.5 811.2h0.5v20.4h-0.5zM1149.5 811.2h2v20.4h-2zM1155.5 811.2h2v20.4h-2zM1181.5 811.2h1.5v20.4h-1.5zM1188.5 811.2h0.5v20.4h-0.5zM1192 811.2h1v20.4h-1zM1194.5 811.2h1v20.4h-1zM1197.5 811.2h1v20.4h-1zM1208 811.2h2v20.4h-2zM1211.5 811.2h1v20.4h-1zM1213.5 811.2h1.5v20.4h-1.5zM1215 811.2h0.5v20.4h-0.5zM1221 811.2h1v20.4h-1zM1225.5 811.2h1.5v20.4h-1.5zM1227 811.2h0.2v20.4h-0.2z" fill="#7ac57d" fill-opacity="0.85"/>
<path d="M80.5 811.2h1v20.4h-1zM135.5 811.2h1v20.4h-1zM182.5 811.2h1v20.4h-1zM191.5 811.2h1v20.4h-1zM231 811.2h1v20.4h-1zM244 811.2h0.5v20.4h-0.5zM257.5 811.2h1v20.4h-1zM401.5 811.2h1v20.4h-1zM421.5 811.2h1v20.4h-1zM475 811.2h0.5v20.4h-0.5zM568 811.2h1v20.4h-1zM636.5 811.2h1v20.4h-1zM836 811.2h1v20.4h-1zM877.5 811.2h1v20.4h-1zM958 811.2h1v20.4h-1zM971 811.2h1v20.4h-1z" fill="#b3a3cf" fill-opacity="0.9"/>
<path d="M93 811.2h1v20.4h-1zM94 811.2h1v20.4h-1zM98.5 811.2h0.5v20.4h-0.5zM100.5 811.2h1v20.4h-1zM102.5 811.2h1v20.4h-1zM104.5 811.2h0.5v20.4h-0.5zM107 811.2h0.5v20.4h-0.5zM123 811.2h1v20.4h-1zM134 811.2h0.5v20.4h-0.5zM161.5 811.2h0.5v20.4h-0.5zM165.5 811.2h1v20.4h-1zM172.5 811.2h0.5v20.4h-0.5zM176.5 811.2h1v20.4h-1zM180 811.2h1v20.4h-1zM199 811.2h1v20.4h-1zM208.5 811.2h0.5v20.4h-0.5zM213 811.2h1v20.4h-1zM219.5 811.2h1v20.4h-1zM224 811.2h1v20.4h-1zM226 811.2h0.5v20.4h-0.5zM232 811.2h1v20.4h-1zM239.5 811.2h1v20.4h-1zM251 811.2h0.5v20.4h-0.5zM252.5 811.2h1v20.4h-1zM261.5 811.2h0.5v20.4h-0.5zM278 811.2h1v20.4h-1zM284.5 811.2h1v20.4h-1zM286 811.2h0.5v20.4h-0.5zM292.5 811.2h1v20.4h-1zM299 811.2h1v20.4h-1zM305 811.2h1v20.4h-1zM312 811.2h0.5v20.4h-0.5zM342.5 811.2h1v20.4h-1zM392 811.2h1v20.4h-1zM409 811.2h0.5v20.4h-0.5zM610 811.2h1v20.4h-1zM612 811.2h1v20.4h-1zM634 811.2h1v20.4h-1zM641 811.2h1v20.4h-1zM667 811.2h1v20.4h-1zM669.5 811.2h1v20.4h-1zM724.5 811.2h1v20.4h-1zM792.5 811.2h0.5v20.4h-0.5zM826.5 811.2h1v20.4h-1zM875 811.2h1v20.4h-1zM923.5 811.2h1v20.4h-1zM1024.5 811.2h1v20.4h-1zM1085 811.2h1v20.4h-1zM1102 811.2h1v20.4h-1zM1183.5 811.2h0.5v20.4h-0.5zM1190.5 811.2h1v20.4h-1zM1193 811.2h1v20.4h-1zM1194.5 811.2h0.5v20.4h-0.5zM1202 811.2h1v20.4h-1zM1213.5 811.2h1v20.4h-1z" fill="#3f6fac" fill-opacity="0.9"/>
<rect x="67.2" y="810.5" width="1170.7" height="21.8" rx="10.6" fill="none" stroke="#000" stroke-width="1.8"/>
<text x="21.0" y="825.9" font-size="13.5" fill="#1a1a1a">Chr3R</text>
<path d="M152 838.1h1v20.4h-1zM299 838.1h2v20.4h-2zM307.5 838.1h1v20.4h-1zM323.5 838.1h1v20.4h-1zM792.5 838.1h0.5v20.4h-0.5zM888 838.1h1v20.4h-1z" fill="#f1ee92" fill-opacity="0.95"/>
<path d="M191 838.1h1v20.4h-1z" fill="#b3a3cf" fill-opacity="0.95"/>
<path d="M80.5 838.1h1v20.4h-1zM82.5 838.1h1v20.4h-1zM85.5 838.1h1v20.4h-1zM107 838.1h0.5v20.4h-0.5zM108 838.1h2v20.4h-2zM111.5 838.1h1v20.4h-1zM114 838.1h0.5v20.4h-0.5zM117.5 838.1h0.5v20.4h-0.5zM118.5 838.1h0.5v20.4h-0.5zM128.5 838.1h2v20.4h-2zM134.5 838.1h0.5v20.4h-0.5zM136 838.1h0.5v20.4h-0.5zM138 838.1h2v20.4h-2zM145.5 838.1h1v20.4h-1zM155 838.1h2v20.4h-2zM168.5 838.1h1.5v20.4h-1.5zM172.5 838.1h1v20.4h-1zM174.5 838.1h1.5v20.4h-1.5zM178.5 838.1h1v20.4h-1zM179.5 838.1h1v20.4h-1zM181.5 838.1h1v20.4h-1zM195.5 838.1h0.5v20.4h-0.5zM215 838.1h2v20.4h-2zM220.5 838.1h2v20.4h-2zM223.5 838.1h1.5v20.4h-1.5zM226.5 838.1h1v20.4h-1zM230 838.1h0.5v20.4h-0.5zM233 838.1h1.5v20.4h-1.5zM236 838.1h1v20.4h-1zM238.5 838.1h1v20.4h-1zM242 838.1h2v20.4h-2zM244 838.1h0.5v20.4h-0.5zM244.5 838.1h0.5v20.4h-0.5zM246 838.1h2v20.4h-2zM249 838.1h1v20.4h-1zM253 838.1h1v20.4h-1zM257 838.1h1v20.4h-1zM258.5 838.1h1.5v20.4h-1.5zM260.5 838.1h2v20.4h-2zM263 838.1h1v20.4h-1zM264 838.1h1v20.4h-1zM266 838.1h2v20.4h-2zM276 838.1h1.5v20.4h-1.5zM279 838.1h0.5v20.4h-0.5zM280.5 838.1h1.5v20.4h-1.5zM283 838.1h1v20.4h-1zM285 838.1h1v20.4h-1zM287 838.1h1v20.4h-1zM288.5 838.1h1.5v20.4h-1.5zM290.5 838.1h1.5v20.4h-1.5zM293 838.1h1v20.4h-1zM294.5 838.1h1v20.4h-1zM296.5 838.1h0.5v20.4h-0.5zM301.5 838.1h1.5v20.4h-1.5zM303.5 838.1h2v20.4h-2zM308.5 838.1h2v20.4h-2zM311 838.1h1v20.4h-1zM313 838.1h1v20.4h-1zM314.5 838.1h1v20.4h-1zM316.5 838.1h1v20.4h-1zM321 838.1h0.5v20.4h-0.5zM324.5 838.1h1.5v20.4h-1.5zM326.5 838.1h2v20.4h-2zM335.5 838.1h1v20.4h-1zM339.5 838.1h1v20.4h-1zM344 838.1h1.5v20.4h-1.5zM349 838.1h2v20.4h-2zM353 838.1h1v20.4h-1zM355 838.1h1v20.4h-1zM358 838.1h1v20.4h-1zM359 838.1h1.5v20.4h-1.5zM361.5 838.1h1v20.4h-1zM362.5 838.1h1v20.4h-1zM365.5 838.1h1v20.4h-1zM370 838.1h2v20.4h-2zM372 838.1h1.5v20.4h-1.5zM383 838.1h1v20.4h-1zM388.5 838.1h1v20.4h-1zM397.5 838.1h1.5v20.4h-1.5zM400.5 838.1h1.5v20.4h-1.5zM404 838.1h1v20.4h-1zM405.5 838.1h1.5v20.4h-1.5zM408 838.1h1v20.4h-1zM409.5 838.1h1v20.4h-1zM411 838.1h1.5v20.4h-1.5zM413 838.1h2v20.4h-2zM415 838.1h2v20.4h-2zM418.5 838.1h0.5v20.4h-0.5zM419.5 838.1h1v20.4h-1zM420.5 838.1h2v20.4h-2zM423.5 838.1h1.5v20.4h-1.5zM427 838.1h1.5v20.4h-1.5zM430.5 838.1h0.5v20.4h-0.5zM432 838.1h0.5v20.4h-0.5zM432.5 838.1h1v20.4h-1zM439.5 838.1h1v20.4h-1zM441 838.1h1v20.4h-1zM442.5 838.1h0.5v20.4h-0.5zM446 838.1h1v20.4h-1zM449 838.1h1.5v20.4h-1.5zM453 838.1h1.5v20.4h-1.5zM456 838.1h1v20.4h-1zM457 838.1h1v20.4h-1zM460 838.1h2v20.4h-2zM462.5 838.1h1v20.4h-1zM464 838.1h1v20.4h-1zM466 838.1h1v20.4h-1zM467.5 838.1h0.5v20.4h-0.5zM468 838.1h1v20.4h-1zM470 838.1h1v20.4h-1zM471.5 838.1h1v20.4h-1zM473 838.1h1v20.4h-1zM474.5 838.1h2v20.4h-2zM477 838.1h1v20.4h-1zM478.5 838.1h1.5v20.4h-1.5zM481 838.1h1.5v20.4h-1.5zM483 838.1h1v20.4h-1zM484.5 838.1h1v20.4h-1zM485.5 838.1h1v20.4h-1zM490 838.1h1.5v20.4h-1.5zM491.5 838.1h1.5v20.4h-1.5zM494 838.1h1v20.4h-1zM496 838.1h1v20.4h-1zM511 838.1h0.5v20.4h-0.5zM512 838.1h1v20.4h-1zM521.5 838.1h2v20.4h-2zM525.5 838.1h0.5v20.4h-0.5zM528.5 838.1h1v20.4h-1zM533 838.1h1v20.4h-1zM536.5 838.1h1v20.4h-1zM541 838.1h0.5v20.4h-0.5zM542.5 838.1h0.5v20.4h-0.5zM543.5 838.1h1v20.4h-1zM545.5 838.1h0.5v20.4h-0.5zM547 838.1h1v20.4h-1zM548 838.1h2v20.4h-2zM553 838.1h1v20.4h-1zM554.5 838.1h1.5v20.4h-1.5zM557 838.1h1v20.4h-1zM559.5 838.1h2v20.4h-2zM569.5 838.1h0.5v20.4h-0.5zM572.5 838.1h0.5v20.4h-0.5zM580 838.1h2v20.4h-2zM584 838.1h1.5v20.4h-1.5zM588.5 838.1h2v20.4h-2zM591 838.1h1v20.4h-1zM593 838.1h1.5v20.4h-1.5zM597 838.1h1v20.4h-1zM598.5 838.1h1v20.4h-1zM600 838.1h1v20.4h-1zM601.5 838.1h1v20.4h-1zM604 838.1h2v20.4h-2zM609 838.1h1v20.4h-1zM610.5 838.1h0.5v20.4h-0.5zM612 838.1h1v20.4h-1zM616 838.1h2v20.4h-2zM618.5 838.1h2v20.4h-2zM621.5 838.1h0.5v20.4h-0.5zM622.5 838.1h1.5v20.4h-1.5zM624 838.1h0.5v20.4h-0.5zM625.5 838.1h1v20.4h-1zM628 838.1h1v20.4h-1zM633.5 838.1h1v20.4h-1zM639 838.1h2v20.4h-2zM642 838.1h1v20.4h-1zM647 838.1h1v20.4h-1zM649 838.1h1.5v20.4h-1.5zM650.5 838.1h1v20.4h-1zM651.5 838.1h1v20.4h-1zM653 838.1h1.5v20.4h-1.5zM656.5 838.1h1v20.4h-1zM659 838.1h1v20.4h-1zM660.5 838.1h1v20.4h-1zM665.5 838.1h1v20.4h-1zM666.5 838.1h1v20.4h-1zM668 838.1h1v20.4h-1zM670 838.1h0.5v20.4h-0.5zM671 838.1h1v20.4h-1zM672 838.1h1v20.4h-1zM673.5 838.1h1v20.4h-1zM675 838.1h1v20.4h-1zM676.5 838.1h1v20.4h-1zM677.5 838.1h1.5v20.4h-1.5zM680 838.1h1.5v20.4h-1.5zM682 838.1h1v20.4h-1zM683.5 838.1h0.5v20.4h-0.5zM686 838.1h1.5v20.4h-1.5zM688.5 838.1h0.5v20.4h-0.5zM689.5 838.1h1v20.4h-1zM694.5 838.1h1v20.4h-1zM696 838.1h1v20.4h-1zM697.5 838.1h1v20.4h-1zM700 838.1h1v20.4h-1zM701.5 838.1h1v20.4h-1zM703.5 838.1h1.5v20.4h-1.5zM706 838.1h1v20.4h-1zM708.5 838.1h1.5v20.4h-1.5zM711.5 838.1h0.5v20.4h-0.5zM713 838.1h2v20.4h-2zM717.5 838.1h0.5v20.4h-0.5zM718.5 838.1h1v20.4h-1zM719.5 838.1h1v20.4h-1zM724 838.1h1.5v20.4h-1.5zM728 838.1h2v20.4h-2zM730 838.1h2v20.4h-2zM732.5 838.1h0.5v20.4h-0.5zM734.5 838.1h1.5v20.4h-1.5zM736.5 838.1h1v20.4h-1zM741 838.1h0.5v20.4h-0.5zM748 838.1h2v20.4h-2zM757 838.1h2v20.4h-2zM769.5 838.1h1v20.4h-1zM777.5 838.1h1v20.4h-1zM779 838.1h2v20.4h-2zM783.5 838.1h1.5v20.4h-1.5zM788 838.1h2v20.4h-2zM795 838.1h1v20.4h-1zM796 838.1h1v20.4h-1zM797.5 838.1h1.5v20.4h-1.5zM801.5 838.1h0.5v20.4h-0.5zM802 838.1h1.5v20.4h-1.5zM809.5 838.1h1v20.4h-1zM812.5 838.1h1v20.4h-1zM821 838.1h1v20.4h-1zM825.5 838.1h1.5v20.4h-1.5zM828 838.1h0.5v20.4h-0.5zM830 838.1h2v20.4h-2zM832.5 838.1h1.5v20.4h-1.5zM836 838.1h2v20.4h-2zM838.5 838.1h1v20.4h-1zM841 838.1h2v20.4h-2zM844.5 838.1h0.5v20.4h-0.5zM845.5 838.1h1v20.4h-1zM847 838.1h1v20.4h-1zM849 838.1h1.5v20.4h-1.5zM851 838.1h0.5v20.4h-0.5zM854 838.1h1v20.4h-1zM855 838.1h0.5v20.4h-0.5zM856.5 838.1h2v20.4h-2zM859 838.1h1v20.4h-1zM861 838.1h1v20.4h-1zM863 838.1h1.5v20.4h-1.5zM866 838.1h2v20.4h-2zM870 838.1h2v20.4h-2zM872.5 838.1h1v20.4h-1zM874 838.1h1v20.4h-1zM877 838.1h1v20.4h-1zM878.5 838.1h0.5v20.4h-0.5zM880 838.1h0.5v20.4h-0.5zM885.5 838.1h1v20.4h-1zM886.5 838.1h1v20.4h-1zM892.5 838.1h0.5v20.4h-0.5zM893.5 838.1h1v20.4h-1zM895.5 838.1h1v20.4h-1zM897 838.1h1v20.4h-1zM898 838.1h1v20.4h-1zM900 838.1h1.5v20.4h-1.5zM902 838.1h2v20.4h-2zM904.5 838.1h1.5v20.4h-1.5zM906 838.1h1v20.4h-1zM911.5 838.1h2v20.4h-2zM913.5 838.1h1v20.4h-1zM915 838.1h1v20.4h-1zM917 838.1h1.5v20.4h-1.5z" fill="#f8b88b" fill-opacity="0.95"/>
<path d="M80 838.1h1v20.4h-1zM81.5 838.1h2v20.4h-2zM88 838.1h1.5v20.4h-1.5zM96.5 838.1h2v20.4h-2zM105.5 838.1h1v20.4h-1zM112 838.1h1v20.4h-1zM113.5 838.1h1.5v20.4h-1.5zM115.5 838.1h0.5v20.4h-0.5zM118 838.1h1v20.4h-1zM120 838.1h1v20.4h-1zM127.5 838.1h1v20.4h-1zM128.5 838.1h2v20.4h-2zM131 838.1h0.5v20.4h-0.5zM132.5 838.1h2v20.4h-2zM135 838.1h1v20.4h-1zM136.5 838.1h1.5v20.4h-1.5zM139.5 838.1h0.5v20.4h-0.5zM140.5 838.1h2v20.4h-2zM144.5 838.1h1v20.4h-1zM146 838.1h1v20.4h-1zM147.5 838.1h1.5v20.4h-1.5zM150 838.1h1v20.4h-1zM151 838.1h1v20.4h-1zM153 838.1h2v20.4h-2zM155.5 838.1h1v20.4h-1zM157 838.1h2v20.4h-2zM161 838.1h2v20.4h-2zM163 838.1h1.5v20.4h-1.5zM166 838.1h2v20.4h-2zM168.5 838.1h2v20.4h-2zM172 838.1h2v20.4h-2zM174.5 838.1h2v20.4h-2zM177 838.1h2v20.4h-2zM180 838.1h2v20.4h-2zM184 838.1h1.5v20.4h-1.5zM187.5 838.1h1v20.4h-1zM189 838.1h1v20.4h-1zM190 838.1h1.5v20.4h-1.5zM193.5 838.1h1v20.4h-1zM196 838.1h2v20.4h-2zM202 838.1h1.5v20.4h-1.5zM204.5 838.1h1.5v20.4h-1.5zM206.5 838.1h1v20.4h-1zM208.5 838.1h1v20.4h-1zM210 838.1h0.5v20.4h-0.5zM211 838.1h1v20.4h-1zM215.5 838.1h1v20.4h-1zM217.5 838.1h0.5v20.4h-0.5zM219 838.1h2v20.4h-2zM222 838.1h2v20.4h-2zM225.5 838.1h0.5v20.4h-0.5zM227 838.1h1.5v20.4h-1.5zM228.5 838.1h1.5v20.4h-1.5zM230.5 838.1h1v20.4h-1zM232 838.1h1v20.4h-1zM235.5 838.1h1v20.4h-1zM236.5 838.1h0.5v20.4h-0.5zM239.5 838.1h1v20.4h-1zM245 838.1h1.5v20.4h-1.5zM255 838.1h1.5v20.4h-1.5zM258 838.1h1v20.4h-1zM259.5 838.1h2v20.4h-2zM263.5 838.1h1v20.4h-1zM267.5 838.1h1v20.4h-1zM271.5 838.1h1v20.4h-1zM274.5 838.1h0.5v20.4h-0.5zM276 838.1h1.5v20.4h-1.5zM277.5 838.1h2v20.4h-2zM281 838.1h2v20.4h-2zM284.5 838.1h1v20.4h-1zM288 838.1h1v20.4h-1zM290 838.1h1v20.4h-1zM297.5 838.1h1v20.4h-1zM299 838.1h1v20.4h-1zM303.5 838.1h1v20.4h-1zM308 838.1h1.5v20.4h-1.5zM311 838.1h1v20.4h-1zM312 838.1h0.5v20.4h-0.5zM313 838.1h0.5v20.4h-0.5zM315 838.1h0.5v20.4h-0.5zM317.5 838.1h1.5v20.4h-1.5zM319.5 838.1h2v20.4h-2zM321.5 838.1h1.5v20.4h-1.5zM326 838.1h2v20.4h-2zM328 838.1h1.5v20.4h-1.5zM329.5 838.1h1v20.4h-1zM332 838.1h1v20.4h-1zM334 838.1h1.5v20.4h-1.5zM337.5 838.1h1v20.4h-1zM339.5 838.1h1v20.4h-1zM343 838.1h1v20.4h-1zM346 838.1h0.5v20.4h-0.5zM347 838.1h1v20.4h-1zM350 838.1h1.5v20.4h-1.5zM352 838.1h1v20.4h-1zM354 838.1h1v20.4h-1zM355.5 838.1h1v20.4h-1zM356.5 838.1h1.5v20.4h-1.5zM361 838.1h1v20.4h-1zM364.5 838.1h1v20.4h-1zM367 838.1h1v20.4h-1zM369.5 838.1h1v20.4h-1zM371 838.1h1v20.4h-1zM372 838.1h1.5v20.4h-1.5zM375 838.1h2v20.4h-2zM383.5 838.1h1v20.4h-1zM385.5 838.1h1v20.4h-1zM389 838.1h1v20.4h-1zM391.5 838.1h1.5v20.4h-1.5zM393.5 838.1h1.5v20.4h-1.5zM395.5 838.1h2v20.4h-2zM398 838.1h1.5v20.4h-1.5zM405 838.1h2v20.4h-2zM408 838.1h1v20.4h-1zM410.5 838.1h1.5v20.4h-1.5zM421 838.1h1v20.4h-1zM422.5 838.1h0.5v20.4h-0.5zM435 838.1h1v20.4h-1zM442 838.1h0.5v20.4h-0.5zM444.5 838.1h1v20.4h-1zM453.5 838.1h2v20.4h-2zM458 838.1h1v20.4h-1zM462 838.1h1v20.4h-1zM464.5 838.1h1v20.4h-1zM466 838.1h2v20.4h-2zM468.5 838.1h0.5v20.4h-0.5zM473 838.1h1v20.4h-1zM483.5 838.1h1v20.4h-1zM487.5 838.1h1v20.4h-1zM500 838.1h2v20.4h-2zM506.5 838.1h1v20.4h-1zM509.5 838.1h1v20.4h-1zM514 838.1h1v20.4h-1zM515.5 838.1h1v20.4h-1zM526 838.1h1v20.4h-1zM528 838.1h2v20.4h-2zM530.5 838.1h1v20.4h-1zM533 838.1h2v20.4h-2zM535.5 838.1h1v20.4h-1zM539.5 838.1h1v20.4h-1zM544 838.1h2v20.4h-2zM547.5 838.1h0.5v20.4h-0.5zM550 838.1h2v20.4h-2zM553.5 838.1h2v20.4h-2zM555.5 838.1h0.5v20.4h-0.5zM556.5 838.1h1.5v20.4h-1.5zM558.5 838.1h1v20.4h-1zM562.5 838.1h1v20.4h-1zM564.5 838.1h1v20.4h-1zM567.5 838.1h1v20.4h-1zM573 838.1h1v20.4h-1zM575.5 838.1h1v20.4h-1zM581 838.1h1v20.4h-1zM587.5 838.1h1v20.4h-1zM589 838.1h1v20.4h-1zM591 838.1h1v20.4h-1zM592.5 838.1h1v20.4h-1zM598 838.1h1.5v20.4h-1.5zM611.5 838.1h1v20.4h-1zM615 838.1h2v20.4h-2zM648.5 838.1h1.5v20.4h-1.5zM651 838.1h1v20.4h-1zM652.5 838.1h1.5v20.4h-1.5zM654 838.1h1v20.4h-1zM660.5 838.1h1v20.4h-1zM665 838.1h1v20.4h-1zM682 838.1h1.5v20.4h-1.5zM693.5 838.1h1v20.4h-1zM695 838.1h1v20.4h-1zM696.5 838.1h1v20.4h-1zM702.5 838.1h1v20.4h-1zM704 838.1h2v20.4h-2zM706.5 838.1h0.5v20.4h-0.5zM707 838.1h1v20.4h-1zM709.5 838.1h1v20.4h-1zM711.5 838.1h1v20.4h-1zM712.5 838.1h1v20.4h-1zM715 838.1h1v20.4h-1zM716.5 838.1h1v20.4h-1zM717.5 838.1h1v20.4h-1zM718.5 838.1h1v20.4h-1zM731.5 838.1h1v20.4h-1zM733 838.1h0.5v20.4h-0.5zM733.5 838.1h1.5v20.4h-1.5zM735 838.1h1.5v20.4h-1.5zM737.5 838.1h1.5v20.4h-1.5zM746.5 838.1h0.5v20.4h-0.5zM751.5 838.1h2v20.4h-2zM756 838.1h0.5v20.4h-0.5zM757 838.1h2v20.4h-2zM759 838.1h1v20.4h-1zM760 838.1h1v20.4h-1zM765.5 838.1h1v20.4h-1zM766.5 838.1h1v20.4h-1zM767.5 838.1h1v20.4h-1zM772 838.1h2v20.4h-2zM777 838.1h1v20.4h-1zM778.5 838.1h1v20.4h-1zM781.5 838.1h2v20.4h-2zM785 838.1h1v20.4h-1zM788 838.1h1v20.4h-1zM798.5 838.1h1v20.4h-1zM804 838.1h1v20.4h-1zM806 838.1h1v20.4h-1zM813.5 838.1h0.5v20.4h-0.5zM814 838.1h1.5v20.4h-1.5zM817 838.1h1.5v20.4h-1.5zM824.5 838.1h1v20.4h-1zM827.5 838.1h1v20.4h-1zM830 838.1h0.5v20.4h-0.5zM835.5 838.1h2v20.4h-2zM847.5 838.1h2v20.4h-2zM852 838.1h1v20.4h-1zM870.5 838.1h1.5v20.4h-1.5zM878.5 838.1h0.5v20.4h-0.5zM881 838.1h2v20.4h-2zM884 838.1h1v20.4h-1zM887 838.1h1v20.4h-1zM895.5 838.1h1v20.4h-1zM901 838.1h1v20.4h-1zM903.5 838.1h1v20.4h-1zM906.5 838.1h1v20.4h-1zM908.5 838.1h1v20.4h-1zM909.5 838.1h2v20.4h-2zM918 838.1h0.5v20.4h-0.5z" fill="#7ac57d" fill-opacity="0.85"/>
<path d="M163 838.1h0.5v20.4h-0.5zM416.5 838.1h0.5v20.4h-0.5zM699 838.1h1v20.4h-1zM828.5 838.1h0.5v20.4h-0.5z" fill="#b3a3cf" fill-opacity="0.9"/>
<path d="M107 838.1h1v20.4h-1zM139.5 838.1h1v20.4h-1zM144 838.1h0.5v20.4h-0.5zM170 838.1h1v20.4h-1zM181 838.1h0.5v20.4h-0.5zM192.5 838.1h1v20.4h-1zM197.5 838.1h1v20.4h-1zM232.5 838.1h1v20.4h-1zM235 838.1h1v20.4h-1zM276 838.1h0.5v20.4h-0.5zM361 838.1h1v20.4h-1zM384.5 838.1h0.5v20.4h-0.5zM397 838.1h0.5v20.4h-0.5zM400.5 838.1h0.5v20.4h-0.5zM439 838.1h0.5v20.4h-0.5zM501 838.1h0.5v20.4h-0.5zM545 838.1h1v20.4h-1zM552 838.1h1v20.4h-1zM636 838.1h1v20.4h-1zM643 838.1h0.5v20.4h-0.5zM666.5 838.1h0.5v20.4h-0.5zM700.5 838.1h1v20.4h-1zM705 838.1h1v20.4h-1zM713 838.1h1v20.4h-1zM751 838.1h1v20.4h-1zM760 838.1h0.5v20.4h-0.5zM769 838.1h0.5v20.4h-0.5zM786 838.1h1v20.4h-1zM821 838.1h1v20.4h-1zM825 838.1h1v20.4h-1zM896 838.1h0.5v20.4h-0.5zM900 838.1h1v20.4h-1zM916.5 838.1h0.5v20.4h-0.5z" fill="#3f6fac" fill-opacity="0.9"/>
<rect x="67.2" y="837.4" width="864.3" height="21.8" rx="10.6" fill="none" stroke="#000" stroke-width="1.8"/>
<text x="21.0" y="853.2" font-size="13.5" fill="#1a1a1a">ChrX</text>
<path d="M149.5 865h2v20.4h-2z" fill="#f1ee92" fill-opacity="0.95"/>
<path d="M78 865h1v20.4h-1zM79.5 865h1v20.4h-1zM81.5 865h1v20.4h-1zM83 865h2v20.4h-2zM86 865h1v20.4h-1zM88 865h1v20.4h-1zM89.5 865h0.5v20.4h-0.5zM90.5 865h1v20.4h-1zM92 865h1.5v20.4h-1.5zM94 865h1v20.4h-1zM95.5 865h1v20.4h-1zM97 865h1.5v20.4h-1.5zM99 865h1v20.4h-1zM100.5 865h1v20.4h-1zM102 865h1v20.4h-1zM103.5 865h2v20.4h-2zM106 865h0.5v20.4h-0.5zM106.5 865h1.5v20.4h-1.5zM109 865h2v20.4h-2zM111 865h0.5v20.4h-0.5zM111.5 865h1v20.4h-1zM113.5 865h1v20.4h-1zM116.5 865h1.5v20.4h-1.5zM118.5 865h0.5v20.4h-0.5zM119 865h1v20.4h-1zM120 865h0.5v20.4h-0.5zM122 865h0.5v20.4h-0.5zM122.5 865h1.5v20.4h-1.5zM124.5 865h1v20.4h-1zM126 865h1v20.4h-1zM128 865h1v20.4h-1zM130 865h0.5v20.4h-0.5zM131 865h1.5v20.4h-1.5zM134.5 865h0.5v20.4h-0.5zM135.5 865h2v20.4h-2zM138 865h1v20.4h-1zM139.5 865h1v20.4h-1zM141.5 865h1.5v20.4h-1.5zM143.5 865h0.5v20.4h-0.5zM144 865h1.5v20.4h-1.5zM146.5 865h0.5v20.4h-0.5zM148 865h1v20.4h-1zM152.5 865h1v20.4h-1zM154.5 865h0.5v20.4h-0.5zM157.5 865h1v20.4h-1zM160 865h2v20.4h-2zM162 865h1v20.4h-1zM164 865h0.5v20.4h-0.5zM165 865h1v20.4h-1zM166 865h0.5v20.4h-0.5zM166.5 865h1v20.4h-1zM172 865h1v20.4h-1zM174 865h2v20.4h-2zM177.5 865h2v20.4h-2zM180 865h0.5v20.4h-0.5zM183 865h1v20.4h-1zM187.5 865h1.5v20.4h-1.5zM189.5 865h0.5v20.4h-0.5zM192 865h1v20.4h-1zM193 865h1v20.4h-1zM196.5 865h0.5v20.4h-0.5zM197.5 865h2v20.4h-2zM200 865h1v20.4h-1zM204 865h1.5v20.4h-1.5zM205.5 865h1v20.4h-1zM207 865h2v20.4h-2zM209.5 865h0.5v20.4h-0.5z" fill="#f8b88b" fill-opacity="0.95"/>
<path d="M79 865h1.5v20.4h-1.5zM81 865h1v20.4h-1zM83 865h1v20.4h-1zM84 865h1.5v20.4h-1.5zM86.5 865h2v20.4h-2zM89 865h1v20.4h-1zM91 865h0.5v20.4h-0.5zM91.5 865h1v20.4h-1zM94.5 865h0.5v20.4h-0.5zM96.5 865h1v20.4h-1zM99 865h1v20.4h-1zM100.5 865h2v20.4h-2zM104.5 865h1v20.4h-1zM107 865h1v20.4h-1zM108.5 865h0.5v20.4h-0.5zM109.5 865h1v20.4h-1zM111.5 865h1v20.4h-1zM114.5 865h0.5v20.4h-0.5zM115.5 865h0.5v20.4h-0.5zM117 865h1.5v20.4h-1.5zM119 865h1v20.4h-1zM120.5 865h1v20.4h-1zM121.5 865h1v20.4h-1zM126.5 865h1.5v20.4h-1.5zM128 865h1.5v20.4h-1.5zM130.5 865h2v20.4h-2zM137 865h1v20.4h-1zM139 865h0.5v20.4h-0.5zM140 865h0.5v20.4h-0.5zM147 865h1v20.4h-1zM154.5 865h1v20.4h-1zM158.5 865h1v20.4h-1zM159.5 865h1v20.4h-1zM160.5 865h1v20.4h-1zM164 865h2v20.4h-2zM166 865h2v20.4h-2zM169 865h2v20.4h-2zM175.5 865h1.5v20.4h-1.5zM177 865h1v20.4h-1zM178.5 865h1v20.4h-1zM180.5 865h2v20.4h-2zM182.5 865h0.5v20.4h-0.5zM184 865h1v20.4h-1zM186 865h1v20.4h-1zM187 865h1.5v20.4h-1.5zM190 865h1v20.4h-1zM191 865h1v20.4h-1zM192.5 865h1v20.4h-1zM194.5 865h1v20.4h-1zM196 865h1v20.4h-1zM198 865h1v20.4h-1zM200 865h1v20.4h-1zM202 865h1v20.4h-1zM204 865h1v20.4h-1zM205.5 865h1v20.4h-1zM206.5 865h2v20.4h-2zM208.5 865h1v20.4h-1z" fill="#7ac57d" fill-opacity="0.85"/>
<path d="M81 865h1v20.4h-1zM103.5 865h1v20.4h-1zM106.5 865h1v20.4h-1zM108 865h1v20.4h-1zM109 865h1v20.4h-1zM115.5 865h0.5v20.4h-0.5zM126 865h1v20.4h-1zM133 865h0.5v20.4h-0.5zM153.5 865h1v20.4h-1zM157.5 865h0.5v20.4h-0.5zM163.5 865h0.5v20.4h-0.5zM165 865h0.5v20.4h-0.5zM171 865h1v20.4h-1zM176.5 865h0.5v20.4h-0.5zM187 865h1v20.4h-1zM197 865h1v20.4h-1z" fill="#3f6fac" fill-opacity="0.9"/>
<rect x="67.2" y="864.3" width="153.5" height="21.8" rx="10.6" fill="none" stroke="#000" stroke-width="1.8"/>
<text x="21.0" y="880.3" font-size="13.5" fill="#1a1a1a">ChrY</text>
<rect x="1165" y="811.3" width="0.8" height="20.4" fill="#3f6fac"/>
<rect x="1133.1" y="708.9" width="16.9" height="16.5" fill="#7ac57d"/>
<text x="1183.4" y="724.9" font-size="15.8" text-anchor="middle" fill="#111">DEL</text>
<rect x="1133.1" y="725.2" width="16.9" height="16.5" fill="#b3a3cf"/>
<text x="1183.4" y="741.2" font-size="15.8" text-anchor="middle" fill="#111">DUP</text>
<rect x="1133.1" y="741.5" width="16.9" height="16.5" fill="#f8b88b"/>
<text x="1183.4" y="757.5" font-size="15.8" text-anchor="middle" fill="#111">INS</text>
<rect x="1133.1" y="757.8" width="16.9" height="16.5" fill="#f1ee92"/>
<text x="1183.4" y="773.8" font-size="15.8" text-anchor="middle" fill="#111">INV</text>
<rect x="1133.1" y="774.1" width="16.9" height="16.5" fill="#3f6fac"/>
<text x="1183.4" y="790.1" font-size="15.8" text-anchor="middle" fill="#111">TRA</text>
</g>
<text x="27.4" y="45.3" font-size="21.6" font-weight="bold" fill="#111">a</text>
<text x="24.6" y="650.3" font-size="21.6" font-weight="bold" fill="#111">b</text>
<text x="791" y="43.8" font-size="21.6" font-weight="bold" fill="#111">c</text>
<text x="675" y="315.8" font-size="21.6" font-weight="bold" fill="#111">d</text>
<text x="891.6" y="316.3" font-size="21.6" font-weight="bold" fill="#111">e</text>
</svg>
</body>
</html>
